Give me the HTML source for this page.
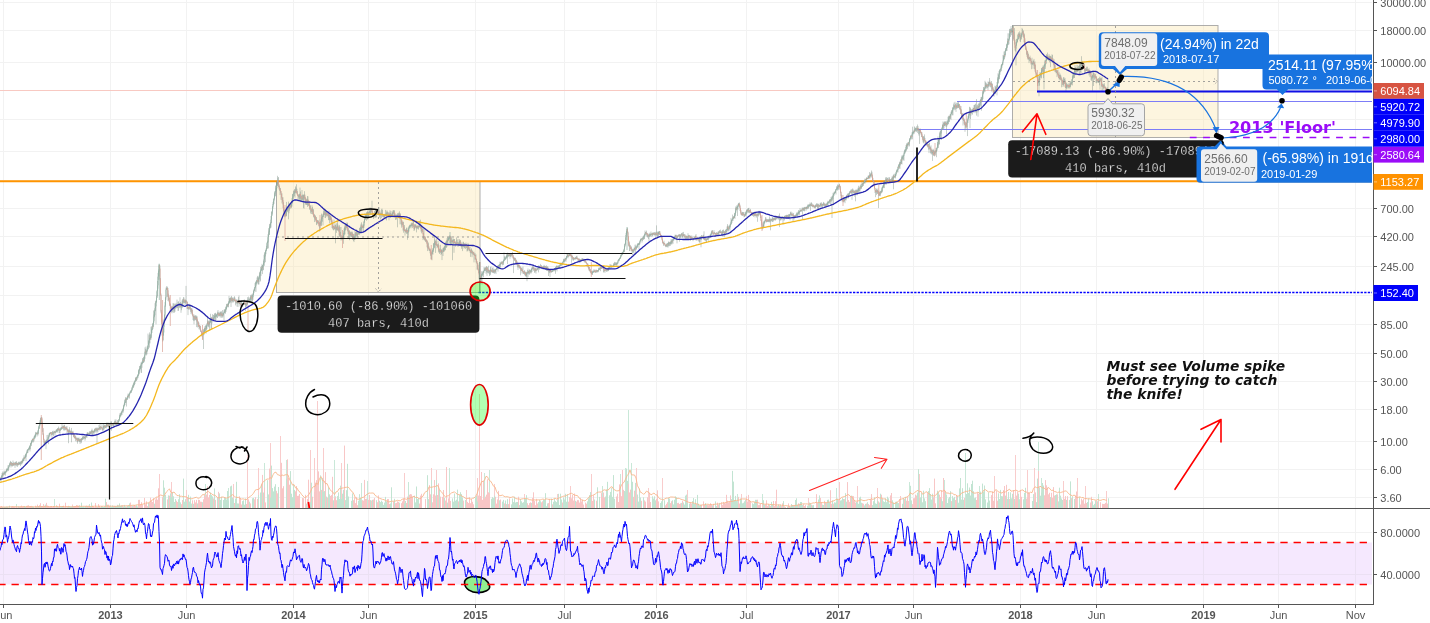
<!DOCTYPE html>
<html lang="en"><head><meta charset="utf-8"><title>BTCUSD chart</title>
<style>
html,body{margin:0;padding:0;background:#fff;}
body{width:1430px;height:623px;overflow:hidden;font-family:"Liberation Sans",Arial,sans-serif;}
svg{will-change:transform;}
svg text{white-space:pre;}
</style></head><body>
<svg width="1430" height="623" viewBox="0 0 1430 623" style="display:block">
<path d="M3.5,0V604.5M110.5,0V604.5M186.5,0V604.5M293.5,0V604.5M368.5,0V604.5M475.5,0V604.5M564.5,0V604.5M656.5,0V604.5M746.5,0V604.5M838.5,0V604.5M913.5,0V604.5M1020.5,0V604.5M1096.5,0V604.5M1203.5,0V604.5M1278.5,0V604.5M1355.5,0V604.5M0,2.5H1373.5M0,30.5H1373.5M0,62.5H1373.5M0,90.5H1373.5M0,119.5H1373.5M0,151.5H1373.5M0,180.5H1373.5M0,208.5H1373.5M0,236.5H1373.5M0,266.5H1373.5M0,295.5H1373.5M0,324.5H1373.5M0,353.5H1373.5M0,381.5H1373.5M0,409.5H1373.5M0,441.5H1373.5M0,469.5H1373.5M0,497.5H1373.5M0,532.5H1373.5M0,574.5H1373.5" stroke="#f2f2f2" stroke-width="1" fill="none"/>
<rect x="0" y="542.5" width="1372.5" height="42" fill="#f5e8fe"/>
<path d="M3.5,543V584M110.5,543V584M186.5,543V584M293.5,543V584M368.5,543V584M475.5,543V584M564.5,543V584M656.5,543V584M746.5,543V584M838.5,543V584M913.5,543V584M1020.5,543V584M1096.5,543V584M1203.5,543V584M1278.5,543V584M1355.5,543V584M0,574.5H1372" stroke="#ebe0f3" stroke-width="1" fill="none"/>
<rect x="276.5" y="181.5" width="203.5" height="111" fill="#fbe7b2" fill-opacity="0.42" stroke="#9a9a9a" stroke-opacity="0.8" stroke-width="1"/>
<rect x="1012.5" y="25.5" width="205.5" height="112" fill="#fbe7b2" fill-opacity="0.42" stroke="#9a9a9a" stroke-opacity="0.8" stroke-width="1"/>
<path d="M0,90.5H1012" stroke="#f8c9c2" stroke-width="1"/>
<path d="M0,181.25H1373.5" stroke="#ff9400" stroke-width="2"/>
<path d="M957,101.5H1373.5 M917.5,129.5H1373.5" stroke="#7d7df7" stroke-width="1" fill="none"/>
<path d="M0,477.6V479.9M0.5,478V480.8M1,476.8V481.4M1.5,475.3V478.6M2,472.9V478.1M2.5,472.5V478.4M3,471.2V476.5M3.5,472.8V475.3M4,472.2V475.4M4.5,470.7V474.5M5,472.1V473.7M5.5,470.9V475.7M6,470.5V473.1M6.5,468.7V471.7M7,468.3V471.9M7.5,469V470.7M8,465.3V470.2M8.5,466.6V471.1M9,465V468.5M9.5,463.4V466.3M10,462.2V464.6M10.5,460.9V465.8M11,461.8V467.5M11.5,462V465.8M12,463V466.3M12.5,463V466.4M13,460.5V465.6M13.5,462.6V465.6M14,462.4V466M14.5,463.2V464.9M15,462V467.9M15.5,462.2V465.4M16,461.4V465.2M16.5,461.3V466.3M17,462.9V464.6M17.5,462.9V466.9M18,462.7V465.7M18.5,461.8V465.1M19,462.2V464.6M19.5,461.7V464.4M20,462.5V465M20.5,461.7V466.1M21,461.3V463.8M21.5,461.1V464.5M22,460.1V464.2M22.5,458.5V462.9M23,459.1V462.4M23.5,457.5V460.9M24,455.3V461M24.5,456.9V459.1M25,455.6V458.6M25.5,454.1V457.5M26,453.4V461.1M26.5,452.3V456.7M27,449.9V453.5M27.5,449.3V453.1M28,449.1V452.8M28.5,448.2V449.7M29,447.1V450.1M29.5,446V449.5M30,445.1V451.5M30.5,442.7V449.3M31,442.9V444.5M31.5,440.7V446.1M32,439.7V442.7M32.5,438.8V442.3M33,438.2V440.2M33.5,438.6V442.4M34,436.4V441.3M34.5,435.3V438.6M35,434.5V438.5M35.5,431.9V437.6M36,432.8V434.9M36.5,432.3V434.2M37,432.6V436.6M37.5,432.2V434.5M38,430V435.5M38.5,427.2V434.1M39,425.5V428.8M39.5,423.1V428.7M40,420.1V425.8M40.5,418.2V423.4M41,417.2V423.2M41.5,416.9V420.3M42,417.4V424M42.5,421.6V431.9M43,427.9V435.1M43.5,433.4V439.9M44,438.8V445.6M44.5,441.4V445.6M45,441.4V443.4M45.5,441.2V442.9M46,440.3V449.2M46.5,439.7V442.8M47,435V442.2M47.5,438.9V441.1M48,434.8V439.4M48.5,436.4V444.2M49,433.5V438.5M49.5,432.8V435.4M50,432.4V436.5M50.5,432.1V433.9M51,432.2V434.5M51.5,432V435.4M52,432.4V438.5M52.5,431.2V434.8M53,430.8V434.8M53.5,432.3V436.3M54,430.7V434.3M54.5,431.1V432.9M55,431.3V435.6M55.5,431.4V433.2M56,429.8V432.7M56.5,429.1V432.2M57,429.6V432.3M57.5,428.1V431.6M58,428V432.8M58.5,426.6V430.5M59,428.3V430.9M59.5,429.1V433M60,427.7V433.6M60.5,427.6V430.9M61,428.2V429.9M61.5,426.9V429.5M62,424.1V429M62.5,426.5V428.6M63,425.7V429.2M63.5,426.2V430.4M64,424.8V428.3M64.5,424.9V430.5M65,426.7V430.1M65.5,426.7V429.5M66,428V430.4M66.5,426.6V429.4M67,426.2V433.4M67.5,429.1V431.3M68,429.1V432.7M68.5,429.8V443.2M69,429.5V432.9M69.5,427.2V432.9M70,429.6V432.5M70.5,431.2V433.5M71,430.8V434.2M71.5,427.9V442.3M72,431.4V434.9M72.5,431.8V433.8M73,430.8V434.7M73.5,433.2V437.1M74,434V437.5M74.5,434.2V438.3M75,436.2V438.7M75.5,435.5V441.3M76,436.7V439.2M76.5,437.9V440.2M77,437.7V442.1M77.5,437.9V443.7M78,437.8V441.8M78.5,438.1V440.7M79,437.5V441.6M79.5,439.5V442M80,438.6V443.9M80.5,438.8V441.8M81,439V443.4M81.5,438V442.5M82,437.9V440.4M82.5,436.7V439.8M83,436.2V440M83.5,436.1V438.9M84,437V439M84.5,436.5V438.5M85,435.4V440.7M85.5,436V439.2M86,435.5V437.5M86.5,435V437.4M87,432.6V437.8M87.5,432.4V435.2M88,432.2V435.2M88.5,432.9V435.9M89,433.2V435.4M89.5,431.3V434.9M90,431.5V433.8M90.5,431.4V434M91,431V434.1M91.5,430.1V434.1M92,428.6V432.3M92.5,430.6V434.8M93,430.4V434.4M93.5,430.8V432.9M94,430.7V434.7M94.5,429.1V432.2M95,428.5V433M95.5,427.8V431.7M96,429V430.9M96.5,428.1V431.7M97,427.2V443.6M97.5,428.4V431.3M98,428.2V431.9M98.5,428.3V430M99,424.9V429.8M99.5,426.9V430.4M100,423.4V429.2M100.5,426.2V430M101,426.7V428.2M101.5,426.7V428.4M102,424.3V430.1M102.5,428.4V430.5M103,426.6V431.6M103.5,424.1V430M104,425.6V427.5M104.5,424.7V429.3M105,425.4V428M105.5,425.6V428M106,424.5V428.3M106.5,423.8V427.5M107,422.1V426.5M107.5,424.3V426.4M108,424V427.2M108.5,422.6V427.1M109,424V426.5M109.5,423.8V425.8M110,422.6V427M110.5,422.7V425.3M111,421V426M111.5,421.7V430.7M112,423.8V426.1M112.5,423.8V425.3M113,423.5V426.6M113.5,422.9V426M114,422.4V426.4M114.5,421.1V424.6M115,419.5V423.7M115.5,421.1V425M116,419.4V425.4M116.5,422.2V426.8M117,422.5V425.2M117.5,420V425.1M118,421V425.1M118.5,419.4V424.5M119,419.1V421.6M119.5,414.7V420.6M120,413V417.7M120.5,413.3V416.3M121,412.2V416.2M121.5,411.7V414.4M122,410.2V415.1M122.5,409.2V411.6M123,408.2V413.1M123.5,405.4V411.5M124,403.7V407.4M124.5,401.6V405.8M125,399.5V405M125.5,397.2V403M126,397.8V402.7M126.5,398.4V406.5M127,397.4V399.9M127.5,395.5V399.7M128,393.6V398.5M128.5,394.4V397.6M129,393.6V396.3M129.5,393.2V398.5M130,391.4V394.2M130.5,390.4V393M131,390.7V392.6M131.5,389.5V392.8M132,387.4V391M132.5,385.8V389.6M133,384.4V387.4M133.5,383.3V388.1M134,381.9V386.4M134.5,381.2V385.1M135,380.3V384M135.5,377.6V381.9M136,377V381M136.5,377.3V381.1M137,376.2V380.1M137.5,374.7V377.5M138,374.4V378.1M138.5,369.3V376.2M139,370V374.7M139.5,366.1V373.7M140,365.9V370.3M140.5,365.4V369.1M141,362.4V372.6M141.5,362.5V373M142,361.3V367.8M142.5,358V364.3M143,359.1V363.1M143.5,357.1V363M144,356.5V362.3M144.5,354.5V361.5M145,347.4V358.8M145.5,349.1V354.6M146,346.5V353.8M146.5,350.5V355.4M147,348.5V354.4M147.5,346.1V351.6M148,333.6V349.1M148.5,341.1V349.3M149,335.2V343.3M149.5,332.4V347.6M150,334.3V343.4M150.5,334.7V339.8M151,326.7V339.7M151.5,328.6V337.9M152,326V333M152.5,323.4V330.2M153,322.8V328.9M153.5,310.5V326.6M154,314.5V322.6M154.5,309.8V317.3M155,303.2V315.2M155.5,300.7V310.9M156,300.9V324.4M156.5,295.6V302.8M157,290.2V298M157.5,281V296.1M158,272.9V288.7M158.5,269.5V279.8M159,263.8V276.4M159.5,265V271.8M160,265.5V280.4M160.5,278V295.7M161,293.5V313.3M161.5,309.9V324M162,319.6V335.6M162.5,331.1V341.7M163,332.5V341.2M163.5,324V336M164,318.7V332.5M164.5,314.4V322.9M165,302.1V317.6M165.5,296.9V306.8M166,287.6V299.8M166.5,286.2V289.9M167,287.6V289.4M167.5,286.6V296.9M168,288V301M168.5,293.7V300.1M169,295.6V302.1M169.5,298V306.1M170,303V305.5M170.5,303.9V307.8M171,305.7V309.4M171.5,306.9V312.3M172,307V313.3M172.5,306.3V311.8M173,303.2V308.8M173.5,303.4V312.8M174,307.9V310.6M174.5,303.6V312.7M175,305.5V311.8M175.5,304V308.8M176,302.9V306M176.5,304.2V308.3M177,299.6V307.6M177.5,304.4V307.9M178,301.8V311M178.5,301.3V310.7M179,303.2V305.8M179.5,303.1V307.6M180,297.3V308.3M180.5,302V307.3M181,304.4V312.8M181.5,303.6V310.2M182,300.4V308.2M182.5,298.9V307.3M183,300.3V306.5M183.5,297.1V302.8M184,297.5V302.3M184.5,300.2V303M185,299.6V305.4M185.5,299.6V303.7M186,285.9V303.4M186.5,300.4V302.5M187,301.2V308.9M187.5,302V309M188,306.7V315.1M188.5,306.8V309.7M189,303.7V308.8M189.5,304.7V309.4M190,304.3V309.4M190.5,305.3V311.8M191,308V314.1M191.5,308.4V312.6M192,308.3V314.6M192.5,309.8V315.8M193,313.9V320M193.5,315.9V320.8M194,314.5V324.3M194.5,316V320.7M195,315.2V319.8M195.5,315.7V319.9M196,315.2V320.5M196.5,316.4V327.1M197,315.9V321.7M197.5,319.3V327.4M198,321.3V324.4M198.5,321.7V327M199,322.7V329.3M199.5,325V328.4M200,325.7V330.1M200.5,325.8V332M201,329.8V331.5M201.5,331V335.8M202,332.8V336.8M202.5,333.1V339.4M203,329.2V335.2M203.5,329.3V349M204,331V335.1M204.5,327.6V332.6M205,326V331M205.5,325.7V331.3M206,325V333.7M206.5,325.3V330.3M207,323V329.1M207.5,317.1V324.4M208,320.1V326.9M208.5,321.2V326.5M209,321.4V327.5M209.5,320.5V330.3M210,318.7V323.4M210.5,313.8V322.7M211,317.9V328.9M211.5,317.1V328.8M212,316.7V323.5M212.5,314.2V319.5M213,318.5V321.7M213.5,315V320.9M214,314.7V320.6M214.5,313.4V320.4M215,313.4V318.3M215.5,312.8V320.3M216,313.7V320.4M216.5,314.5V317.1M217,313.7V317.7M217.5,311.7V318M218,310V314.6M218.5,312.4V316.6M219,312.6V315.9M219.5,312.8V316M220,311.5V317.3M220.5,311.9V315.9M221,311.4V317.7M221.5,311.5V316.3M222,312.8V318M222.5,310.1V316.5M223,313.2V317.4M223.5,312.9V315.6M224,309.7V320.5M224.5,309.5V313M225,309V313.2M225.5,306.7V313.7M226,307.6V312M226.5,304V309.1M227,303.7V307.2M227.5,303.5V306.7M228,304V307.6M228.5,301.2V307M229,295.9V303.8M229.5,298V303.4M230,298.1V302.6M230.5,297.6V302.3M231,296.7V307M231.5,295.9V301.3M232,297.8V303.1M232.5,297.5V301.8M233,297.9V300.6M233.5,298.7V302.4M234,297V301.5M234.5,296.2V301.1M235,297.7V301.4M235.5,299.4V305.4M236,300.2V303.6M236.5,299.5V303.3M237,299.5V306.6M237.5,301.2V303.8M238,299.8V307M238.5,297.1V302.3M239,295.5V304.2M239.5,300.6V304.2M240,302.5V306.4M240.5,301.3V305.7M241,300.5V305.4M241.5,300.5V307.1M242,302.7V307.7M242.5,303.4V306.9M243,302.9V305.8M243.5,301.5V304.1M244,299.8V303.6M244.5,299.6V304.6M245,302.6V304.9M245.5,302.6V310.9M246,300.9V306.8M246.5,301.6V306.5M247,300.7V305M247.5,297.2V304.6M248,299.6V302.2M248.5,296.6V302M249,298.3V301.8M249.5,298.7V301.9M250,297.1V302.2M250.5,294.9V301.8M251,296V299.4M251.5,294.9V300.7M252,293.9V303.6M252.5,294.7V301.3M253,293V299.9M253.5,290.7V295.3M254,288.8V293.1M254.5,287.1V290.9M255,283.1V291.6M255.5,281.9V287.6M256,281.2V291.9M256.5,280.2V284.2M257,277.5V283.4M257.5,275.9V282.5M258,277.1V284.4M258.5,278V284.4M259,275.7V284.5M259.5,272.3V278.7M260,271.6V281.9M260.5,266.9V280.8M261,269.1V276.1M261.5,265.9V270.6M262,263.8V270.6M262.5,265.1V274.1M263,264.8V270.4M263.5,260.8V269.9M264,254.8V263.2M264.5,252.4V265.8M265,252.2V256.8M265.5,250.2V262.2M266,248.5V254.2M266.5,245.9V251.2M267,242.3V248.7M267.5,240.6V248.8M268,234.2V242.6M268.5,228.2V248.4M269,230.6V234.7M269.5,224.1V235.1M270,223.7V228.9M270.5,222.2V228M271,216V227.6M271.5,212.1V223.1M272,210.9V215.9M272.5,206V213.7M273,201.9V208.7M273.5,199.1V205M274,197.8V203.9M274.5,191.3V199.6M275,192.4V196.6M275.5,185.5V196.1M276,186.3V191.4M276.5,182V189.9M277,180.4V188.2M277.5,175.8V186M278,177.7V184.6M278.5,177V187.3M279,184.2V189.4M279.5,185.9V190.8M280,188.3V195.1M280.5,187.9V192.7M281,190.9V199.8M281.5,193.6V197.6M282,193.3V203.4M282.5,197.6V201.6M283,197.2V208.3M283.5,202.2V211.6M284,207.3V214.9M284.5,210.2V216.5M285,211.4V217.3M285.5,211.4V216.5M286,213.1V216M286.5,201.9V216.4M287,206.5V212.3M287.5,207.5V211.8M288,205.5V208.7M288.5,201.6V219.3M289,203.9V213.3M289.5,203.2V210.6M290,204.1V209M290.5,203.4V207.4M291,204.1V208.3M291.5,200.9V207.6M292,198V206.6M292.5,194.4V203.1M293,193.7V197.8M293.5,190.6V199.4M294,190.8V193.7M294.5,189.3V196.3M295,189.1V197.7M295.5,186.4V193.3M296,187.5V192.7M296.5,184.3V193.1M297,188.8V194.6M297.5,191.1V195.9M298,195.1V201.3M298.5,194.1V197.5M299,195.3V199.5M299.5,193.7V200.4M300,187.6V198.7M300.5,191.5V201.7M301,196V199.5M301.5,195.4V201.7M302,190V201.3M302.5,194.6V200.3M303,195.3V199.8M303.5,194.8V207.9M304,194.2V208.8M304.5,191.2V198.7M305,194.7V200.3M305.5,197.4V204.7M306,198.2V204.3M306.5,199.4V205M307,199.2V205M307.5,196V206.9M308,196.4V205.2M308.5,200.2V206.2M309,201.7V205.7M309.5,201.1V209.8M310,205.1V208.8M310.5,205.5V213.5M311,207.9V211.6M311.5,209.1V214M312,205.2V212M312.5,206.9V214.2M313,208.9V214.6M313.5,209.3V216.6M314,215.2V217.8M314.5,213.9V222.1M315,215V219.4M315.5,215.8V220.6M316,217.5V221.9M316.5,217V225.1M317,219.9V224.5M317.5,220.2V223.5M318,220.4V223.1M318.5,220.5V224.4M319,223V226.6M319.5,221.9V231.5M320,219.3V228.3M320.5,222.4V226.1M321,220.6V225.2M321.5,213.6V226.1M322,214.6V219M322.5,216V221.7M323,213.9V225.4M323.5,210.3V217M324,211.3V214.8M324.5,208V214.7M325,210.5V217.8M325.5,209.1V218.1M326,211.2V215.1M326.5,210.8V216.6M327,211V215.6M327.5,212.8V215.9M328,214.3V217.4M328.5,213.5V220M329,210.8V220.4M329.5,214.9V223.4M330,213.8V220M330.5,216.2V220.3M331,215.9V222.6M331.5,217.5V222.6M332,219.4V228M332.5,223.8V229.3M333,226V227.9M333.5,225.7V230.3M334,219.6V230.1M334.5,226.6V229.2M335,224.9V228.9M335.5,224.9V243.3M336,223.4V230.3M336.5,226.6V232.9M337,223.2V230.2M337.5,220.1V230.7M338,224.7V230.2M338.5,227.5V231.5M339,225.8V235.5M339.5,225.2V237.1M340,227.1V235.8M340.5,231.9V237.4M341,227V240.5M341.5,235.3V238.7M342,236.9V240.3M342.5,236.8V239.5M343,235.6V239M343.5,233V243.8M344,228.5V239.1M344.5,227.4V234.4M345,223.8V234.4M345.5,223.6V230.5M346,224.9V230.1M346.5,224.8V227.8M347,222.2V228.7M347.5,223.2V231.2M348,229.3V234.3M348.5,227.6V238.2M349,230.9V233.8M349.5,230.2V240.2M350,232V237.5M350.5,232.5V235.7M351,231.1V237.1M351.5,232V236.9M352,232.9V237.4M352.5,231.7V239.6M353,233.7V239.4M353.5,234.1V240.9M354,235.8V242.1M354.5,235.8V239.9M355,230.9V239.8M355.5,232.2V238.4M356,231.7V235.2M356.5,229.2V236.4M357,231.5V238.8M357.5,233.7V236.8M358,231.5V234.7M358.5,231.1V233.9M359,231.8V235.1M359.5,227.9V234.5M360,227.7V233.7M360.5,226.9V232M361,223.7V229.6M361.5,222.3V232.3M362,225.4V231.8M362.5,225.6V228.2M363,223.9V228.1M363.5,224.6V231M364,220.9V227.9M364.5,218.4V223M365,213V219.9M365.5,214.6V219.4M366,213.8V218M366.5,212.3V220.8M367,211.9V216M367.5,210.5V219.6M368,211.9V219.1M368.5,212.2V217.3M369,208.1V216M369.5,211.2V213.3M370,207.4V214.4M370.5,209.5V214.5M371,207.7V213.1M371.5,208.4V211.9M372,200.7V214.7M372.5,210.8V215.7M373,212.9V216.7M373.5,214.5V219M374,212.7V218.1M374.5,211V215.8M375,211V217.4M375.5,210.1V217.4M376,210V217.8M376.5,211.1V217M377,209.7V213.7M377.5,210.7V213.9M378,208.1V212.3M378.5,208.2V214.2M379,207V215.3M379.5,213.2V217.6M380,210.4V215.3M380.5,212.6V219.6M381,213.2V215.5M381.5,209.4V218.1M382,208.5V215M382.5,209.9V216.8M383,213.9V216.8M383.5,214.5V217.6M384,214.1V217.1M384.5,214.4V218.8M385,213.7V216.6M385.5,209.9V215.5M386,213.5V219.5M386.5,211.6V220.4M387,210.3V215.2M387.5,211.6V215.6M388,212.4V216.1M388.5,213.4V215.7M389,211.9V220.3M389.5,213.3V217.7M390,210.2V215.9M390.5,212.9V218M391,211V217.7M391.5,213.9V216.5M392,213.3V215.9M392.5,211.6V215.1M393,210.3V217.7M393.5,210.2V213.8M394,210.6V217.4M394.5,210.3V217.5M395,212.8V216.8M395.5,214.9V220M396,215.8V218.6M396.5,214.4V219.6M397,215.2V217M397.5,213.1V227.3M398,214.3V216.7M398.5,212.7V216.4M399,213.2V218.4M399.5,211.4V218.3M400,213V224.4M400.5,213.8V218.9M401,217.2V224.3M401.5,219.4V227.7M402,220.1V225.6M402.5,222.2V224.9M403,221.6V230.6M403.5,221.9V232.7M404,226.5V230.3M404.5,225V231.3M405,229.7V235.6M405.5,229.7V232.6M406,229.2V231.8M406.5,227.7V233.6M407,227.7V234M407.5,229.8V239.8M408,230.7V233.1M408.5,227.8V235.8M409,226.2V231.5M409.5,224.8V228.1M410,225V227.9M410.5,224.7V226.4M411,223.5V228.4M411.5,222.6V226.5M412,223.6V226.1M412.5,223.1V228.1M413,221.1V226.5M413.5,220.9V226.9M414,225.3V231M414.5,224.3V230.2M415,224.3V228.4M415.5,224.3V226.9M416,224.7V228M416.5,226.1V232.4M417,225.6V228.7M417.5,225.8V228.4M418,225.2V229.2M418.5,226V229.5M419,222.2V227.7M419.5,220.9V227.4M420,224.9V227.3M420.5,219.7V228.4M421,224.6V231.6M421.5,226V233.3M422,225.6V231.3M422.5,229.1V232.1M423,227.2V240.1M423.5,233V239.2M424,229.1V238.2M424.5,236.3V240.5M425,236.2V240.2M425.5,237.2V242.1M426,239V241.3M426.5,239.5V242.7M427,240.1V247.3M427.5,241.2V251.1M428,243.6V248.4M428.5,242.5V248.7M429,246.4V250.9M429.5,248.8V250.6M430,248.3V253.3M430.5,249.3V255.8M431,251.8V259M431.5,252.7V259M432,250.7V260.3M432.5,248.3V254.3M433,249.8V254.6M433.5,243.1V251.9M434,243.3V247.7M434.5,235.9V248.3M435,239.5V245.1M435.5,240.5V252.9M436,241.2V245.2M436.5,238.6V245.6M437,244.4V248.3M437.5,244.3V247.2M438,240.9V247.7M438.5,243.5V251.8M439,245.2V252.9M439.5,249.1V254M440,248.2V252M440.5,244.8V252.9M441,250V255M441.5,249.5V254M442,248.9V260.1M442.5,250.7V252.6M443,247.9V256M443.5,247.7V251.9M444,246.8V251.2M444.5,246.1V251.5M445,244.1V249.9M445.5,241.6V250.3M446,242.9V247.3M446.5,240.3V247.9M447,238.2V246.8M447.5,237.2V242.2M448,238.5V243.8M448.5,237.6V240.9M449,236.6V239.6M449.5,235.6V239.2M450,235.7V243.3M450.5,236.2V245.3M451,238.3V244.9M451.5,236.4V244.4M452,240.1V242M452.5,239.6V260.2M453,238.1V243M453.5,239.3V244.5M454,239.1V252.8M454.5,239V243.1M455,241.3V243.9M455.5,241.7V246.7M456,242.8V244.9M456.5,237.4V245.1M457,239.9V243.7M457.5,242.2V245.2M458,238.9V247M458.5,242.2V245.4M459,243.1V245.2M459.5,239.2V244.3M460,240.5V245.3M460.5,239.9V245.3M461,241.9V246.9M461.5,243.7V248.8M462,243.4V247M462.5,244.3V251.1M463,241.8V246.9M463.5,241.8V246.9M464,243.1V248.7M464.5,243.7V247.8M465,243.3V247.6M465.5,244V248.9M466,242.5V245.5M466.5,244.1V248M467,245.6V251.5M467.5,245V250.6M468,242.9V251.2M468.5,244.1V249M469,246.5V250.2M469.5,248.7V250.9M470,246.4V252.6M470.5,250.3V256.9M471,249.3V253.1M471.5,248.4V253.5M472,249.9V257.2M472.5,250.9V253.7M473,251.7V255.2M473.5,252.2V254.6M474,251.7V262.4M474.5,253.7V255.8M475,253V259.7M475.5,254.8V259.4M476,254.4V262.4M476.5,258.9V263.3M477,261V269.7M477.5,263V269.3M478,263.4V270.5M478.5,268.6V273.1M479,270.6V279.4M479.5,271V276.7M480,275V281.1M480.5,279.1V283.9M481,275.9V283.2M481.5,271.3V277.7M482,273.5V284.5M482.5,271.7V276M483,270.9V275M483.5,271V277.3M484,267.2V273.1M484.5,268.3V271.1M485,267V270.9M485.5,268.1V270.9M486,266.9V273.8M486.5,266.1V272.3M487,266.6V275.9M487.5,267V272.8M488,269.1V272.4M488.5,265.7V273M489,269.9V274M489.5,270.4V276M490,269.5V275.3M490.5,267.1V274.7M491,266.4V272.6M491.5,269.7V271.8M492,270.1V272.2M492.5,268.1V272.8M493,267.1V272.8M493.5,269.7V273.2M494,268.8V272.8M494.5,269.5V273.7M495,269.8V272.4M495.5,269V272.7M496,268.8V274.1M496.5,266V269.6M497,267V269.9M497.5,266.2V269M498,265V271.6M498.5,264.8V268.4M499,265.1V269M499.5,263.9V267.9M500,261.7V267.5M500.5,262.8V267.6M501,262.3V264.4M501.5,261.3V264.2M502,261.9V263.7M502.5,261V265.4M503,261.9V264.6M503.5,260V264.8M504,252.4V261.4M504.5,256.3V261M505,257.2V259.7M505.5,257.5V260.1M506,256V259.3M506.5,254.1V258.5M507,254.8V257.9M507.5,252.7V264M508,252.9V257.2M508.5,254.7V256.4M509,253.3V256.5M509.5,253.1V256.1M510,254.5V258.8M510.5,253.3V256.9M511,253.5V256.5M511.5,253.2V255.6M512,254V257.4M512.5,252.1V255.4M513,254.8V258.5M513.5,256.5V273.1M514,257.3V259.4M514.5,258.1V260.9M515,257.6V260.9M515.5,258.1V263.1M516,259.7V265M516.5,259.8V264.2M517,261.1V265.3M517.5,263.6V267.4M518,263.1V269.9M518.5,264.5V267.7M519,263.1V266.5M519.5,265.4V268.4M520,265.8V268.8M520.5,266.8V275.3M521,267.4V270.7M521.5,268.1V271.1M522,267.5V273.4M522.5,269.5V271.6M523,266.6V273.6M523.5,271.4V273.9M524,271.1V273.8M524.5,270.2V274.7M525,271.4V275.6M525.5,271.9V276.1M526,272.9V276.9M526.5,271.8V276.6M527,272.1V281.2M527.5,270.1V273.5M528,268.5V277.3M528.5,271V273.7M529,270.1V274.5M529.5,269.3V274.5M530,269.9V273.3M530.5,270.3V272.5M531,269.3V273.7M531.5,267.4V272.6M532,268.5V272M532.5,266.2V269M533,266.6V269.8M533.5,266.5V270.9M534,266.9V269.2M534.5,267.9V272.7M535,268.7V272.6M535.5,267.8V271.3M536,267.7V273.6M536.5,269.2V270.7M537,267.9V270.8M537.5,268V269.8M538,267.3V269.2M538.5,265.4V272.4M539,266.6V268.7M539.5,265.9V269.7M540,265.6V267.4M540.5,263.9V267.5M541,265.4V267.7M541.5,265.2V267.5M542,266.3V268.7M542.5,266.7V268.2M543,266V269.6M543.5,266.1V268.3M544,264.9V268.2M544.5,265.8V268.4M545,265.8V269.2M545.5,266.1V269.2M546,266.6V269.6M546.5,265.4V270.5M547,266.8V271M547.5,266.4V271.1M548,266.6V269.5M548.5,268.3V276M549,269.7V272.2M549.5,269.7V273.1M550,269.6V277.1M550.5,269.6V272M551,270.3V273M551.5,270.7V272.3M552,270.6V272.2M552.5,270.3V272M553,269.7V271.5M553.5,269V271.3M554,268.3V270.4M554.5,268.8V270.8M555,268.1V271.4M555.5,267.3V273.8M556,266.2V269.9M556.5,265.7V269.6M557,265.3V271.4M557.5,266.1V267.4M558,265.8V269M558.5,265.3V267.8M559,265.8V268M559.5,265.1V268.3M560,263.4V266.7M560.5,262.8V266M561,264.2V265.8M561.5,263V265.9M562,262.1V264.8M562.5,262.6V265.4M563,261V264.7M563.5,258.8V262.1M564,259V262.5M564.5,259.5V262.2M565,258V261.3M565.5,257.8V260.6M566,257.9V261.8M566.5,256V259.5M567,253.6V257.3M567.5,253.8V257.5M568,254.6V258.3M568.5,254.1V256.9M569,255.1V256.4M569.5,253.2V255.7M570,253.4V256.1M570.5,253.7V255.9M571,254.7V257.5M571.5,254.4V262.7M572,254.7V257.2M572.5,256V259.5M573,257.4V260.6M573.5,257V260.6M574,257.9V260M574.5,257.9V259.5M575,257.3V259.1M575.5,257.4V259.5M576,256.8V259.5M576.5,256.2V259M577,255.7V259.1M577.5,257.6V259.1M578,258V261.1M578.5,259.1V261.2M579,258.1V261M579.5,258.9V262.7M580,259.2V262.8M580.5,259.5V261.8M581,259.9V261.4M581.5,258.7V261.1M582,258.4V260.7M582.5,258.3V261.1M583,258.4V260.5M583.5,259.6V261M584,258.8V261.6M584.5,259.8V262.5M585,259.1V261.5M585.5,259.6V262.7M586,261.1V263.3M586.5,262.1V263.8M587,263.2V266.8M587.5,263.6V265.1M588,263.7V267.5M588.5,265.1V269.4M589,266.8V270.7M589.5,267V270.8M590,268.8V272.2M590.5,269.1V272.6M591,270.7V273.5M591.5,271.1V274.4M592,271.4V274.4M592.5,270.6V275M593,271.5V272.8M593.5,270.5V272.5M594,269V272.5M594.5,270.3V272.3M595,270.1V272.2M595.5,270.7V272.9M596,269.4V272.7M596.5,269.9V272.2M597,270.3V272.6M597.5,270V271.9M598,270V272.3M598.5,267.7V271.7M599,268.3V270.3M599.5,268.4V269.8M600,266.8V269.2M600.5,266.7V271.2M601,266.2V268.7M601.5,266.5V268.9M602,266.3V268.6M602.5,267V268.2M603,266.8V268.6M603.5,266.1V272.4M604,266.7V272.3M604.5,269.4V271.1M605,269.2V272.7M605.5,268.2V270.6M606,268.6V270.5M606.5,268.7V271.5M607,267.6V272M607.5,268.4V270.7M608,267.9V271.1M608.5,267.2V271.1M609,266.1V269.5M609.5,266.3V267.9M610,264V269.4M610.5,264.7V267.3M611,266.5V267.8M611.5,264.7V267.8M612,265.7V267.2M612.5,265.7V267.2M613,265.3V267.7M613.5,263.5V266.6M614,262.9V267.3M614.5,261.9V265.1M615,262.9V266.5M615.5,262.1V265M616,263.2V265.1M616.5,262.1V265.5M617,263V265.7M617.5,262.2V264.3M618,260.3V263.6M618.5,259.2V261M619,258.8V261.2M619.5,257.7V260.6M620,257.5V259M620.5,255.7V258.5M621,254.5V257.4M621.5,254.4V255.7M622,252.3V255.5M622.5,252.1V254.8M623,251.5V253.5M623.5,250.2V252.2M624,248.8V252.2M624.5,244.4V252M625,243.2V247.2M625.5,237.4V245.1M626,232.9V240.3M626.5,230.9V237.2M627,228.4V234.4M627.5,227.6V232.9M628,231.5V240.9M628.5,236.2V245.8M629,241V246.9M629.5,242.3V251M630,244.8V251.1M630.5,245.5V249M631,247V249.5M631.5,246.4V250.8M632,248.5V252.8M632.5,249.2V255.3M633,249.4V251.4M633.5,249.4V252.7M634,247.7V253.7M634.5,247.7V250.7M635,244.7V249.6M635.5,246.3V255M636,244.6V249.8M636.5,246.5V249.2M637,245.6V247.8M637.5,243.3V247.7M638,243.6V246.7M638.5,242.9V245M639,243V249.4M639.5,241.9V245M640,240.1V244.2M640.5,239.1V241.7M641,237.8V240.1M641.5,238.5V240.5M642,238.4V242.6M642.5,237.4V241.1M643,236.4V239.5M643.5,235.4V239.9M644,236V239.1M644.5,234V239.1M645,230.5V235.4M645.5,232.1V234.6M646,231.8V236.3M646.5,230.6V234.6M647,232.8V236.9M647.5,233.4V237.6M648,233.5V236.8M648.5,234.9V239M649,233.9V241.8M649.5,233.6V236.9M650,232.6V237M650.5,233.9V235.8M651,231.5V236.5M651.5,233.6V235M652,233.1V237.1M652.5,233.2V235.9M653,232V235.4M653.5,232.9V234.8M654,232.5V235.1M654.5,232.1V235.4M655,233.4V235.5M655.5,232.4V235.4M656,231.8V238.3M656.5,225.4V234.8M657,232.3V236M657.5,231.6V237.2M658,232.7V236.7M658.5,231.5V235.8M659,231.2V234.7M659.5,231V235M660,231.2V234.8M660.5,233.8V236.3M661,234.8V237.2M661.5,235.3V237.6M662,236.6V240.4M662.5,238.7V243.1M663,241.8V243.8M663.5,241.9V245.9M664,240.7V244.9M664.5,242.8V244.2M665,243.5V245.8M665.5,244.9V246.7M666,244.7V247.3M666.5,244.3V247M667,243V245.6M667.5,243.7V247.1M668,242.8V247.7M668.5,241.5V246.3M669,241.9V245.8M669.5,242.4V246.2M670,241.7V244.6M670.5,241.3V245.8M671,239.3V243.7M671.5,239.4V244.4M672,240.5V244.4M672.5,238.6V242.7M673,239.1V243.9M673.5,238.1V240.5M674,236.6V240.3M674.5,236.3V239.3M675,234.7V238M675.5,235V238.4M676,234.6V238.3M676.5,235V240.1M677,236.1V243.4M677.5,235.6V237.7M678,235V237.2M678.5,234.4V236.5M679,234.6V236.5M679.5,234.1V241.7M680,234.5V237.6M680.5,234.4V238.3M681,234.3V236.7M681.5,233V235.5M682,232.9V238M682.5,232.4V237.2M683,234.4V238.2M683.5,231.9V236.3M684,234.1V235.9M684.5,234.2V238.3M685,236V237.1M685.5,234.6V240M686,236.5V238.2M686.5,235.5V239.9M687,236.1V237.8M687.5,235.9V239M688,233.2V238.2M688.5,235.4V238.9M689,234.9V237.2M689.5,235.2V237.5M690,236.2V239.8M690.5,235.8V240.9M691,235.4V239.5M691.5,237.1V239M692,235.7V238.5M692.5,237.3V239.4M693,238.2V241.2M693.5,238.2V239.8M694,235.9V239.4M694.5,236.9V239.1M695,236.5V239.9M695.5,235.7V237.8M696,234.1V240.5M696.5,237.8V240.2M697,238V240.8M697.5,236.9V239.8M698,237.4V239.8M698.5,237.9V240.7M699,238.5V242M699.5,236.7V242.8M700,237.9V242.1M700.5,236.3V239.5M701,236.2V247.3M701.5,235V239.9M702,235.3V237.1M702.5,236.2V238.2M703,235.4V237.5M703.5,234.7V239.4M704,231.3V239.7M704.5,237.4V240.2M705,237.7V240.5M705.5,237.9V240.6M706,237.8V241.7M706.5,238.5V242.5M707,238.4V239.9M707.5,238V240.2M708,236.5V239.3M708.5,235.7V240.7M709,236.2V238.3M709.5,235.7V238.4M710,234.6V237.3M710.5,234.2V238M711,232.7V237.3M711.5,231.2V234.4M712,230V235M712.5,230.2V233.6M713,231.5V234.3M713.5,232.9V234.7M714,230.1V234.1M714.5,232V234.2M715,232.7V236.9M715.5,232.9V234.7M716,233.1V236M716.5,232V235.3M717,233V235.4M717.5,232.6V234.6M718,231.6V234.9M718.5,231.4V234.5M719,231.1V235.3M719.5,230.1V232.8M720,230.7V233.1M720.5,229.6V233.2M721,231.8V233.2M721.5,231.3V235.3M722,231.1V234M722.5,230.1V234.7M723,229.8V236.9M723.5,229.6V233M724,231.6V234.8M724.5,231V236.8M725,231.3V233.3M725.5,229.8V235.4M726,229.5V233.5M726.5,228.9V232.1M727,226.5V233.8M727.5,224.1V230.5M728,225.5V230.3M728.5,227.8V231.3M729,225.9V230.2M729.5,225.6V228.8M730,223.9V230.7M730.5,223.5V227.4M731,217.9V224.4M731.5,219.7V224.4M732,219.3V222.9M732.5,214.6V220.6M733,217.1V221M733.5,216.1V219.1M734,215.9V217.9M734.5,213V218.2M735,212.6V218.8M735.5,207.5V215.9M736,206.1V212.6M736.5,207.4V210.1M737,205V209.2M737.5,206.2V216M738,203.9V209.7M738.5,202.9V206.6M739,203.1V204.9M739.5,202.5V207.3M740,204.7V211M740.5,207.8V212.8M741,210.1V214.7M741.5,213V215.6M742,212V215.1M742.5,211.9V216M743,212.2V215.4M743.5,212V215.1M744,213.7V217.3M744.5,214.2V216.9M745,212V215.8M745.5,212.5V215.6M746,211.1V216.6M746.5,209.9V214.6M747,209.3V213.5M747.5,209.1V212.5M748,208V211.2M748.5,208.2V213.1M749,207.8V212M749.5,210.4V213.2M750,209.9V213M750.5,208.9V212.5M751,211.7V213.1M751.5,212V213.9M752,212.1V216M752.5,212.4V215.9M753,212.2V215M753.5,212.9V216.8M754,212V216.1M754.5,211.7V215.8M755,212.5V217.4M755.5,213.2V215.9M756,212.9V215.8M756.5,214.2V217.5M757,213.4V215.9M757.5,213.3V221.8M758,214.1V215.6M758.5,213V216.5M759,210.7V215.5M759.5,212.6V214.6M760,212.5V214.3M760.5,212V218M761,215.6V221.1M761.5,219.5V225.5M762,222.2V228.6M762.5,227.1V229.5M763,225.3V228.1M763.5,221.7V228.4M764,220.9V227.3M764.5,220.7V223.4M765,219.6V222.7M765.5,217.2V221.3M766,217.5V221M766.5,219.2V222.4M767,219.3V222.1M767.5,219.4V221.6M768,219V221.8M768.5,219.5V221.9M769,218.8V222.3M769.5,216.5V222.2M770,219.2V221.5M770.5,218.4V230.3M771,219.4V222.1M771.5,219V220.7M772,217.8V220.7M772.5,217V222M773,217.7V222.1M773.5,218V220.6M774,217.6V220.7M774.5,217.9V220.1M775,217.8V219.8M775.5,218.1V220.6M776,215.6V219.7M776.5,216.3V218.4M777,216.3V219.5M777.5,216.2V218.4M778,216V218.2M778.5,215.6V219.5M779,216.2V219.2M779.5,213.4V227.1M780,216.7V220.9M780.5,217.4V219.9M781,217V220.4M781.5,216.8V218.7M782,216.7V219.7M782.5,216.2V218.2M783,216.9V224.7M783.5,216.9V218.7M784,216.4V220.9M784.5,215.9V219.7M785,215.5V218M785.5,215.5V217.7M786,215V218M786.5,215.1V217.7M787,214.6V216.8M787.5,215V217.9M788,215.4V217.8M788.5,214.4V218.1M789,214V218.4M789.5,214.5V217.9M790,213.8V220.3M790.5,211.9V214.8M791,211.5V216.3M791.5,213.5V215.6M792,212.4V216.6M792.5,214V215.6M793,212.9V220.9M793.5,213.4V216.7M794,215V219.6M794.5,215.9V218M795,215.2V218.2M795.5,214.6V217.1M796,214.6V216.7M796.5,212.5V216.3M797,212.9V216.1M797.5,213.2V216.8M798,211.6V215.9M798.5,210.1V214.2M799,210.7V214.9M799.5,211V214.5M800,208.1V212M800.5,209.9V211.6M801,209.4V211.3M801.5,210V211.8M802,207.7V210.7M802.5,208.2V219.2M803,207.1V210M803.5,208V210.9M804,207.4V211.1M804.5,207.1V211.3M805,206.8V209.3M805.5,207.4V208.9M806,206.9V210.9M806.5,206.5V209.2M807,206.8V209.4M807.5,204.6V208.6M808,205.5V209.1M808.5,204.4V208.4M809,204.4V206.3M809.5,204.5V207.2M810,202.5V206M810.5,204.3V210.8M811,202.9V205.9M811.5,202.3V206.2M812,203.3V206.6M812.5,204.3V207.3M813,205.1V206.8M813.5,204.5V207.5M814,205.3V207.1M814.5,206V208M815,205.1V208.6M815.5,204.8V208.2M816,204.1V206.6M816.5,203.2V206.8M817,204.3V206.8M817.5,203.5V209.5M818,203.7V208.6M818.5,203.9V209.8M819,205.2V206.7M819.5,205.2V207.1M820,203.4V207.6M820.5,202.7V206.7M821,203.3V205.6M821.5,202.3V207.2M822,204.4V206.4M822.5,204.2V207.9M823,203.2V205.2M823.5,201.9V206.3M824,202.6V205.7M824.5,203.7V206M825,203.1V208M825.5,204.1V205.9M826,204.4V206.7M826.5,203.3V206.2M827,202.6V206.8M827.5,201.7V205.3M828,200.7V205.6M828.5,201.4V203.2M829,201.1V204M829.5,199.4V203.1M830,199.5V201.5M830.5,199.1V204.4M831,196.9V202M831.5,197.8V201.1M832,196V218M832.5,196.2V200.5M833,192.8V199.1M833.5,193.6V205.2M834,191.8V195.9M834.5,192.1V194.3M835,191V193.2M835.5,189.5V193.1M836,188.9V194.5M836.5,186.2V189.9M837,187V189.9M837.5,184.5V190.6M838,185.3V188.7M838.5,185.8V189.8M839,183.6V186.9M839.5,183.9V187.3M840,185.5V190M840.5,186.4V193.2M841,191.5V199.1M841.5,194.4V199.1M842,195V201.4M842.5,198.8V201.3M843,199.4V202.3M843.5,198.2V202.2M844,199.1V201.7M844.5,197.8V201.5M845,197.7V203.2M845.5,198.1V199.6M846,196.6V200.6M846.5,195.2V199.4M847,194.6V197.9M847.5,193.5V196.6M848,193.9V198.7M848.5,192.9V198M849,193.3V196M849.5,191.3V194.6M850,191.3V193.9M850.5,190.6V193M851,189.5V193.2M851.5,189.4V193.6M852,190.4V199.8M852.5,188.6V192.5M853,188.8V194.5M853.5,190.2V193.2M854,191.2V193.1M854.5,190.3V196.6M855,191.1V193.2M855.5,189.8V201.3M856,189.9V193.8M856.5,189.9V194.3M857,189.3V195.3M857.5,189.7V194.4M858,187.7V191.6M858.5,185.8V192.9M859,188V191.5M859.5,187.7V191M860,185.8V193.4M860.5,185.3V189.4M861,183.7V188.1M861.5,186.1V189.1M862,180.6V186.8M862.5,182.9V186.7M863,183.4V184.6M863.5,181.5V186M864,181V183.8M864.5,179.7V183M865,178.4V183.7M865.5,179.2V182.2M866,178.9V182.4M866.5,177.4V180.8M867,177.5V179.5M867.5,177.7V179.1M868,175.7V179.2M868.5,175.6V178.5M869,175.3V178.4M869.5,172.1V178.5M870,174.6V178.5M870.5,173.4V176.1M871,172.6V177M871.5,170.5V175.8M872,171.8V178M872.5,175V180.2M873,177.9V181.7M873.5,180.3V182.3M874,181.2V186.5M874.5,183.2V188.5M875,187.9V193M875.5,190V197.2M876,190.2V192.2M876.5,188.6V195.1M877,189.2V193.6M877.5,190.2V193.7M878,188.3V194M878.5,191.1V208.1M879,191.5V195.6M879.5,192.5V195.9M880,190.5V196.3M880.5,191V195.6M881,191.1V193.6M881.5,189.6V193.1M882,187.1V192.6M882.5,185.5V191.8M883,186.3V188.4M883.5,181.1V187.8M884,180.9V185.4M884.5,182.1V188.1M885,180.2V183.8M885.5,177.4V184M886,178.7V185M886.5,177.1V184M887,178.4V180.9M887.5,178V181.6M888,177.4V181.4M888.5,180.6V183.6M889,177.3V181.7M889.5,177.4V181M890,179.1V182.6M890.5,179V181.2M891,179.8V182M891.5,178.3V182.1M892,176.5V182.2M892.5,176.7V181.6M893,175.6V180.3M893.5,174.8V189.3M894,173.9V178.2M894.5,175.9V177.5M895,173.6V177.6M895.5,174V178.4M896,171.8V176M896.5,170.4V174.4M897,169.1V171.5M897.5,169.2V172.4M898,166.6V172.4M898.5,164.2V168.8M899,164.8V167.4M899.5,161.7V168.6M900,162.3V168.8M900.5,161.9V165.4M901,159.1V163.9M901.5,156.6V164M902,155.3V164.5M902.5,156.4V159.4M903,154.8V159M903.5,154.9V160.2M904,151.6V160.8M904.5,150.3V154M905,149V153.6M905.5,149.4V151.9M906,145.1V151.5M906.5,143.3V150.6M907,144.1V149.4M907.5,143.5V148.8M908,142.2V144.7M908.5,142.6V145.5M909,141.6V146.8M909.5,138.2V145.8M910,138.3V141.4M910.5,135.4V139.5M911,135.4V138.2M911.5,135.2V139.4M912,132.3V137.2M912.5,126.7V139.3M913,131.5V134.5M913.5,131.5V133.3M914,129.8V134.1M914.5,126.4V132.4M915,127.3V132.2M915.5,128.1V130.7M916,127.9V131M916.5,126.3V132.1M917,128.2V130.8M917.5,124.5V132.9M918,126V130.6M918.5,128.2V134.2M919,129V135.7M919.5,129.7V143.9M920,128.2V133.5M920.5,129.8V133.1M921,131.4V134.7M921.5,132.3V137.1M922,132.3V137.1M922.5,135.7V139.8M923,137V142.4M923.5,136V143.3M924,136.5V142.2M924.5,134.4V140.9M925,137.9V145.6M925.5,140.3V144.4M926,140.7V144.5M926.5,141.8V145.3M927,141.9V146.1M927.5,143.2V147.4M928,144.2V146.6M928.5,143.9V149.6M929,143.6V153.1M929.5,142.7V148.9M930,146.5V150M930.5,146.8V153M931,145.4V154.1M931.5,149.2V153.5M932,150V154.9M932.5,149.8V160.9M933,148.7V154.1M933.5,149.7V155.7M934,149.9V155.9M934.5,151.2V156.4M935,151V153.7M935.5,150.4V154.9M936,148.1V152.5M936.5,148.1V157.2M937,146.9V151.1M937.5,142.2V148.1M938,136.5V146.4M938.5,138.4V148M939,138.5V144.8M939.5,132.6V144.2M940,131.5V137.8M940.5,130.8V138.3M941,129.8V133.7M941.5,128.3V140M942,127V130.1M942.5,124.3V129.5M943,121.4V127.2M943.5,122.4V129.1M944,123V128.5M944.5,121.6V126M945,121.2V126M945.5,121.8V125.4M946,121.3V127M946.5,123V134.6M947,120.7V126.4M947.5,121.4V124.8M948,116.8V124.5M948.5,116.2V124M949,115.6V122.1M949.5,115.9V121.8M950,114.4V118.2M950.5,113.9V119M951,111.7V120.1M951.5,110.1V114.1M952,110.6V113.1M952.5,107.2V115.3M953,107.7V115.3M953.5,104.4V109.2M954,102.6V110.4M954.5,105.4V109.4M955,101.7V107.7M955.5,103.7V109.6M956,105.3V111.9M956.5,102.8V108.9M957,104.6V107.3M957.5,102.4V108.4M958,102.8V108M958.5,101.3V108.1M959,104V107.4M959.5,104.2V109.3M960,105.7V110.1M960.5,107.9V113.8M961,106V114M961.5,109.4V118.6M962,113.3V117.9M962.5,113.9V119.7M963,112.9V125.5M963.5,118.1V121M964,118.4V123.8M964.5,119.5V125.1M965,121.3V131.8M965.5,122V127.6M966,123.3V129.2M966.5,122.7V126.8M967,118.8V127.1M967.5,119.7V136.1M968,116.3V122.9M968.5,114.4V118.9M969,111.1V117.8M969.5,106.8V115M970,107.1V128.1M970.5,108.1V119M971,109V115.6M971.5,110V113.1M972,109.4V113.6M972.5,109.5V114.7M973,107.5V111.4M973.5,108V112.6M974,105V111.1M974.5,105.1V110.5M975,104.4V113.2M975.5,103.7V111.4M976,108.6V112.1M976.5,99.1V115.6M977,105.5V112.5M977.5,104.7V109.9M978,107.2V116.7M978.5,103.8V111.3M979,103.1V110M979.5,103.8V107.8M980,100.6V107.5M980.5,99.1V104.8M981,97.1V100.9M981.5,97.2V110.7M982,96.6V101.9M982.5,90.8V100.2M983,91.6V99.1M983.5,87.1V93.6M984,87V92.5M984.5,88V90.7M985,80.8V91.9M985.5,82.3V88.1M986,82.6V88.9M986.5,83.5V87.4M987,84.4V88.3M987.5,84.3V87.8M988,81.4V90.2M988.5,81.9V87.2M989,82.3V85.5M989.5,78V86.6M990,80.6V84.4M990.5,82.8V87.4M991,82.6V86.8M991.5,81V91.5M992,83.5V89.5M992.5,83.7V89.7M993,87.1V92.6M993.5,89.1V96M994,90V96.6M994.5,90.3V92.6M995,85.7V93.5M995.5,86.3V94.1M996,87.1V89.7M996.5,85.1V91.3M997,82V95.4M997.5,77.3V87.4M998,73.3V83.3M998.5,74.9V83.4M999,71V79.5M999.5,69.6V79M1000,69.4V74.8M1000.5,68.6V72.2M1001,65.5V69.6M1001.5,64V71.2M1002,63.8V67.8M1002.5,62.1V65.2M1003,54.9V64.7M1003.5,56V60.8M1004,51.5V59.6M1004.5,53.9V59.2M1005,50.8V57.3M1005.5,48.2V55.4M1006,48V51.3M1006.5,43.7V50.8M1007,44.2V51M1007.5,38.5V47.9M1008,33.3V43.3M1008.5,39V45.1M1009,33.4V44.3M1009.5,29.1V39.4M1010,28.7V35.6M1010.5,28.9V37M1011,26.1V33M1011.5,28.1V35.2M1012,29.1V32.4M1012.5,25.5V32M1013,25.6V32.5M1013.5,26.1V39M1014,31.7V40.7M1014.5,28.1V44.6M1015,39.7V50.6M1015.5,45.4V51.6M1016,41.8V65.4M1016.5,38.9V45.9M1017,38.9V43.2M1017.5,38.6V42.2M1018,33.7V40M1018.5,32.4V39M1019,33.7V38.8M1019.5,31.3V37.2M1020,33.3V41.3M1020.5,36.7V42.1M1021,32.5V40M1021.5,33.8V38.9M1022,27.9V37.1M1022.5,29V33.1M1023,31.3V35.6M1023.5,30.4V37.7M1024,33.1V42.2M1024.5,34.2V45M1025,38.4V46.4M1025.5,43.3V49.7M1026,45.7V50.2M1026.5,48.6V54.7M1027,50.8V56.9M1027.5,50.8V58.4M1028,52.5V59.8M1028.5,53.9V59.4M1029,57.4V63.1M1029.5,57.2V61.2M1030,55.6V59.3M1030.5,57.9V61.2M1031,58.7V64.6M1031.5,61.1V69.2M1032,57.7V63.5M1032.5,62.6V65.1M1033,60.8V68.8M1033.5,60.5V64.4M1034,58.9V65.8M1034.5,62.5V69.2M1035,61.4V71.7M1035.5,65.1V72.8M1036,69.9V76M1036.5,72.9V76.9M1037,75V78.2M1037.5,74.3V86.1M1038,79.8V86.1M1038.5,75.5V83M1039,78.8V96.3M1039.5,75.9V85.7M1040,72V80.2M1040.5,72.9V76M1041,72.7V77.7M1041.5,68.1V78.4M1042,67.8V74.5M1042.5,67V71.7M1043,65.5V73.3M1043.5,67.1V78.2M1044,64.8V89.4M1044.5,64V72.8M1045,60V66.5M1045.5,60.3V68.9M1046,57.7V64.1M1046.5,54.1V60.9M1047,55V59.6M1047.5,52.6V59.8M1048,55.7V60.1M1048.5,56.9V60.7M1049,54.1V59.5M1049.5,55.7V62.4M1050,56.5V59.8M1050.5,55.8V67.2M1051,56.2V60.8M1051.5,57.6V60.4M1052,54.3V61.2M1052.5,55V62.5M1053,58.3V62.8M1053.5,60.7V64.6M1054,59.1V71M1054.5,63.5V67.5M1055,64.7V72.1M1055.5,67.9V71.7M1056,69.1V73.3M1056.5,70.3V73.1M1057,69.9V77.1M1057.5,70.6V74.5M1058,69.6V76.1M1058.5,74.1V78M1059,71.8V79.4M1059.5,75V79.3M1060,73.5V80.6M1060.5,74.8V79.7M1061,75.6V80.1M1061.5,78.2V87.3M1062,78.5V81.6M1062.5,79.8V84.9M1063,80.9V87M1063.5,77.2V85.6M1064,77.3V83.8M1064.5,79V83.8M1065,77.9V87.2M1065.5,80.6V88M1066,83.1V92.1M1066.5,82.6V88.8M1067,84.3V88.4M1067.5,84.6V86.7M1068,83.6V88.5M1068.5,85.5V87.5M1069,83.3V88.5M1069.5,84.6V87.4M1070,82.2V88.5M1070.5,81V87.1M1071,82.8V85.4M1071.5,82V84.7M1072,79V83.1M1072.5,76V85.4M1073,72V77.7M1073.5,72.4V78.7M1074,72.9V78M1074.5,68.1V77.9M1075,65.1V75.2M1075.5,67.4V72.9M1076,67.6V72M1076.5,68.6V72.7M1077,64.8V71M1077.5,67.3V71.9M1078,65.4V72.4M1078.5,66V70.8M1079,67.7V70.6M1079.5,64.5V74M1080,62.8V66.5M1080.5,63.9V72.4M1081,62.9V73.5M1081.5,56.2V69M1082,61.9V65M1082.5,60.8V66.8M1083,62.8V65.4M1083.5,63V68.2M1084,62.6V67M1084.5,64.1V71.6M1085,68.4V72.6M1085.5,68.4V71.5M1086,68.1V70.9M1086.5,66.7V71M1087,68.9V70.6M1087.5,66.7V71.7M1088,69.6V71.3M1088.5,69.4V73.3M1089,68.3V75.4M1089.5,70V74.2M1090,70.1V77.2M1090.5,71.7V74M1091,70.7V80.2M1091.5,76.2V80.9M1092,75.9V78.9M1092.5,74.9V90.8M1093,70.4V78M1093.5,72.7V86M1094,72.6V77M1094.5,75.2V79.8M1095,73.6V78.7M1095.5,74.2V78.2M1096,76V83.1M1096.5,76.5V83.3M1097,79.4V81.2M1097.5,79V82.3M1098,78.2V82.9M1098.5,78.1V82.9M1099,80.1V82.5M1099.5,77.4V85.3M1100,76.4V89.6M1100.5,78V80.7M1101,78.8V82M1101.5,77.9V86.7M1102,76.9V90.8M1102.5,84.4V86.6M1103,83.4V90.4M1103.5,84.3V88.8M1104,84.8V87.5M1104.5,83.2V88.3M1105,86.9V89.7M1105.5,86.5V91.8M1106,87.8V92.4M1106.5,87.7V92.7M1107,89.1V91.8M1107.5,87.3V94.5M1108,78.8V93" stroke="#84968d" stroke-opacity="0.75" stroke-width="0.6" fill="none"/>
<path d="M0,478.8V479.5M0.5,478.4V479.1M1,477.5V478.4M1.5,476.3V477.5M2,475.5V476.3M2.5,474.4V475.5M3,474.1V474.8M4,473.6V474.6M4.5,472.6V473.6M5,472.4V473.1M5.5,472V472.7M6,471.4V472.1M6.5,470V471.4M7,469.5V470.2M7.5,469.4V470.1M8,467.7V469.4M8.5,467V467.7M9,465.3V467M9.5,464.4V465.3M10,463.3V464.4M11,463.4V464.1M13,463.2V464.8M15,463.5V464.3M16,463.3V464M16.5,463.1V463.8M17.5,463.8V464.5M18,463.8V464.5M19,463.6V464.3M19.5,463.3V464M20,463.1V463.8M20.5,462.8V463.5M21,461.6V462.8M21.5,461.5V462.2M22.5,460.6V462.2M23,460.4V461.1M23.5,459.4V460.4M24,457.9V459.4M25,457.3V458.2M25.5,454.9V457.3M26,453.7V454.9M26.5,452.8V453.7M27,451.4V452.8M27.5,450.7V451.4M28,449.4V450.7M28.5,448.8V449.5M29,448.5V449.2M29.5,446.6V448.5M30,445.6V446.6M30.5,444.1V445.6M31,443.1V444.1M31.5,441.3V443.1M32,440.1V441.3M32.5,439.2V440.1M34,437.5V439.3M34.5,436.3V437.5M35,436.2V436.9M35.5,434.2V436.2M36,433.5V434.2M36.5,433V433.7M37.5,433V433.7M38,430.8V433M38.5,428.4V430.8M39,425.9V428.4M39.5,424.7V425.9M40,421.9V424.7M40.5,419.6V421.9M41,418.1V419.6M44.5,442.5V443.2M45,441.9V442.6M45.5,441.6V442.3M46,440.6V441.6M46.5,440.6V441.3M47,439.6V440.6M47.5,439.2V439.9M48,437.3V439.2M48.5,436.9V437.6M49,435.1V436.9M49.5,433.3V435.1M50,433.1V433.8M50.5,432.6V433.3M52,433.3V434.4M52.5,432.6V433.3M53,432.5V433.2M54,432.1V432.8M54.5,431.6V432.3M55.5,431.8V432.5M56,430.6V431.8M56.5,430.3V431M57,430.1V430.8M57.5,429.1V430.1M58.5,428.8V429.5M60,429.7V430.4M60.5,429.1V429.8M61,429V429.7M61.5,427.6V429M62,427.1V427.8M63,426.6V427.8M64,426.7V427.7M65,427.4V428.1M66.5,428.2V429M68.5,431.1V431.8M69.5,430.9V431.6M70.5,432.1V432.8M71.5,432.3V433M72.5,432.2V432.9M78,439.6V440.6M78.5,439.2V439.9M79.5,440V440.7M80,439.1V440M81.5,438.9V440.3M82,438.6V439.3M82.5,438V438.7M83,436.7V438M84,437.3V438M84.5,437.3V438M85,436.6V437.3M86,436.1V436.8M86.5,435.7V436.4M87,434.7V435.7M87.5,433.7V434.7M88.5,434V434.7M89,433.9V434.6M89.5,433.6V434.3M90,432.9V433.6M90.5,432.2V432.9M91.5,431.8V432.5M92,431.4V432.1M92.5,431.1V431.8M93.5,431.6V432.3M94,431.2V431.9M94.5,430.2V431.2M95,428.7V430.2M96.5,428.8V429.5M97,428.8V429.5M98,428.8V429.5M99,427.8V428.8M100,426.8V428.4M103,427.7V429.2M103.5,426.1V427.7M104.5,425.9V426.7M106,425.4V426.7M106.5,424.1V425.4M109,425.1V425.8M109.5,424.3V425.1M110.5,424.2V424.9M111,423.3V424.2M113,423.9V424.7M113.5,423.5V424.2M114,422.8V423.5M114.5,422.3V423M115.5,422.2V422.9M117.5,422.3V424M118,422V422.7M118.5,420.7V422M119,419.5V420.7M119.5,417.1V419.5M120,415.6V417.1M120.5,415.1V415.8M121,413.7V415.1M121.5,412.5V413.7M122,411V412.5M122.5,410.6V411.3M123,409.3V410.6M123.5,406.4V409.3M124,405V406.4M124.5,402.7V405M125,399.8V402.7M125.5,399.3V400M126.5,399.4V400.1M127,397.6V399.4M127.5,396.2V397.6M128.5,395.6V396.4M129,394.6V395.6M129.5,393.4V394.6M130,392.3V393.4M130.5,391.8V392.5M131,390.9V391.8M131.5,389.8V390.9M132,387.6V389.8M132.5,386.9V387.6M133,385.2V386.9M133.5,385V385.7M134,382.7V385M134.5,381.6V382.7M135,380.5V381.6M135.5,378.5V380.5M136.5,378.7V379.4M137,376.9V378.7M137.5,376.1V376.9M138,374.7V376.1M138.5,371.2V374.7M139,370.3V371.2M139.5,369V370.3M140,367.9V369M140.5,365.7V367.9M141,364.3V365.7M141.5,363V364.3M142,362.9V363.6M142.5,361.8V362.9M143,360.2V361.8M144,357.8V360.3M144.5,355.5V357.8M145,351.6V355.5M146,351.7V352.4M146.5,350.9V351.7M147,349.6V350.9M147.5,347.3V349.6M148,345.2V347.3M148.5,342.4V345.2M149,339.9V342.4M149.5,337.9V339.9M150.5,336.5V338.3M151,333.6V336.5M151.5,330V333.6M152,326.7V330M153,324.4V327.2M153.5,320.8V324.4M154,316.6V320.8M154.5,311.4V316.6M155,308.2V311.4M155.5,306.4V308.2M156,302.1V306.4M156.5,297.5V302.1M157,291.3V297.5M157.5,285.3V291.3M158,276.6V285.3M158.5,271V276.6M159,265.3V271M163,335V340.1M163.5,326.8V335M164,320V326.8M164.5,314.6V320M165,305.5V314.6M165.5,297.4V305.5M166,289.6V297.4M166.5,288V289.6M171.5,308.8V309.5M172,308.2V308.9M172.5,306.8V308.2M174.5,307.3V309.3M175,305.8V307.3M175.5,305.1V305.8M176.5,305V305.7M178,304.6V305.3M178.5,304.3V305M179.5,304V304.7M181,306.3V307M181.5,305.5V306.3M182,302.8V305.5M183,300.6V303.2M183.5,299.3V300.6M185,302.1V302.8M185.5,300.6V302.1M188.5,307.9V308.6M189,307.2V307.9M190.5,308.7V309.4M191.5,309.9V310.6M193.5,316.4V317.1M196,317.7V318.4M196.5,317.4V318.1M199,325.5V326.3M202.5,334.1V334.9M203,332.3V334.1M204,332.1V332.8M204.5,328.4V332.1M205.5,328.3V329.1M206,328.3V329M206.5,325.9V328.3M207,324.1V325.9M207.5,321.6V324.1M208.5,323.2V324.4M209.5,322.4V324.3M210,321.9V322.6M210.5,319.3V321.9M211,318.7V319.4M212,318V319.9M213.5,317.6V319.3M214,316.9V317.6M214.5,316.4V317.1M215,316.4V317.1M215.5,315.9V316.6M216,315.1V315.9M216.5,315.1V315.8M217,314.3V315.1M217.5,313.3V314.3M219,313.8V315.4M220,313.8V314.5M220.5,313.1V313.8M221.5,314V314.7M222.5,314.6V315.9M223,314.4V315.1M223.5,313.3V314.4M224,311.6V313.3M224.5,311.5V312.2M225,310.4V311.5M225.5,310.1V310.8M226,308.8V310.1M226.5,306.4V308.8M227,305.5V306.4M227.5,304.8V305.5M228.5,302.9V305M229,302.2V302.9M229.5,299.7V302.2M230.5,299.5V300.3M231,298.1V299.5M232.5,299.8V301.1M233,299.3V300M234,299.1V299.8M235,300.4V301.1M236.5,301.6V302.3M237.5,302.1V302.8M238,301.3V302.1M238.5,300V301.3M239.5,303.1V303.8M242.5,305V306.5M243,303.3V305M243.5,302.6V303.3M244,301.8V302.6M245.5,303.7V304.7M246,302.6V303.7M247.5,300.9V304.3M248.5,300.5V301.7M249.5,300V301.6M250,299.5V300.2M250.5,297.6V299.5M251,296.5V297.6M252.5,297.2V298.5M253,294.8V297.2M253.5,291.2V294.8M254,289.8V291.2M254.5,288.6V289.8M255,287.2V288.6M255.5,285.6V287.2M256,282.7V285.6M256.5,281.4V282.7M257,280.1V281.4M258.5,279.5V281.6M259,276.7V279.5M259.5,275.3V276.7M260,273.2V275.3M260.5,271V273.2M261,270.1V271M261.5,267.6V270.1M262.5,266.6V267.8M263,265.1V266.6M263.5,262.7V265.1M264,259.4V262.7M264.5,255.9V259.4M265,253.8V255.9M265.5,251.1V253.8M266,249.8V251.1M266.5,247.7V249.8M267,243.2V247.7M267.5,241.5V243.2M268,237.2V241.5M268.5,234.5V237.2M269,232.3V234.5M269.5,227V232.3M270,225.7V227M270.5,223.2V225.7M271,219.6V223.2M271.5,215.4V219.6M272,211.4V215.4M272.5,206.6V211.4M273,203.9V206.6M273.5,200.7V203.9M274,198.6V200.7M274.5,194.3V198.6M275,192.7V194.3M275.5,190.9V192.7M276,188.3V190.9M276.5,185.4V188.3M277,184.4V185.4M277.5,180.1V184.4M285,214.4V215.4M286,214.5V215.5M286.5,209.9V214.5M287.5,208.2V210.7M288,206.5V208.2M288.5,205.9V206.6M289.5,206.3V208M290,205.5V206.3M291.5,203.6V206.6M292,200.8V203.6M292.5,196.7V200.8M293,194V196.7M293.5,193.4V194.1M294,192.6V193.4M294.5,191.4V192.6M295.5,190.6V191.7M298.5,195.8V196.5M299.5,195.6V196.7M300,194.1V195.6M302,196.8V198.5M303.5,197.5V198.2M304,195.4V197.5M306,200.6V201.3M307.5,199.4V203M312,210.2V210.9M314,215.9V216.6M317,220.9V222.1M319.5,224.1V226M320,223.6V224.3M320.5,223.2V223.9M321,220.8V223.2M321.5,217.2V220.8M322.5,216.4V217.5M323,215.3V216.4M323.5,213V215.3M324.5,213.5V214.2M325.5,213.8V215.2M326,213V213.8M327,213.5V214.2M328.5,215.1V216M330.5,217.8V218.5M333,226.3V227M334.5,228V228.7M335,226.8V228M336.5,228.2V228.9M337,226.9V228.2M337.5,226.5V227.2M341.5,237.6V238.3M342.5,237.8V238.5M343.5,235.1V237.8M344,231.2V235.1M344.5,228.2V231.2M345,226.3V228.2M346,225.9V227.7M346.5,225.4V226.1M348.5,231.2V231.9M350,233.6V234.6M350.5,232.8V233.6M352.5,234V235.1M354,237.2V237.9M354.5,237.1V237.8M355,233.6V237.1M356,234V234.7M357.5,234.4V235.1M358,232.2V234.4M359,232.1V233.1M359.5,231.2V232.1M360,229.9V231.2M360.5,228.9V229.9M361,225.4V228.9M362,226.3V227M363.5,225.7V227.6M364,221.7V225.7M364.5,219.6V221.7M365,217.4V219.6M365.5,216.6V217.4M366,216.5V217.2M366.5,213.7V216.5M367.5,212.2V214.3M368.5,212.5V213.2M369,211.9V212.6M369.5,211.6V212.3M370,210.8V211.6M370.5,210.3V211M371,208.6V210.3M373.5,215V215.7M374,213.3V215M375,213.5V214.4M375.5,213V213.7M376,212.4V213.1M377,211.9V212.6M378,210.8V211.9M379.5,213.9V214.6M380,213.5V214.2M381.5,213.4V214.9M382,213.3V214M383.5,214.8V215.5M384.5,215.2V216.5M385,215.1V215.8M385.5,214.3V215.1M386.5,213.5V216.1M387,213V213.7M387.5,212.9V213.6M389.5,214.5V216.7M390.5,215.2V215.9M391,214.6V215.3M392,214.6V215.6M392.5,212.7V214.6M393.5,212.4V213.2M396,217.4V218.1M396.5,215.8V217.4M397,215.5V216.2M397.5,215.1V215.8M398,214.6V215.3M399,216.1V216.8M399.5,214.7V216.1M405,229.9V230.9M407,230.2V232.1M408,231.3V232M408.5,229.1V231.3M409,226.7V229.1M409.5,226.3V227M410,226.1V226.8M410.5,225V226.1M411,225V225.7M411.5,224.1V225M412.5,223.6V224.6M414.5,227.2V228.8M415,226.7V227.4M415.5,225.9V226.7M416.5,226.3V227.3M418,226.5V227.2M418.5,226.3V227M419.5,225.4V226.8M420,225.3V226M422,230V230.7M426,240V240.7M429.5,249.7V250.4M431.5,253.4V254.7M432,251.8V253.4M432.5,250.5V251.8M433,250V250.7M433.5,247.4V250M434,243.6V247.4M434.5,242.3V243.6M435,241.7V242.4M437.5,244.9V246M441,250.5V251.9M441.5,250.4V251.1M443,250.3V251.9M443.5,249.7V250.4M444,248.4V249.7M444.5,247.5V248.4M445,246.3V247.5M445.5,243.9V246.3M446,243.2V243.9M447,241.1V243.3M447.5,240.1V241.1M448.5,238V240.1M449,237.6V238.3M449.5,235.9V237.6M451.5,240.8V241.8M452.5,241V241.7M453,240.9V241.6M454,240.7V242.6M455,242V242.7M456,243.6V244.3M456.5,242.7V243.6M458,243.9V244.6M459,243.5V244.3M459.5,241.2V243.5M462.5,244.7V245.5M463,243.9V244.7M464.5,244V245.6M465.5,245.2V245.9M466,244.5V245.2M467.5,245.9V246.9M469.5,249.7V250.4M471,251.2V251.9M472.5,252.2V252.9M481,276.6V280.7M481.5,274.2V276.6M482,273.9V274.6M482.5,273.5V274.2M483,272.8V273.5M483.5,271.2V272.8M484,270.4V271.2M484.5,269.9V270.6M485,268.7V269.9M486,267.5V269.8M487,268.4V269.1M488.5,270.2V270.9M489.5,271V271.7M490,270.8V271.5M490.5,269.6V270.8M492.5,271.2V271.9M493.5,271.2V271.9M494,270.6V271.3M495.5,269.9V270.9M496,269.1V269.9M496.5,268.4V269.1M497,268.1V268.8M497.5,266.9V268.1M498.5,266.2V267.3M499,265.9V266.6M499.5,264.5V265.9M500,264.1V264.8M500.5,263.7V264.4M501,262.6V263.7M502,262.6V263.4M503,262.3V263M503.5,260.5V262.3M504,259.3V260.5M504.5,258.9V259.6M505,258.2V258.9M505.5,257.9V258.6M506,257.4V258.1M506.5,255.9V257.4M507,255.9V256.6M507.5,254.4V255.9M508.5,254.9V255.6M509,254.7V255.4M510.5,254.9V255.6M511,254.5V255.2M512,254.4V255.1M514.5,258.9V259.6M518.5,265.1V265.8M521.5,269.4V270.4M524.5,272V272.7M526.5,273.6V274.9M527,272.7V273.6M527.5,272.2V272.9M528.5,271.9V272.7M529,271.2V271.9M530.5,271.2V271.9M531,270.2V271.2M531.5,269.1V270.2M532,268.7V269.4M532.5,267.5V268.7M533.5,268.3V269M535.5,269.3V270.4M537,269.2V270M537.5,268.3V269.2M538,268.2V268.9M538.5,267.2V268.2M539.5,266.6V268.2M540,266.2V266.9M542.5,267V267.7M543.5,266.7V267.9M544.5,266.9V267.6M546,267.5V268.2M546.5,267.5V268.2M548,268.5V269.2M549.5,270V271.2M551.5,271.3V272M552,270.9V271.6M552.5,270.5V271.2M553,270V270.7M553.5,269.4V270.1M554.5,269V269.7M555,268.4V269.1M555.5,267.5V268.4M556,267.3V268M556.5,266.7V267.4M557,266.4V267.1M558,266.6V267.3M558.5,266.5V267.2M559,266.2V266.9M559.5,265.7V266.4M560,265.2V265.9M560.5,264.5V265.2M561,264.4V265.1M561.5,263.2V264.4M562.5,262.8V263.5M563,261.8V262.8M563.5,261V261.8M564,260.1V261M564.5,259.8V260.5M565,259V259.8M566,258.2V259.2M566.5,256.5V258.2M567,256V256.7M567.5,254.8V256M569.5,254.5V255.5M570,254V254.7M573.5,258.2V258.9M575,258.2V258.9M575.5,257.7V258.4M576.5,257.8V258.5M578.5,259.5V260.2M581,260.2V260.9M581.5,259.9V260.6M582,259.2V259.9M582.5,259.1V259.8M584,260V260.7M592,273.1V273.8M592.5,271.9V273.1M593,271.8V272.5M593.5,271.2V271.9M594,270.8V271.5M596,270.4V271.2M597.5,270.5V271.2M598,270.5V271.2M598.5,269.6V270.5M599,268.9V269.6M599.5,268.8V269.5M600,267.6V268.8M601,267.7V268.4M602,267.3V268M605.5,269.4V270.1M606.5,269.3V270M608,269.6V270.3M608.5,268.3V269.6M609,267.7V268.4M609.5,266.8V267.7M610,266.2V266.9M611,266.9V267.6M611.5,265.9V266.9M613,265.9V266.7M613.5,265V265.9M614,264.4V265.1M614.5,264.1V264.8M615,263.9V264.6M616,263.8V264.5M616.5,263.5V264.2M617,263.2V263.9M617.5,262.5V263.2M618,260.6V262.5M618.5,259.8V260.6M619,259.2V259.9M619.5,258.3V259.2M620,258.1V258.8M620.5,256.7V258.1M621,255V256.7M621.5,254.8V255.5M622,253.9V254.8M622.5,252.7V253.9M623,251.9V252.7M623.5,251V251.9M624,249.5V251M624.5,245.9V249.5M625,244V245.9M625.5,240V244M626,235V240M626.5,231.2V235M627,229.2V231.2M629.5,245.6V246.3M632.5,250.3V251M633,250.2V250.9M634,249.1V250.4M634.5,248.7V249.4M635,247.8V248.7M636,247.3V249.3M636.5,247.2V247.9M637,245.9V247.2M637.5,244.7V245.9M638,244.3V245M638.5,243.9V244.6M639,243.6V244.3M639.5,242.6V243.6M640,241V242.6M640.5,239.6V241M641,239.2V239.9M641.5,238.7V239.4M642.5,238V238.7M643,237.7V238.4M643.5,237.6V238.3M644,236.6V237.6M644.5,234.6V236.6M645,233.3V234.6M645.5,232.5V233.3M646.5,233.3V234M649,235.2V235.9M649.5,234.7V235.4M650,234.5V235.2M650.5,234.5V235.2M651,233.9V234.6M651.5,233.9V234.6M652.5,233.5V234.9M653.5,233.2V233.9M655,234V234.7M656,233.2V234.4M657,233.6V234.3M658.5,232.3V234.1M659,232.2V232.9M664,243.3V244M665.5,245.4V246.1M666.5,245.2V245.9M667,244V245.2M668,243.1V244.5M668.5,242.8V243.5M669,242.7V243.4M670,243V243.7M670.5,242.9V243.6M671,242V242.9M671.5,240.9V242M672.5,240.5V241.2M673,239.5V240.5M673.5,238.6V239.5M674,238.4V239.1M674.5,237.2V238.4M675,236.5V237.2M675.5,235.6V236.5M677.5,236V237.5M678,235.4V236.1M679,235.3V236M679.5,234.9V235.6M680.5,235.5V236.2M681,234.8V235.5M681.5,234.2V234.9M683,234.8V235.5M683.5,234.7V235.4M685,236.2V236.9M686.5,236.4V237.4M688,236.9V237.6M688.5,235.7V236.9M690.5,236.5V238M691.5,237.5V238.4M693.5,238.7V239.4M694,237.7V238.7M695,237.5V238.2M695.5,235.9V237.5M697.5,238.3V239.3M699.5,239.6V240.3M700,238.4V239.6M700.5,238.2V238.9M701,236.9V238.2M701.5,236.1V236.9M702.5,236.5V237.2M705,239.3V240M706,239.2V239.9M706.5,238.9V239.6M707.5,238.6V239.5M708,238V238.7M708.5,236.7V238M709,236.4V237.1M710,235.5V236.9M710.5,234.9V235.6M711,233.7V234.9M711.5,232.4V233.7M712,231.4V232.4M714,233.1V233.8M715,233.2V233.9M717.5,233.5V234.2M718,233.2V233.9M718.5,232.3V233.2M719.5,231.8V232.5M720.5,232V232.7M722,232.4V233.1M722.5,232.2V232.9M723,231.6V232.3M724.5,233V233.7M725,232V233M726,230.3V232.3M727,229.4V230.8M727.5,226.6V229.4M729,226.8V228.7M729.5,226.2V226.9M730,225.2V226.2M730.5,224.1V225.2M731,221.7V224.1M731.5,220.1V221.7M732,219.6V220.3M732.5,218.6V219.6M733,218.4V219.1M733.5,217V218.4M734.5,215.1V217.6M735,213.7V215.1M735.5,210.6V213.7M736,208.5V210.6M737,206.9V208.9M737.5,206.5V207.2M738,205.5V206.5M738.5,203.9V205.5M742,213.8V214.7M743,213.7V214.4M744.5,215.6V216.3M745,214.6V215.6M745.5,213.6V214.6M746,212.3V213.6M746.5,211.3V212.3M747,210.4V211.3M747.5,210.2V210.9M749,210.9V211.6M750,210.3V211M753,213.7V214.4M754.5,213.9V215.4M756,214.8V215.5M757.5,214.4V215.3M758.5,213.7V214.4M759,213.3V214M759.5,213.1V213.8M762.5,227.3V228M763,226.2V227.3M763.5,224.3V226.2M764,222.7V224.3M764.5,221.7V222.7M765,220.8V221.7M765.5,219.5V220.8M767,220V221.7M768,220.4V221.1M768.5,220.1V220.8M769.5,219.6V220.7M770,219.6V220.3M771,220V220.7M771.5,219.5V220.2M772,219.4V220.1M772.5,219V219.7M773.5,219.1V220M774.5,218.6V219.6M775.5,218.8V219.5M776,217V218.8M777,216.8V217.5M777.5,216.8V217.5M778.5,217.2V218M779,216.6V217.3M780,217.6V218.3M781,218.3V219M781.5,217.4V218.3M782,217.1V217.8M783.5,217.6V218.3M784,217.3V218M784.5,216.9V217.6M785,216.3V217M786,217V217.7M786.5,216V217M787,215.6V216.3M788.5,216V216.7M789,215.4V216.1M789.5,215.3V216M790,214.2V215.3M790.5,213.5V214.2M791.5,214.2V214.9M793.5,215.3V216M794.5,216.3V217M795,215.5V216.3M796,215.4V216.1M796.5,214.4V215.4M797,214.3V215M797.5,213.9V214.6M798,212.3V213.9M798.5,212.2V212.9M799,212V212.7M799.5,211.6V212.3M800,210.4V211.6M800.5,210.2V210.9M801.5,210.2V210.9M802,209.3V210.2M803,208.7V209.7M803.5,208.5V209.2M804.5,208.4V209.3M805,207.8V208.5M806,207.7V208.4M806.5,207.3V208M807,207.2V207.9M808,205.9V207.7M808.5,205.6V206.3M809,205.1V205.8M809.5,204.8V205.5M810,204.6V205.3M810.5,204.5V205.2M811.5,204.9V205.6M813,205.4V206.1M815,206.2V206.9M815.5,206.1V206.8M816,205.4V206.1M817.5,205.6V206.3M818,205.4V206.1M819,205.7V206.4M820,204.9V205.7M820.5,204.3V205M821,204.1V204.8M822,205V205.7M822.5,204.4V205.1M823,203.9V204.6M823.5,203.8V204.5M824.5,204V204.7M825.5,204.7V205.4M826.5,204.6V205.3M827,204.4V205.1M827.5,202.8V204.4M828,202.4V203.1M828.5,202.1V202.8M829,201.7V202.4M829.5,200V201.7M830.5,199.9V200.7M831,199V199.9M831.5,198.2V199M832,197.4V198.2M832.5,196.9V197.6M833,195.2V196.9M833.5,193.9V195.2M834,193.5V194.2M834.5,192.9V193.6M835,191.8V192.9M835.5,190.6V191.8M836,189.3V190.6M836.5,188.6V189.3M837,188.6V189.3M837.5,186.7V188.6M838.5,186.3V187M839,184.9V186.3M843.5,199.9V200.8M844.5,199.7V200.9M845,199.1V199.8M845.5,198.7V199.4M846,197.5V198.7M846.5,196.3V197.5M847,195.5V196.3M847.5,195.3V196M848.5,195.4V196.1M849,194.1V195.4M849.5,193V194.1M850,192V193M851,190.8V192.5M852,191.5V192.2M852.5,190.8V191.5M854,191.7V192.4M855,191.6V192.3M856.5,191.4V192.3M857.5,191V191.8M858,190.3V191M858.5,188.9V190.3M859,188.2V188.9M860,187V188.5M861,186.8V187.5M861.5,186.4V187.1M862,183.9V186.4M862.5,183.6V184.3M863.5,182.7V183.8M864,182.4V183.1M864.5,180V182.4M865.5,179.7V180.5M866.5,178.1V180.2M867.5,178V178.7M868.5,176.9V178.3M869,175.9V176.9M870,175.8V177.4M870.5,174.7V175.8M871,174.1V174.8M871.5,173.7V174.4M876,191.2V191.9M877,191V191.7M877.5,190.6V191.3M879.5,193.8V194.8M880,192.1V193.8M880.5,191.8V192.5M881.5,190.8V192.1M882,188V190.8M882.5,187.1V188M883,187V187.7M883.5,185V187M884,183V185M884.5,183V183.7M885,182.1V183M885.5,180.7V182.1M886,180.2V180.9M886.5,179.4V180.2M889,179.2V181.2M891.5,179.7V180.9M892,178.5V179.7M893,177.9V179.2M893.5,175.8V177.9M894.5,176.4V177.1M895,176.2V176.9M895.5,174.2V176.2M896,172.5V174.2M896.5,170.9V172.5M897,170.2V170.9M897.5,169.9V170.6M898,166.8V169.9M899,165V167.1M899.5,163.3V165M900.5,162.3V163.4M901,159.6V162.3M902,158.1V160.5M902.5,157.1V158.1M903,155.8V157.1M903.5,155.7V156.4M904,153.4V155.7M904.5,152.7V153.4M905,150.1V152.7M905.5,149.6V150.3M906,147V149.6M906.5,145.2V147M907.5,144.2V145.7M908,142.8V144.2M909,142.1V143.6M909.5,139.5V142.1M910,138.8V139.5M910.5,136.2V138.8M912,134.3V136.3M912.5,132.6V134.3M913,132.5V133.2M913.5,132.1V132.8M914,130.8V132.1M915,128.9V131.3M915.5,128.7V129.4M916,128.6V129.3M916.5,128.6V129.3M917.5,127.9V129.2M919.5,130.2V130.9M923.5,140V140.7M924,139V140M926,142.6V143.3M930.5,148.3V149M931.5,150.6V151.3M932.5,152V152.7M933,151.9V152.6M934,154V154.7M934.5,152.6V154M935,152.2V152.9M935.5,150.7V152.2M936.5,149.4V151.6M937,147.9V149.4M937.5,143.9V147.9M938,141.8V143.9M938.5,140.1V141.8M939,139.5V140.2M939.5,135.9V139.5M940,134.3V135.9M940.5,133.3V134.3M941,130.7V133.3M941.5,129.8V130.7M942,128.6V129.8M942.5,125.1V128.6M944,124.8V125.9M944.5,122.6V124.8M945.5,123.6V124.3M947,122.3V124.5M947.5,122.1V122.8M948,120.3V122.1M948.5,118.9V120.3M949,117.6V118.9M949.5,116.4V117.6M950.5,115.3V116.6M951,113.8V115.3M951.5,112.2V113.8M952,111.6V112.3M952.5,109.4V111.6M953,108.2V109.4M953.5,107.7V108.4M954,106.5V107.7M954.5,106V106.7M955,104.8V106M956.5,106.9V107.6M957,105.6V106.9M958,106.1V107.3M958.5,104.7V106.1M959,104.7V105.4M961.5,113.6V114.3M962.5,115.7V116.4M965.5,124.4V125.4M966.5,123V124.8M967,122.1V123M967.5,120.5V122.1M968,118.4V120.5M968.5,115.8V118.4M969,113.8V115.8M969.5,111.6V113.8M970,111.5V112.2M971,110.3V113.4M971.5,110.3V111M972,109.8V110.5M973,109.3V110.6M974,108.1V109.3M975.5,109.3V110M976.5,109.1V109.8M977,106.8V109.1M978,107.4V108.1M978.5,106V107.4M979.5,106.1V106.8M980,102.5V106.1M980.5,99.9V102.5M982,97.6V100.7M982.5,94.4V97.6M983,92.7V94.4M983.5,91.4V92.7M984,88.8V91.4M984.5,88.7V89.4M985,86.6V88.7M985.5,85V86.6M986.5,85.1V86.4M987,84.7V85.4M988.5,84.4V85.7M989,83.7V84.4M989.5,82V83.7M991,83.8V85.1M994,91.5V92.6M994.5,91.4V92.1M995,89.7V91.4M995.5,88.9V89.7M996,87.7V88.9M997,87.2V89.8M997.5,81.5V87.2M998,78.8V81.5M998.5,77.3V78.8M999,73.8V77.3M999.5,71.2V73.8M1000,69.7V71.2M1000.5,69.1V69.8M1001,67.6V69.1M1001.5,64.9V67.6M1002,64.9V65.6M1002.5,62.6V64.9M1003,60.5V62.6M1003.5,57.2V60.5M1004,55.1V57.2M1005,51.4V55.1M1005.5,50V51.4M1006,49.4V50.1M1006.5,46.7V49.4M1007,45V46.7M1007.5,41.2V45M1008.5,40.6V41.3M1009,38.5V40.6M1009.5,33.8V38.5M1010,30.9V33.8M1011.5,30.4V32.1M1012,30.4V31.1M1012.5,27.6V30.4M1016,45.3V48.7M1016.5,42V45.3M1017,41.5V42.2M1017.5,39.3V41.5M1018,34.8V39.3M1019,35.7V36.4M1019.5,34.8V35.7M1020.5,37V37.8M1021,35V37M1021.5,34.7V35.4M1022,32.7V34.7M1022.5,31.6V32.7M1028.5,57.7V58.6M1029.5,57.6V58.4M1031.5,62.5V63.4M1032.5,63V63.7M1033,62.6V63.3M1033.5,61.8V62.6M1038,80.2V83.3M1039,80.4V81.5M1039.5,77.5V80.4M1040,73.6V77.5M1040.5,73.4V74.1M1041.5,70.3V74M1042,68.4V70.3M1043,67.6V68.7M1044,65.9V68.9M1044.5,65V65.9M1045,61.4V65M1046,60.6V63.4M1046.5,56.4V60.6M1047,56.3V57M1047.5,56.1V56.8M1048.5,57.5V58.9M1049,57V57.7M1050.5,57.7V58.9M1054.5,65V65.7M1056.5,70.7V71.4M1059.5,77.6V78.3M1060.5,77V78.6M1063.5,80.8V84.4M1064.5,81.3V82.2M1066,86.1V87.5M1066.5,85.8V86.5M1067,85.1V85.8M1069,84.9V87M1070,84.6V86.6M1070.5,83.7V84.6M1071.5,82.8V83.8M1072,79.5V82.8M1072.5,76.8V79.5M1073,74.8V76.8M1073.5,73.4V74.8M1074.5,70.3V73.6M1075,69.9V70.6M1076,69.8V70.5M1076.5,69.3V70M1077.5,69.3V70.2M1078,69.1V69.8M1078.5,68.3V69.1M1079.5,65.3V69.2M1080.5,65.7V66.4M1081,65.5V66.2M1081.5,64.7V65.5M1082,63.2V64.7M1084,65.9V66.6M1086,70V70.7M1086.5,69.8V70.5M1087,69.4V70.1M1089,71.1V71.9M1092,77.1V77.8M1092.5,75.5V77.1M1093,74.6V75.5M1093.5,73.7V74.6M1097,79.9V80.6M1098,79.6V80.3M1099,80.5V81.3M1099.5,80V80.7M1100,79.4V80.1M1100.5,79.2V79.9M1102,84.6V85.3M1103.5,86.4V87.1M1106,88.6V90.4M1107.5,90.6V91.3" stroke="#94b3a5" stroke-opacity="0.9" stroke-width="1" fill="none"/>
<path d="M3.5,474.1V474.8M10.5,463.3V464M11.5,463.4V464.2M12,464.2V464.9M12.5,464.6V465.3M13.5,463.2V463.9M14,463.4V464.1M14.5,463.9V464.6M15.5,463.5V464.2M17,463.1V464.3M18.5,463.8V464.5M22,461.5V462.2M24.5,457.9V458.6M33,439.2V439.9M33.5,439.3V440M37,433V433.7M41.5,418.1V418.8M42,418.5V423.2M42.5,423.2V428.3M43,428.3V434.5M43.5,434.5V439.5M44,439.5V442.6M51,432.6V433.3M51.5,432.8V434.4M53.5,432.5V433.2M55,431.6V432.3M58,429.1V429.8M59,428.8V429.7M59.5,429.7V430.4M62.5,427.1V427.8M63.5,426.6V427.7M64.5,426.7V427.8M65.5,427.4V428.5M66,428.5V429.2M67,428.2V429.7M67.5,429.7V431.1M68,431.1V431.8M69,431.1V431.8M70,430.9V432.2M71,432.1V432.8M72,432.3V433M73,432.2V434.2M73.5,434.2V434.9M74,434.9V436.5M74.5,436.5V437.3M75,437.3V438M75.5,437.5V438.2M76,438.2V438.9M76.5,438.7V439.6M77,439.6V440.3M77.5,440.1V440.8M79,439.2V440.6M80.5,439.1V439.8M81,439.4V440.3M83.5,436.7V437.4M85.5,436.6V437.3M88,433.7V434.7M91,432.2V432.9M93,431.1V431.8M95.5,428.7V429.4M96,429.2V429.9M97.5,428.8V429.5M98.5,428.8V429.5M99.5,427.8V428.5M100.5,426.8V427.5M101,427.3V428M101.5,427.4V428.1M102,427.8V428.8M102.5,428.8V429.5M104,426.1V426.8M105,425.9V426.6M105.5,426V426.7M107,424.1V424.8M107.5,424.8V425.5M108,425.2V425.9M108.5,425.3V426M110,424.3V425M111.5,423.3V424.2M112,424.2V424.9M112.5,424.3V425M115,422.3V423M116,422.2V422.9M116.5,422.5V423.2M117,422.7V424M126,399.3V400.1M128,396.2V396.9M136,378.5V379.2M143.5,360.2V360.9M145.5,351.6V352.3M150,337.9V338.6M152.5,326.7V327.4M159.5,265.3V268.6M160,268.6V279.4M160.5,279.4V294.9M161,294.9V311.6M161.5,311.6V322.5M162,322.5V331.8M162.5,331.8V340.1M167,288V288.7M167.5,288.6V290.3M168,290.3V295.6M168.5,295.6V297.2M169,297.2V300.8M169.5,300.8V303.9M170,303.9V304.8M170.5,304.8V306.1M171,306.1V309.1M173,306.8V307.5M173.5,306.9V308.7M174,308.7V309.4M176,305.1V305.8M177,305V305.7M177.5,305.2V305.9M179,304.3V305M180,304V304.7M180.5,304.4V306.4M182.5,302.8V303.5M184,299.3V301.1M184.5,301.1V302.3M186,300.6V301.4M186.5,301.4V302.1M187,301.8V303.9M187.5,303.9V307.8M188,307.8V308.5M189.5,307.2V308.3M190,308.3V309.1M191,308.7V310.1M192,309.9V312.6M192.5,312.6V314.8M193,314.8V316.6M194,316.4V317.5M194.5,317.5V318.2M195,317.8V318.5M195.5,318V318.7M197,317.4V320.3M197.5,320.3V321.7M198,321.7V323.6M198.5,323.6V326.3M199.5,325.5V326.3M200,326.3V328.3M200.5,328.3V330.4M201,330.4V331.3M201.5,331.3V333.8M202,333.8V334.9M203.5,332.3V333M205,328.4V329.1M208,321.6V324.4M209,323.2V324.3M211.5,318.7V319.9M212.5,318V319.3M213,319.3V320M218,313.3V314M218.5,313.9V315.4M219.5,313.8V314.5M221,313.1V314.5M222,314V315.9M228,304.8V305.5M230,299.7V300.4M231.5,298.1V299.1M232,299.1V301.1M233.5,299.3V300M234.5,299.1V300.6M235.5,300.4V301.1M236,300.5V302M237,301.6V302.7M239,300V303.1M240,303.1V303.8M240.5,303.7V304.4M241,303.9V304.6M241.5,304.2V304.9M242,304.4V306.5M244.5,301.8V303.4M245,303.4V304.7M246.5,302.6V303.3M247,302.7V304.3M248,300.9V301.7M249,300.5V301.6M251.5,296.5V298M252,298V298.7M257.5,280.1V280.8M258,280.5V281.6M262,267.6V268.3M278,180.1V182.6M278.5,182.6V184.7M279,184.7V186.8M279.5,186.8V189.1M280,189.1V189.8M280.5,189.7V191.3M281,191.3V194.3M281.5,194.3V196.9M282,196.9V199.8M282.5,199.8V200.5M283,200.2V204.5M283.5,204.5V209.4M284,209.4V213.3M284.5,213.3V215.4M285.5,214.4V215.5M287,209.9V210.7M289,205.9V208M290.5,205.5V206.6M291,206.6V207.3M295,191.4V192.1M296,190.6V191.3M296.5,191V192.6M297,192.6V193.8M297.5,193.8V195.6M298,195.6V196.3M299,195.8V196.7M300.5,194.1V196.3M301,196.3V197.2M301.5,197.2V198.5M302.5,196.8V197.6M303,197.6V198.3M304.5,195.4V196.7M305,196.7V199.5M305.5,199.5V200.9M306.5,200.6V201.3M307,201.3V203M308,199.4V200.5M308.5,200.5V202.4M309,202.4V204.1M309.5,204.1V206.9M310,206.9V208.3M310.5,208.3V209M311,208.7V209.4M311.5,209.3V210.7M312.5,210.2V210.9M313,210.8V212.9M313.5,212.9V216.1M314.5,215.9V216.6M315,216.1V216.9M315.5,216.9V219.3M316,219.3V220M316.5,219.5V222.1M317.5,220.9V221.6M318,221.4V222.1M318.5,222V224M319,224V226M322,217.2V217.9M324,213V213.9M325,213.5V215.2M326.5,213V213.9M327.5,213.5V215.1M328,215.1V216M329,215.1V215.9M329.5,215.9V216.6M330,216.1V218M331,217.8V218.5M331.5,218V220.7M332,220.7V224.2M332.5,224.2V226.8M333.5,226.3V227M334,226.4V228.5M335.5,226.8V227.5M336,227.5V228.7M338,226.5V229.2M338.5,229.2V229.9M339,229.8V231.3M339.5,231.3V233.2M340,233.2V235.4M340.5,235.4V236.1M341,236.1V237.9M342,237.6V238.3M343,237.8V238.5M345.5,226.3V227.7M347,225.4V226.1M347.5,226V230.2M348,230.2V231.5M349,231.2V232.1M349.5,232.1V234.6M351,232.8V234.3M351.5,234.3V235M352,234.6V235.3M353,234V236.2M353.5,236.2V237.6M355.5,233.6V234.4M356.5,234V234.7M357,234.5V235.2M358.5,232.2V233.1M361.5,225.4V226.8M362.5,226.3V227M363,226.6V227.6M367,213.7V214.4M368,212.2V212.9M371.5,208.6V209.3M372,209.3V212.1M372.5,212.1V214.3M373,214.3V215.2M374.5,213.3V214.4M376.5,212.4V213.1M377.5,211.9V212.6M378.5,210.8V211.5M379,210.9V214.2M380.5,213.5V214.2M381,214.2V214.9M382.5,213.3V214.6M383,214.6V215.3M384,214.8V216.5M386,214.3V216.1M388,212.9V214.1M388.5,214.1V215.1M389,215.1V216.7M390,214.5V215.5M391.5,214.6V215.6M393,212.7V213.4M394,212.4V213.1M394.5,212.7V214.2M395,214.2V215.3M395.5,215.3V217.7M398.5,214.6V216.1M400,214.7V216.7M400.5,216.7V218M401,218V219.8M401.5,219.8V221.2M402,221.2V223.3M402.5,223.3V224.5M403,224.5V227.1M403.5,227.1V228.4M404,228.4V229.7M404.5,229.7V230.9M405.5,229.9V230.8M406,230.8V231.5M406.5,231.5V232.2M407.5,230.2V231.9M412,224.1V224.8M413,223.6V224.3M413.5,224.1V225.7M414,225.7V228.8M416,225.9V227.3M417,226.3V227M417.5,226.4V227.1M419,226.3V227M420.5,225.3V226.8M421,226.8V228.9M421.5,228.9V230.4M422.5,230V231.4M423,231.4V234.2M423.5,234.2V236.3M424,236.3V237.4M424.5,237.4V238.1M425,237.6V239.7M425.5,239.7V240.4M426.5,240V240.7M427,240.7V244M427.5,244V245.4M428,245.4V247.7M428.5,247.7V248.4M429,247.8V249.8M430,249.7V250.4M430.5,250.3V253.8M431,253.8V254.7M435.5,241.7V242.4M436,242.3V244.4M436.5,244.4V245.1M437,244.9V246M438,244.9V246.4M438.5,246.4V249.1M439,249.1V249.8M439.5,249.8V250.5M440,249.9V250.6M440.5,249.9V251.9M442,250.4V251.1M442.5,251V251.9M446.5,243.2V243.9M448,240.1V240.8M450,235.9V237M450.5,237V239.9M451,239.9V241.8M452,240.8V241.5M453.5,240.9V242.6M454.5,240.7V242.1M455.5,242V243.6M457,242.7V243.4M457.5,243.1V244M458.5,243.9V244.6M460,241.2V242.8M460.5,242.8V243.9M461,243.9V244.6M461.5,244.1V244.8M462,244.2V245.5M463.5,243.9V244.6M464,244V245.6M465,244V245.7M466.5,244.5V246.7M467,246.7V247.4M468,245.9V246.6M468.5,246.3V248.2M469,248.2V250M470,249.7V250.6M470.5,250.6V251.7M471.5,251.2V252M472,252V252.7M473,252.2V252.9M473.5,252.6V253.8M474,253.8V254.8M474.5,254.8V255.5M475,255.2V255.9M475.5,255.9V258.4M476,258.4V259.6M476.5,259.6V261.6M477,261.6V263.7M477.5,263.7V265M478,265V269.6M478.5,269.6V270.8M479,270.8V274.5M479.5,274.5V276.4M480,276.4V280.3M480.5,280.3V281M485.5,268.7V269.8M486.5,267.5V268.8M487.5,268.4V270.2M488,270.2V270.9M489,270.2V271.4M491,269.6V270.3M491.5,270V270.7M492,270.7V271.6M493,271.2V271.9M494.5,270.6V271.3M495,270.6V271.3M498,266.9V267.6M501.5,262.6V263.4M502.5,262.6V263.3M508,254.4V255.2M509.5,254.7V255.4M510,254.9V255.6M511.5,254.5V255.2M512.5,254.4V255.1M513,255.1V257.5M513.5,257.5V258.2M514,257.6V259.1M515,258.9V260M515.5,260V260.7M516,260.6V261.4M516.5,261.4V262.5M517,262.5V264.3M517.5,264.3V265M518,264.7V265.4M519,265.1V266.2M519.5,266.2V266.9M520,266.7V268M520.5,268V268.7M521,268.5V270.4M522,269.4V270.1M522.5,270V271.3M523,271.3V272M523.5,271.7V272.4M524,271.8V272.5M525,272V272.9M525.5,272.9V274.5M526,274.5V275.2M528,272.2V272.9M529.5,271.2V271.9M530,271.7V272.4M533,267.5V268.4M534,268.3V269M534.5,268.8V270M535,270V270.7M536,269.3V270M536.5,269.6V270.3M539,267.2V268.2M540.5,266.2V266.9M541,266.4V267.1M541.5,266.5V267.2M542,266.8V267.5M543,267V267.9M544,266.7V267.4M545,266.9V267.6M545.5,267.4V268.1M547,267.5V268.3M547.5,268.3V269M548.5,268.5V269.9M549,269.9V271.2M550,270V270.7M550.5,270.1V271.5M551,271.5V272.2M554,269.4V270.1M557.5,266.4V267.1M562,263.2V263.9M565.5,259V259.7M568,254.8V255.5M568.5,254.9V255.6M569,255.4V256.1M570.5,254V255.3M571,255.3V256M571.5,255.7V256.4M572,255.8V256.5M572.5,256.5V257.9M573,257.9V258.6M574,258.2V258.9M574.5,258.3V259M576,257.7V258.4M577,257.8V258.5M577.5,258.2V258.9M578,258.5V260M579,259.5V260.2M579.5,259.5V260.2M580,259.5V260.2M580.5,259.9V260.6M583,259.1V259.9M583.5,259.9V260.6M584.5,260V260.7M585,260.2V260.9M585.5,260.7V261.9M586,261.9V262.6M586.5,262.6V263.6M587,263.6V264.3M587.5,263.8V264.7M588,264.7V267.1M588.5,267.1V267.8M589,267.2V268.6M589.5,268.6V270.1M590,270.1V271.1M590.5,271.1V271.8M591,271.8V272.8M591.5,272.8V273.5M594.5,270.8V271.5M595,270.9V271.6M595.5,271V271.7M596.5,270.4V271.1M597,270.5V271.2M600.5,267.6V268.3M601.5,267.7V268.4M602.5,267.3V268M603,267.4V268.1M603.5,268V269M604,269V269.9M604.5,269.9V270.6M605,270V270.7M606,269.4V270.1M607,269.3V270M607.5,269.4V270.1M610.5,266.2V267M612,265.9V266.6M612.5,266.2V266.9M615.5,263.9V264.6M627.5,229.2V232.5M628,232.5V236.5M628.5,236.5V243.6M629,243.6V245.7M630,245.6V247M630.5,247V248.5M631,248.5V249.2M631.5,248.7V250.3M632,250.3V251M633.5,250.2V250.9M635.5,247.8V249.3M642,238.7V239.4M646,232.5V233.9M647,233.3V234.2M647.5,234.2V234.9M648,234.5V235.5M648.5,235.5V236.2M652,233.9V234.9M653,233.5V234.2M654,233.2V233.9M654.5,233.5V234.2M655.5,234V234.7M656.5,233.2V234.1M657.5,233.6V234.3M658,234.1V234.8M659.5,232.2V232.9M660,232.8V234M660.5,234V235.1M661,235.1V236.5M661.5,236.5V237.2M662,237V239.6M662.5,239.6V242.2M663,242.2V243.3M663.5,243.3V244M664.5,243.3V244M665,243.9V245.5M666,245.4V246.1M667.5,244V244.7M669.5,242.7V243.4M672,240.9V241.6M676,235.6V236.3M676.5,236V236.7M677,236.4V237.5M678.5,235.4V236.1M680,234.9V235.8M682,234.2V234.9M682.5,234.9V235.6M684,234.7V235.6M684.5,235.6V236.4M685.5,236.2V236.9M686,236.9V237.6M687,236.4V237.1M687.5,236.5V237.2M689,235.7V236.4M689.5,236V236.8M690,236.8V238M691,236.5V238.4M692,237.5V238.2M692.5,238.1V238.8M693,238.7V239.4M694.5,237.7V238.4M696,235.9V238.1M696.5,238.1V238.8M697,238.4V239.3M698,238.3V239M698.5,239V239.7M699,239.7V240.4M702,236.1V236.8M703,236.5V237.2M703.5,236.9V237.6M704,237.3V238.8M704.5,238.8V239.6M705.5,239.3V240M707,238.9V239.6M709.5,236.4V237.1M712.5,231.4V232.2M713,232.2V233.8M713.5,233.8V234.5M714.5,233.1V233.8M715.5,233.2V233.9M716,233.6V234.3M716.5,233.7V234.4M717,233.7V234.4M719,232.3V233M720,231.8V232.5M721,232V232.7M721.5,232.5V233.2M723.5,231.6V232.3M724,232.1V233M725.5,232V232.7M726.5,230.3V231M728,226.6V228.4M728.5,228.4V229.1M734,217V217.7M736.5,208.5V209.2M739,203.9V204.6M739.5,204V205.8M740,205.8V208.2M740.5,208.2V211.6M741,211.6V214.3M741.5,214.3V215M742.5,213.8V214.5M743.5,213.7V214.4M744,214.3V215.9M748,210.2V210.9M748.5,210.2V211.1M749.5,210.9V211.6M750.5,210.3V211.9M751,211.9V212.6M751.5,212.3V213.5M752,213.5V214.2M752.5,213.7V214.4M753.5,213.7V214.4M754,213.9V215.4M755,213.9V214.6M755.5,214.4V215.1M756.5,214.8V215.5M757,214.9V215.6M758,214.4V215.1M760,213.1V213.8M760.5,213.3V216.4M761,216.4V220.5M761.5,220.5V223.4M762,223.4V227.6M766,219.5V220.2M766.5,220V221.7M767.5,220V220.7M769,220.1V220.8M770.5,219.6V220.4M773,219V220M774,219.1V219.8M775,218.6V219.3M776.5,217V217.7M778,216.8V218M779.5,216.6V217.7M780.5,217.6V218.5M782.5,217.1V217.8M783,217.8V218.5M785.5,216.3V217.4M787.5,215.6V216.3M788,216V216.7M791,213.5V214.4M792,214.2V214.9M792.5,214.5V215.3M793,215.3V216M794,215.3V216.4M795.5,215.5V216.2M801,210.2V210.9M802.5,209.3V210M804,208.5V209.3M805.5,207.8V208.5M807.5,207.2V207.9M811,204.5V205.2M812,204.9V205.6M812.5,205.3V206M813.5,205.4V206.1M814,205.7V206.9M814.5,206.9V207.6M816.5,205.4V206.1M817,205.7V206.4M818.5,205.4V206.2M819.5,205.7V206.4M821.5,204.1V205.6M824,203.8V204.5M825,204V205.2M826,204.7V205.4M830,200V200.7M838,186.7V187.4M839.5,184.9V186M840,186V188.7M840.5,188.7V192.2M841,192.2V195.9M841.5,195.9V198.4M842,198.4V199.2M842.5,199.2V199.9M843,199.8V200.8M844,199.9V200.9M848,195.3V196M850.5,192V192.7M851.5,190.8V192M853,190.8V191.5M853.5,191.1V191.8M854.5,191.7V192.4M855.5,191.6V192.3M856,192V192.7M857,191.4V192.1M859.5,188.2V188.9M860.5,187V187.7M863,183.6V184.3M865,180V180.7M866,179.7V180.4M867,178.1V178.8M868,178V178.7M869.5,175.9V177.4M872,173.7V176.6M872.5,176.6V180M873,180V181.1M873.5,181.1V181.8M874,181.7V185.2M874.5,185.2V188.2M875,188.2V190.3M875.5,190.3V191.7M876.5,191.2V191.9M878,190.6V192.5M878.5,192.5V193.2M879,192.5V194.8M881,191.8V192.5M887,179.4V180.1M887.5,179.8V180.5M888,179.9V180.9M888.5,180.9V181.6M889.5,179.2V179.9M890,179.6V180.3M890.5,180.3V181M891,180.3V181M892.5,178.5V179.2M894,175.8V177.1M898.5,166.8V167.5M900,163.3V164M901.5,159.6V160.5M907,145.2V145.9M908.5,142.8V143.6M911,136.2V136.9M911.5,136.3V137M914.5,130.8V131.5M917,128.6V129.3M918,127.9V129.6M918.5,129.6V130.3M919,130.3V131M920,130.2V130.9M920.5,130.3V132.3M921,132.3V133M921.5,132.6V134.2M922,134.2V136.6M922.5,136.6V138.4M923,138.4V140.4M924.5,139V140.6M925,140.6V141.3M925.5,141.1V142.6M926.5,142.6V144M927,144V144.8M927.5,144.8V145.5M928,145.4V146.1M928.5,145.9V146.6M929,146.4V147.1M929.5,146.8V147.5M930,147.3V148.7M931,148.3V150.7M932,150.6V152M933.5,151.9V154.6M936,150.7V151.6M943,125.1V125.8M943.5,125.7V126.4M945,122.6V124.1M946,123.6V124.3M946.5,124V124.7M950,116.4V117.1M955.5,104.8V107M956,107V107.7M957.5,105.6V107.3M959.5,104.7V105.9M960,105.9V108.8M960.5,108.8V109.8M961,109.8V113.8M962,113.6V115.8M963,115.7V119.2M963.5,119.2V119.9M964,119.6V120.6M964.5,120.6V122.9M965,122.9V125.4M966,124.4V125.1M970.5,111.5V113.4M972.5,109.8V110.6M973.5,109.3V110M974.5,108.1V109.4M975,109.4V110.1M976,109.3V110M977.5,106.8V107.9M979,106V106.7M981,99.9V100.7M981.5,100.7V101.4M986,85V86.4M987.5,84.7V85.4M988,85.2V85.9M990,82V84.1M990.5,84.1V85.1M991.5,83.8V84.5M992,84.5V86.4M992.5,86.4V87.7M993,87.7V90.8M993.5,90.8V92.6M996.5,87.7V89.8M1004.5,55.1V55.8M1008,41.2V41.9M1010.5,30.9V31.6M1011,31.1V32.1M1013,27.6V30.4M1013.5,30.4V34.9M1014,34.9V40.5M1014.5,40.5V42.7M1015,42.7V47.8M1015.5,47.8V48.7M1018.5,34.8V35.8M1020,34.8V37.8M1023,31.6V34M1023.5,34V35M1024,35V36.6M1024.5,36.6V41.4M1025,41.4V44.5M1025.5,44.5V47.2M1026,47.2V49.2M1026.5,49.2V51M1027,51V54.2M1027.5,54.2V54.9M1028,54.9V58.6M1029,57.7V58.4M1030,57.6V58.8M1030.5,58.8V60.6M1031,60.6V63.4M1032,62.5V63.2M1034,61.8V63.9M1034.5,63.9V64.6M1035,64.2V68.2M1035.5,68.2V71.9M1036,71.9V74.4M1036.5,74.4V76.3M1037,76.3V77.5M1037.5,77.5V83.3M1038.5,80.2V81.5M1041,73.4V74.1M1042.5,68.4V69.1M1043.5,67.6V68.9M1045.5,61.4V63.4M1048,56.1V58.9M1049.5,57V57.7M1050,57.3V58.9M1051,57.7V58.4M1051.5,58.3V59M1052,58.6V59.3M1052.5,58.7V60M1053,60V61.4M1053.5,61.4V62.1M1054,61.7V65.4M1055,65V68.5M1055.5,68.5V70.7M1056,70.7V71.4M1057,70.7V71.4M1057.5,71.4V73.1M1058,73.1V75M1058.5,75V76M1059,76V78M1060,77.6V78.6M1061,77V79.2M1061.5,79.2V80.2M1062,80.2V80.9M1062.5,80.5V83M1063,83V84.4M1064,80.8V82.2M1065,81.3V84M1065.5,84V87.5M1067.5,85.1V85.8M1068,85.3V86M1068.5,85.8V87M1069.5,84.9V86.6M1071,83.7V84.4M1074,73.4V74.1M1075.5,69.9V70.6M1077,69.3V70.2M1079,68.3V69.2M1080,65.3V66.2M1082.5,63.2V64.1M1083,64.1V64.8M1083.5,64.6V66.6M1084.5,65.9V69M1085,69V70M1085.5,70V70.7M1087.5,69.4V70.1M1088,69.9V71.1M1088.5,71.1V71.9M1089.5,71.1V72M1090,72V72.7M1090.5,72.1V73.4M1091,73.4V76.5M1091.5,76.5V77.4M1094,73.7V75.9M1094.5,75.9V76.6M1095,76V77M1095.5,77V77.7M1096,77.1V78.1M1096.5,78.1V80.4M1097.5,79.9V80.6M1098.5,79.6V81.3M1101,79.2V81.3M1101.5,81.3V85.3M1102.5,84.6V86.4M1103,86.4V87.1M1104,86.4V87.1M1104.5,86.9V87.6M1105,87.4V88.1M1105.5,87.5V90.4M1106.5,88.6V89.8M1107,89.8V90.8M1108,90.6V91.4" stroke="#dba397" stroke-opacity="0.9" stroke-width="1" fill="none"/>
<path d="M170.3,295V326" stroke="#dba397" stroke-width="0.9" stroke-opacity="0.8"/>
<path d="M41.3,415V460" stroke="#dba397" stroke-width="0.9" stroke-opacity="0.8"/>
<path d="M162.5,300V352" stroke="#dba397" stroke-width="0.9" stroke-opacity="0.8"/>
<path d="M159.3,263.8V300" stroke="#94b3a5" stroke-width="0.9" stroke-opacity="0.8"/>
<path d="M202.5,325V340" stroke="#dba397" stroke-width="0.9" stroke-opacity="0.8"/>
<path d="M285,205V241" stroke="#dba397" stroke-width="0.9" stroke-opacity="0.8"/>
<path d="M320,215V231" stroke="#dba397" stroke-width="0.9" stroke-opacity="0.8"/>
<path d="M342.5,230V248" stroke="#dba397" stroke-width="0.9" stroke-opacity="0.8"/>
<path d="M431.3,245V260" stroke="#dba397" stroke-width="0.9" stroke-opacity="0.8"/>
<path d="M450,232V245" stroke="#94b3a5" stroke-width="0.9" stroke-opacity="0.8"/>
<path d="M480,262V279" stroke="#dba397" stroke-width="0.9" stroke-opacity="0.8"/>
<path d="M591.3,262V277" stroke="#dba397" stroke-width="0.9" stroke-opacity="0.8"/>
<path d="M627,227V250" stroke="#94b3a5" stroke-width="0.9" stroke-opacity="0.8"/>
<path d="M762,215V231" stroke="#dba397" stroke-width="0.9" stroke-opacity="0.8"/>
<path d="M843,195V206" stroke="#dba397" stroke-width="0.9" stroke-opacity="0.8"/>
<path d="M878.8,185V196" stroke="#dba397" stroke-width="0.9" stroke-opacity="0.8"/>
<path d="M935,143V156" stroke="#dba397" stroke-width="0.9" stroke-opacity="0.8"/>
<path d="M966.3,113V128" stroke="#dba397" stroke-width="0.9" stroke-opacity="0.8"/>
<path d="M1037.5,70V91.5" stroke="#dba397" stroke-width="0.9" stroke-opacity="0.8"/>
<path d="M248,305V330" stroke="#dba397" stroke-width="0.9" stroke-opacity="0.8"/>
<path d="M43.5,508V504M72.5,508V504.5M317.5,508V401M479.5,508V394M247.5,508V455M258.5,508V468M270.5,508V443M280.5,508V436M310.5,508V450M323.5,508V448M314.5,508V458M341.5,508V463M159.5,508V474M171.5,508V482M186.5,508V490M233.5,508V484M404.5,508V473M431.5,508V468M436.5,508V470M466.5,508V490M477.5,508V478M494.5,508V484M524.5,508V494M557.5,508V494M570.5,508V486M591.5,508V474M636.5,508V468M648.5,508V488M662.5,508V478M687.5,508V490M741.5,508V494M808.5,508V498M839.5,508V482M857.5,508V486M877.5,508V488M919.5,508V474M941.5,508V490M994.5,508V476M1003.5,508V490M1015.5,508V455M1027.5,508V470M1034.5,508V468M1063.5,508V481M1077.5,508V478M1085.5,508V486M1106.5,508V491" stroke="#f9cccc" stroke-width="1" fill="none"/>
<path d="M16.5,508V504M54.5,508V499M89.5,508V504M130.5,508V503M628.5,508V410M286.5,508V460M264.5,508V463M334.5,508V460M163.5,508V486M205.5,508V484M228.5,508V488M361.5,508V483M367.5,508V481M408.5,508V482M449.5,508V468M484.5,508V473M489.5,508V470M602.5,508V486M611.5,508V488M620.5,508V474M625.5,508V468M631.5,508V463M737.5,508V494M762.5,508V494M836.5,508V488M845.5,508V494M909.5,508V482M944.5,508V480M965.5,508V453M979.5,508V486M1038.5,508V442M1041.5,508V478M1053.5,508V490M1098.5,508V494" stroke="#c9e8d8" stroke-width="1" fill="none"/>
<path d="M0.5,508V506.7M1.5,508V506M3.5,508V506.8M8.5,508V507.3M11.5,508V506.6M12.5,508V506.1M13.5,508V506.3M14.5,508V507M15.5,508V507.3M16.5,508V506.8M17.5,508V507.3M19.5,508V506.5M20.5,508V506.7M21.5,508V505.6M22.5,508V506.4M23.5,508V506.3M26.5,508V505.9M27.5,508V505.6M28.5,508V505.3M29.5,508V506.5M30.5,508V506.1M31.5,508V505.9M34.5,508V507.5M35.5,508V505.7M37.5,508V504.6M39.5,508V505.2M40.5,508V503.2M42.5,508V506.1M43.5,508V505.3M44.5,508V505.7M46.5,508V502.8M47.5,508V505.5M48.5,508V505.9M49.5,508V506.7M50.5,508V506.8M51.5,508V506M52.5,508V507.1M53.5,508V506.1M54.5,508V506.6M56.5,508V505.3M58.5,508V506.9M59.5,508V503.7M63.5,508V505.7M64.5,508V507.2M65.5,508V502.7M67.5,508V506.3M73.5,508V506.2M74.5,508V506.2M75.5,508V506.4M76.5,508V505.1M77.5,508V505.4M78.5,508V505.8M86.5,508V505.7M88.5,508V505.7M89.5,508V506.4M92.5,508V505.6M93.5,508V506.5M94.5,508V507.2M95.5,508V503.1M96.5,508V506.8M98.5,508V504.1M99.5,508V505.8M100.5,508V507.2M106.5,508V502.1M108.5,508V504.7M109.5,508V505.7M114.5,508V506.1M122.5,508V505.5M126.5,508V506.5M130.5,508V502.5M131.5,508V506.2M133.5,508V505.4M134.5,508V505.1M135.5,508V506M138.5,508V499.9M139.5,508V499.8M140.5,508V504.4M141.5,508V502.2M142.5,508V504.5M144.5,508V497.9M145.5,508V504.2M146.5,508V501.3M147.5,508V506M149.5,508V502.5M150.5,508V497.7M151.5,508V500.6M152.5,508V502M153.5,508V498M155.5,508V499.5M156.5,508V498.1M157.5,508V499.7M158.5,508V488.3M159.5,508V495.6M162.5,508V497.1M167.5,508V499.4M169.5,508V495.7M176.5,508V500.7M177.5,508V502M181.5,508V504.2M182.5,508V500M187.5,508V497.3M192.5,508V500.3M194.5,508V500.2M195.5,508V502.4M196.5,508V499.9M198.5,508V499.7M199.5,508V500M200.5,508V501.7M201.5,508V501.8M203.5,508V499.3M204.5,508V494.9M205.5,508V496.8M206.5,508V494.6M207.5,508V486.4M208.5,508V497.4M209.5,508V494.9M213.5,508V498.4M215.5,508V499.9M218.5,508V491.8M234.5,508V503M239.5,508V496.3M240.5,508V497.8M241.5,508V504.5M246.5,508V504M247.5,508V496M248.5,508V499.3M250.5,508V503.4M254.5,508V499.3M255.5,508V497.2M257.5,508V498.9M262.5,508V474.9M264.5,508V487.5M265.5,508V502.4M269.5,508V468.6M276.5,508V490.8M277.5,508V493.3M281.5,508V462.8M282.5,508V488.3M283.5,508V486.2M287.5,508V459.3M288.5,508V477.8M289.5,508V484.7M295.5,508V491.3M296.5,508V486M297.5,508V495.9M298.5,508V495.7M299.5,508V494M302.5,508V498M303.5,508V498.2M305.5,508V494.8M307.5,508V499M308.5,508V479.7M312.5,508V496.7M314.5,508V492M315.5,508V482.7M316.5,508V480.2M318.5,508V471.4M319.5,508V491.4M321.5,508V489.9M325.5,508V472.1M327.5,508V497.5M330.5,508V495.9M331.5,508V495.1M332.5,508V476.8M334.5,508V498.1M335.5,508V496.3M336.5,508V500.2M344.5,508V445.6M353.5,508V500.2M354.5,508V497.4M355.5,508V503.1M356.5,508V497M357.5,508V505.2M362.5,508V500.2M363.5,508V500.6M364.5,508V479.9M365.5,508V499M366.5,508V498.7M368.5,508V499.9M369.5,508V495M371.5,508V500.5M373.5,508V499.5M374.5,508V497.9M377.5,508V502.2M378.5,508V495.4M387.5,508V499.1M388.5,508V499.1M389.5,508V503.9M393.5,508V501.7M395.5,508V503.2M396.5,508V502.9M397.5,508V501.3M398.5,508V502M401.5,508V503.2M402.5,508V501.3M403.5,508V498.6M406.5,508V503M407.5,508V496.6M409.5,508V494.7M410.5,508V494.1M411.5,508V494.4M412.5,508V496.3M419.5,508V503.5M420.5,508V495.6M421.5,508V493.8M425.5,508V499.1M429.5,508V485.1M430.5,508V494.3M432.5,508V502.3M433.5,508V494.3M434.5,508V480M435.5,508V495.5M437.5,508V495M438.5,508V483.4M440.5,508V496.6M442.5,508V496.9M443.5,508V490M445.5,508V500.5M446.5,508V467M448.5,508V498.4M449.5,508V494.4M450.5,508V500.9M458.5,508V501.4M463.5,508V500.6M466.5,508V498.9M467.5,508V501.9M468.5,508V503M469.5,508V497.1M470.5,508V503.2M471.5,508V498.9M472.5,508V501.8M473.5,508V504.3M478.5,508V495.5M479.5,508V491.4M480.5,508V496M481.5,508V472M482.5,508V499.8M483.5,508V480.9M484.5,508V498.5M485.5,508V496.7M486.5,508V494.7M487.5,508V479.3M488.5,508V492.3M489.5,508V493.1M495.5,508V496.8M496.5,508V503.6M497.5,508V499.4M498.5,508V490.9M500.5,508V499.5M504.5,508V503.4M506.5,508V504.1M508.5,508V504.1M509.5,508V498.3M518.5,508V496.7M527.5,508V503.2M528.5,508V505.2M529.5,508V503.1M530.5,508V502.3M532.5,508V497.9M533.5,508V492.3M534.5,508V501M535.5,508V505.2M536.5,508V498.8M537.5,508V503.5M541.5,508V502.3M542.5,508V501.3M548.5,508V503M549.5,508V498.9M552.5,508V504.3M562.5,508V502.5M568.5,508V501.7M569.5,508V497.1M570.5,508V494.9M571.5,508V498.3M572.5,508V495M573.5,508V500.5M574.5,508V493.5M576.5,508V501.6M577.5,508V500.1M578.5,508V500.2M579.5,508V502.6M580.5,508V497.8M581.5,508V501.4M582.5,508V499.5M583.5,508V504.6M585.5,508V502.6M586.5,508V503.7M591.5,508V495.4M592.5,508V500.9M593.5,508V495.3M596.5,508V500.7M601.5,508V493.1M602.5,508V497.1M603.5,508V492.5M604.5,508V497.4M616.5,508V496.5M617.5,508V493.7M618.5,508V502M619.5,508V484.4M620.5,508V492.4M621.5,508V496.2M622.5,508V470M623.5,508V489.8M628.5,508V483.9M629.5,508V492.4M630.5,508V489.6M633.5,508V496.8M634.5,508V490.7M641.5,508V500.8M644.5,508V500.4M645.5,508V501.6M647.5,508V497.3M648.5,508V503.2M649.5,508V492.7M650.5,508V502M656.5,508V498.9M657.5,508V490.3M658.5,508V501.4M665.5,508V505.3M666.5,508V503.8M667.5,508V502.2M670.5,508V503.1M671.5,508V501.2M677.5,508V503.1M678.5,508V502.8M679.5,508V504M680.5,508V503.3M682.5,508V500.7M690.5,508V502.7M691.5,508V503.4M696.5,508V504.1M701.5,508V505M703.5,508V501.4M704.5,508V505M707.5,508V504.9M708.5,508V505.2M709.5,508V504.7M710.5,508V503.2M711.5,508V505M713.5,508V503.8M717.5,508V502.6M718.5,508V504.6M721.5,508V502.3M722.5,508V504.8M723.5,508V501.9M724.5,508V503M725.5,508V503.3M726.5,508V494.8M727.5,508V500.6M728.5,508V502.3M729.5,508V501.8M730.5,508V495.4M738.5,508V496.9M739.5,508V503.5M746.5,508V496.3M747.5,508V501.5M748.5,508V494.9M749.5,508V500.1M750.5,508V501.4M757.5,508V499.7M758.5,508V505.1M759.5,508V504.7M760.5,508V503.6M762.5,508V504.2M765.5,508V504.5M766.5,508V500.3M767.5,508V505.8M768.5,508V504M770.5,508V505.9M773.5,508V501M774.5,508V505.9M775.5,508V501.2M776.5,508V489.7M779.5,508V505.7M781.5,508V506.1M782.5,508V503.3M784.5,508V506.3M785.5,508V507M788.5,508V503.4M789.5,508V506.2M794.5,508V505.8M798.5,508V503.3M803.5,508V504.1M804.5,508V506M805.5,508V504.9M811.5,508V504.6M816.5,508V494.2M817.5,508V502.8M820.5,508V497.9M821.5,508V502.2M824.5,508V500.8M826.5,508V502.5M830.5,508V490.2M831.5,508V503.8M833.5,508V503.6M838.5,508V500.2M844.5,508V499.1M847.5,508V482.1M848.5,508V500M849.5,508V501.9M850.5,508V496M852.5,508V495.9M853.5,508V496.2M854.5,508V501.1M855.5,508V502.6M862.5,508V503.2M863.5,508V503.7M866.5,508V503.5M868.5,508V504M869.5,508V505.2M870.5,508V499.4M871.5,508V494.1M878.5,508V501.4M881.5,508V494.7M890.5,508V495.4M891.5,508V493M899.5,508V499.1M900.5,508V496M904.5,508V499M906.5,508V500.7M907.5,508V496.7M908.5,508V501M912.5,508V504.1M913.5,508V498.3M914.5,508V498.2M915.5,508V494.6M916.5,508V495.5M919.5,508V498.2M927.5,508V493.1M933.5,508V497.2M934.5,508V478.6M935.5,508V503.3M939.5,508V494.7M940.5,508V497M943.5,508V478M944.5,508V489.7M951.5,508V501.1M955.5,508V500M956.5,508V494.9M964.5,508V497.9M976.5,508V500M977.5,508V492.9M978.5,508V493.7M991.5,508V495.1M992.5,508V491.2M993.5,508V500.8M994.5,508V498.4M996.5,508V490.9M997.5,508V500.7M1003.5,508V491.9M1004.5,508V486M1006.5,508V484.8M1009.5,508V499M1013.5,508V490M1015.5,508V501.5M1016.5,508V495.6M1017.5,508V491.6M1020.5,508V489.9M1021.5,508V496.8M1026.5,508V498.7M1027.5,508V497.2M1028.5,508V492.3M1029.5,508V493M1034.5,508V499.6M1035.5,508V492.4M1038.5,508V471M1044.5,508V495.3M1045.5,508V480.1M1046.5,508V485.3M1047.5,508V487.5M1048.5,508V494.3M1049.5,508V492.8M1051.5,508V492.8M1052.5,508V497.8M1053.5,508V487.1M1054.5,508V495.6M1057.5,508V494.4M1064.5,508V498.8M1065.5,508V496.1M1067.5,508V496.2M1071.5,508V498.1M1075.5,508V495.5M1076.5,508V491.5M1080.5,508V504.5M1081.5,508V499M1082.5,508V500.3M1083.5,508V498.7M1084.5,508V503.7M1085.5,508V501.5M1086.5,508V503M1090.5,508V502.5M1091.5,508V496.8M1096.5,508V500.6M1098.5,508V501.2M1100.5,508V502.2M1102.5,508V503.8M1103.5,508V504M1104.5,508V503.9M1105.5,508V502.9M1106.5,508V502.5M1107.5,508V503.6" stroke="#f8c6c6" stroke-width="1" fill="none"/>
<path d="M2.5,508V507M4.5,508V506.9M5.5,508V507M6.5,508V506.6M7.5,508V506.6M9.5,508V505.7M10.5,508V507.5M18.5,508V506.5M24.5,508V506.1M25.5,508V506.9M32.5,508V506.5M33.5,508V507M36.5,508V506.9M38.5,508V506M41.5,508V506.1M45.5,508V504.6M55.5,508V507.3M57.5,508V506.8M60.5,508V507.2M61.5,508V506.3M62.5,508V506.2M66.5,508V507.3M68.5,508V505.8M69.5,508V506.6M70.5,508V506.6M71.5,508V506.9M72.5,508V506.1M79.5,508V505.3M80.5,508V507.1M81.5,508V502.7M82.5,508V506.5M83.5,508V506.6M84.5,508V507.2M85.5,508V506M87.5,508V506.1M90.5,508V506.9M91.5,508V502.5M97.5,508V506.9M101.5,508V506.1M102.5,508V506.5M103.5,508V507M104.5,508V506.5M105.5,508V498.7M107.5,508V504.7M110.5,508V505.4M111.5,508V507M112.5,508V505.4M113.5,508V506.4M115.5,508V506M116.5,508V506.5M117.5,508V504.8M118.5,508V505.4M119.5,508V503.4M120.5,508V506M121.5,508V505.2M123.5,508V506.4M124.5,508V504.9M125.5,508V506.5M127.5,508V505.6M128.5,508V505.4M129.5,508V503.4M132.5,508V506.1M136.5,508V505.2M137.5,508V506.4M148.5,508V502.7M154.5,508V503.7M163.5,508V480.3M164.5,508V487.7M165.5,508V494.9M168.5,508V495.4M170.5,508V493.3M171.5,508V497.1M172.5,508V492M173.5,508V496.3M174.5,508V502M175.5,508V499M178.5,508V499.2M179.5,508V494.2M180.5,508V502.4M183.5,508V478.6M184.5,508V501.7M185.5,508V499.2M186.5,508V501.6M188.5,508V494.8M189.5,508V501.5M190.5,508V496.6M191.5,508V503.6M193.5,508V503.8M197.5,508V503.4M202.5,508V502.2M210.5,508V492.4M211.5,508V495.1M212.5,508V496.4M214.5,508V488.4M217.5,508V497.5M219.5,508V493.4M220.5,508V499.9M221.5,508V496.8M223.5,508V500M224.5,508V497.9M225.5,508V497.9M226.5,508V499.5M227.5,508V491M228.5,508V500.8M230.5,508V486.4M231.5,508V485.7M232.5,508V497.5M233.5,508V499.1M235.5,508V498.5M236.5,508V481.8M237.5,508V503.4M238.5,508V503.5M242.5,508V501.1M243.5,508V500.3M244.5,508V504.7M245.5,508V498.4M249.5,508V501.7M252.5,508V498.3M253.5,508V497.9M258.5,508V495.1M260.5,508V492.5M261.5,508V484.4M263.5,508V492.5M267.5,508V480.2M268.5,508V494.4M270.5,508V497.5M271.5,508V465.6M272.5,508V488.1M273.5,508V491.4M274.5,508V486.6M275.5,508V484.2M278.5,508V487M286.5,508V478.9M290.5,508V471.1M291.5,508V493.7M292.5,508V497.2M293.5,508V484.4M294.5,508V489.9M306.5,508V503.6M310.5,508V502.2M311.5,508V482.7M320.5,508V475.4M322.5,508V477.9M323.5,508V491.9M324.5,508V491.1M326.5,508V496.6M328.5,508V487.3M329.5,508V494.3M333.5,508V500.3M337.5,508V496.1M338.5,508V492.4M339.5,508V498.9M340.5,508V485.7M341.5,508V499M342.5,508V493.7M343.5,508V489.8M345.5,508V500.1M346.5,508V490.2M347.5,508V463.8M348.5,508V496.5M351.5,508V500.8M352.5,508V493.4M358.5,508V500.7M359.5,508V494.2M360.5,508V497.8M361.5,508V500.7M370.5,508V500.1M372.5,508V499.8M376.5,508V500.2M379.5,508V500.7M380.5,508V502.1M381.5,508V500.7M382.5,508V501.9M383.5,508V504.9M384.5,508V502.6M385.5,508V496.9M386.5,508V501.4M390.5,508V503.4M391.5,508V487.3M394.5,508V498.8M399.5,508V502.7M404.5,508V503.3M405.5,508V501M408.5,508V496.8M414.5,508V495.6M415.5,508V502.4M416.5,508V486.5M417.5,508V499M418.5,508V498M427.5,508V475.2M428.5,508V499.1M431.5,508V480.1M436.5,508V480M439.5,508V489.6M444.5,508V497.8M447.5,508V502.6M452.5,508V498.4M453.5,508V501.7M454.5,508V493.5M455.5,508V500.7M456.5,508V499.7M457.5,508V489.6M459.5,508V495.1M460.5,508V492.2M461.5,508V494.1M462.5,508V497.4M465.5,508V500M475.5,508V497.2M476.5,508V495.5M477.5,508V501.6M491.5,508V498.8M492.5,508V497.1M493.5,508V498.1M494.5,508V495.7M499.5,508V500.3M502.5,508V501.6M503.5,508V499.9M505.5,508V500.5M507.5,508V499.1M511.5,508V504.4M512.5,508V498.5M513.5,508V502.1M514.5,508V496.6M515.5,508V502.5M516.5,508V502M517.5,508V502M519.5,508V505.1M520.5,508V499M521.5,508V501.3M522.5,508V502.8M523.5,508V502.2M524.5,508V498.6M525.5,508V499M526.5,508V495.2M531.5,508V502.9M538.5,508V502.1M539.5,508V499.7M540.5,508V501.2M543.5,508V499.7M544.5,508V500M545.5,508V493.2M546.5,508V506.2M547.5,508V503.4M551.5,508V498.5M553.5,508V501.8M554.5,508V499M555.5,508V501.2M556.5,508V502.1M557.5,508V500.1M558.5,508V493.8M559.5,508V505M560.5,508V493.7M561.5,508V499.5M563.5,508V497.4M564.5,508V499.6M565.5,508V493.8M566.5,508V501.7M567.5,508V494.4M575.5,508V500.8M587.5,508V501.3M588.5,508V498.4M589.5,508V495.1M590.5,508V492.1M594.5,508V499.5M597.5,508V487.3M599.5,508V496.9M605.5,508V496.5M606.5,508V489.5M607.5,508V481.8M609.5,508V495.3M610.5,508V491.9M611.5,508V495.3M612.5,508V496.9M613.5,508V475.1M614.5,508V498.8M624.5,508V491M625.5,508V491.5M626.5,508V468.6M627.5,508V480.9M631.5,508V477.2M632.5,508V481.8M635.5,508V482.9M637.5,508V494.5M638.5,508V501.6M639.5,508V488.5M640.5,508V497.5M643.5,508V497.3M652.5,508V496.3M653.5,508V498.6M654.5,508V496.3M655.5,508V500.3M660.5,508V503M661.5,508V501.3M662.5,508V498.2M664.5,508V500.3M668.5,508V497.9M669.5,508V498.5M672.5,508V500.3M673.5,508V504.4M674.5,508V499.8M675.5,508V496.3M676.5,508V497.1M681.5,508V502.9M683.5,508V502.5M684.5,508V504.5M685.5,508V495.6M686.5,508V494.6M687.5,508V502.9M689.5,508V503.6M692.5,508V501.1M693.5,508V498M694.5,508V503.8M695.5,508V499.2M697.5,508V494.9M698.5,508V503.7M699.5,508V505.7M700.5,508V504.7M705.5,508V503.1M706.5,508V505M712.5,508V505.4M715.5,508V501.4M716.5,508V505.9M719.5,508V502.9M731.5,508V499.1M732.5,508V470.9M733.5,508V481.6M734.5,508V500M735.5,508V495.9M736.5,508V500.8M737.5,508V503.7M740.5,508V498.5M741.5,508V499.4M742.5,508V503.3M743.5,508V502.8M744.5,508V501.3M745.5,508V499.6M752.5,508V503.3M753.5,508V504.1M754.5,508V501.8M755.5,508V499.8M756.5,508V499.8M763.5,508V500.2M764.5,508V504.7M769.5,508V504.7M771.5,508V501.9M772.5,508V504.1M777.5,508V506.2M778.5,508V504.3M780.5,508V504.6M783.5,508V501.1M787.5,508V506.5M790.5,508V506.9M791.5,508V504M792.5,508V505.2M793.5,508V505.4M795.5,508V500M796.5,508V498.3M797.5,508V504.8M799.5,508V503.8M800.5,508V502M801.5,508V502M802.5,508V505.1M807.5,508V505.7M808.5,508V505.7M809.5,508V502.5M810.5,508V503.3M812.5,508V505.3M813.5,508V505.1M818.5,508V499.5M819.5,508V495.4M822.5,508V504.6M823.5,508V505M825.5,508V502.5M827.5,508V499.9M828.5,508V499.6M829.5,508V502.2M832.5,508V500.5M834.5,508V502.3M835.5,508V502.6M836.5,508V501.8M837.5,508V498.7M839.5,508V504M840.5,508V500.5M841.5,508V500.2M842.5,508V498.1M843.5,508V499M845.5,508V493.2M846.5,508V501.7M851.5,508V495.6M856.5,508V501.8M857.5,508V502.7M858.5,508V503.8M859.5,508V497.6M860.5,508V496.7M861.5,508V502.7M864.5,508V505.4M865.5,508V503.9M867.5,508V502.2M872.5,508V505.1M873.5,508V501.2M874.5,508V497.3M875.5,508V503.4M876.5,508V503.9M877.5,508V500.5M879.5,508V502.5M880.5,508V493.7M882.5,508V498.8M883.5,508V501.3M884.5,508V502M885.5,508V498.3M886.5,508V502.2M887.5,508V496.7M888.5,508V498.3M889.5,508V503.8M892.5,508V500.3M893.5,508V502.6M895.5,508V501.8M896.5,508V501.6M897.5,508V502.4M898.5,508V503.1M902.5,508V503.8M903.5,508V498.2M905.5,508V496.8M910.5,508V485.8M911.5,508V500.4M917.5,508V492.7M918.5,508V469.2M920.5,508V497.4M921.5,508V493.1M922.5,508V502.3M923.5,508V490.7M924.5,508V498.4M925.5,508V501.2M928.5,508V491M929.5,508V488.1M930.5,508V494M931.5,508V499.5M932.5,508V493.7M937.5,508V490.7M938.5,508V492.4M941.5,508V499M942.5,508V501.2M945.5,508V492.1M946.5,508V494.5M947.5,508V503M948.5,508V498.4M949.5,508V497M950.5,508V491.2M952.5,508V496.1M953.5,508V498.2M954.5,508V496.9M957.5,508V496.2M958.5,508V502.7M959.5,508V488.4M960.5,508V478M961.5,508V499.6M962.5,508V488.2M963.5,508V499.8M966.5,508V494M967.5,508V483.3M968.5,508V493M969.5,508V487.5M970.5,508V495.5M971.5,508V484M972.5,508V480.7M973.5,508V491.2M974.5,508V498.2M975.5,508V497.6M980.5,508V491.6M982.5,508V483.6M983.5,508V491.8M984.5,508V485.5M985.5,508V499.4M987.5,508V502.5M988.5,508V492.4M989.5,508V500.6M998.5,508V493.3M999.5,508V499M1000.5,508V489.9M1001.5,508V496.1M1002.5,508V496.3M1005.5,508V495.6M1007.5,508V498.8M1008.5,508V492M1010.5,508V492.3M1011.5,508V498.3M1012.5,508V493.8M1014.5,508V498.9M1018.5,508V493.6M1019.5,508V499.2M1023.5,508V499.3M1024.5,508V493M1025.5,508V487.8M1032.5,508V501M1033.5,508V494.1M1036.5,508V502.1M1037.5,508V478.6M1039.5,508V487.2M1040.5,508V495.7M1041.5,508V492.7M1042.5,508V483M1043.5,508V485.5M1050.5,508V497.1M1055.5,508V495M1056.5,508V494.3M1058.5,508V501.4M1059.5,508V487.7M1060.5,508V495.6M1061.5,508V498.5M1062.5,508V500M1066.5,508V499.9M1069.5,508V499.9M1070.5,508V481.4M1072.5,508V496.4M1074.5,508V499M1079.5,508V497M1087.5,508V502M1088.5,508V498.6M1092.5,508V501.3M1093.5,508V505.2M1094.5,508V503.9M1095.5,508V500.6M1097.5,508V501.3M1108.5,508V498.3" stroke="#c2e4d2" stroke-width="1" fill="none"/>
<path d="M0,507 L1.5,506.9 L3,507 L4.5,507 L6,507 L7.5,507 L9,506.8 L10.5,506.7 L12,506.8 L13.5,506.8 L15,506.7 L16.5,506.7 L18,506.8 L19.5,506.8 L21,506.7 L22.5,506.7 L24,506.7 L25.5,506.7 L27,506.7 L28.5,506.6 L30,506.7 L31.5,506.7 L33,506.8 L34.5,506.8 L36,506.7 L37.5,506.7 L39,506.7 L40.5,506.7 L42,506.6 L43.5,506.8 L45,506.6 L46.5,506.6 L48,506.7 L49.5,506.6 L51,506.5 L52.5,506.5 L54,506.5 L55.5,506.5 L57,506.4 L58.5,506.6 L60,506.6 L61.5,506.5 L63,506.5 L64.5,506.6 L66,506.6 L67.5,506.6 L69,506.6 L70.5,506.7 L72,506.8 L73.5,506.8 L75,506.7 L76.5,506.4 L78,506.4 L79.5,506.3 L81,506.4 L82.5,506.3 L84,506.3 L85.5,506.3 L87,506.3 L88.5,506.4 L90,506.6 L91.5,506.6 L93,506.4 L94.5,506.2 L96,506.2 L97.5,506.3 L99,506.3 L100.5,506.2 L102,506.3 L103.5,506.2 L105,506.3 L106.5,506.1 L108,506.1 L109.5,506.2 L111,506.2 L112.5,506.3 L114,506.2 L115.5,506.3 L117,506.3 L118.5,506.1 L120,506 L121.5,506 L123,505.7 L124.5,505.9 L126,505.8 L127.5,505.8 L129,505.6 L130.5,505.6 L132,505.3 L133.5,505.2 L135,505.4 L136.5,504.8 L138,504.9 L139.5,504.9 L141,504.5 L142.5,504.2 L144,503.8 L145.5,503.2 L147,503.1 L148.5,502.8 L150,501.9 L151.5,500.3 L153,499.7 L154.5,499 L156,497.2 L157.5,497 L159,495.9 L160.5,495 L162,495.4 L163.5,496.3 L165,494.2 L166.5,491.8 L168,490.4 L169.5,488.8 L171,492.7 L172.5,492.8 L174,492 L175.5,493.8 L177,495.6 L178.5,495.6 L180,496.3 L181.5,496.2 L183,496.8 L184.5,496.5 L186,496.9 L187.5,497.6 L189,498.6 L190.5,498.5 L192,498.9 L193.5,498.2 L195,497.6 L196.5,497.3 L198,498.3 L199.5,497.9 L201,496.7 L202.5,494.6 L204,494.7 L205.5,493.5 L207,491.8 L208.5,491.3 L210,493.3 L211.5,493.7 L213,495 L214.5,495.1 L216,496 L217.5,497.6 L219,497.8 L220.5,497.7 L222,497 L223.5,497.1 L225,497.7 L226.5,498.2 L228,497.5 L229.5,497 L231,495.5 L232.5,494.7 L234,495.7 L235.5,497.2 L237,497.4 L238.5,497.4 L240,498.5 L241.5,499.1 L243,498.8 L244.5,499.3 L246,499.9 L247.5,498.5 L249,497.3 L250.5,496.3 L252,494.8 L253.5,493.4 L255,490.4 L256.5,489.6 L258,489.5 L259.5,488.8 L261,486.3 L262.5,482.5 L264,481.3 L265.5,480 L267,479 L268.5,479 L270,477.6 L271.5,478.5 L273,474.8 L274.5,472.5 L276,472.2 L277.5,474.7 L279,475 L280.5,476 L282,474.9 L283.5,475.6 L285,474.9 L286.5,474.7 L288,474.8 L289.5,479.4 L291,481.8 L292.5,485.1 L294,484.6 L295.5,487.9 L297,488 L298.5,491 L300,492.1 L301.5,494.4 L303,496.1 L304.5,497.5 L306,497.1 L307.5,496.1 L309,494.3 L310.5,491.7 L312,488.3 L313.5,486.6 L315,486.6 L316.5,482.9 L318,484.5 L319.5,478.4 L321,476.7 L322.5,480.7 L324,480.8 L325.5,483.8 L327,483.5 L328.5,486.9 L330,489.5 L331.5,491.3 L333,492.2 L334.5,494.6 L336,491.9 L337.5,491.5 L339,488.7 L340.5,488.6 L342,488.1 L343.5,487.9 L345,487.4 L346.5,487.3 L348,486.9 L349.5,488.4 L351,490.8 L352.5,491.8 L354,494.5 L355.5,498.2 L357,499 L358.5,499.3 L360,498.7 L361.5,497.8 L363,497.3 L364.5,496.8 L366,495 L367.5,494.1 L369,493 L370.5,493.1 L372,493 L373.5,493 L375,495.3 L376.5,496.3 L378,497.4 L379.5,498.3 L381,498.8 L382.5,499.4 L384,499.6 L385.5,500.7 L387,500.9 L388.5,501.8 L390,501.8 L391.5,501.2 L393,501.2 L394.5,501.2 L396,500.9 L397.5,500.3 L399,500.8 L400.5,500.6 L402,499.3 L403.5,498.8 L405,498.9 L406.5,499.3 L408,498.3 L409.5,498.4 L411,497.4 L412.5,497.3 L414,496.1 L415.5,497.5 L417,497.2 L418.5,498.3 L420,499 L421.5,497.3 L423,496.2 L424.5,492.8 L426,491.6 L427.5,491 L429,486.8 L430.5,487.3 L432,487.2 L433.5,486.7 L435,486.8 L436.5,485.6 L438,485.8 L439.5,489.6 L441,491.5 L442.5,493.1 L444,495.5 L445.5,496.8 L447,496 L448.5,495.7 L450,494.3 L451.5,492.9 L453,492.4 L454.5,491.8 L456,493.3 L457.5,494.4 L459,494.7 L460.5,495.1 L462,496.2 L463.5,496.8 L465,498 L466.5,498.7 L468,498.3 L469.5,498.4 L471,499.3 L472.5,498.3 L474,498 L475.5,496.5 L477,493.8 L478.5,489.1 L480,485.8 L481.5,481.8 L483,481.4 L484.5,480.3 L486,476.3 L487.5,476.9 L489,480.1 L490.5,481 L492,483.3 L493.5,486.2 L495,486.9 L496.5,491.5 L498,493.6 L499.5,495.8 L501,495.5 L502.5,495.1 L504,496.3 L505.5,496.8 L507,496.7 L508.5,497 L510,497.5 L511.5,497.3 L513,496.7 L514.5,497.5 L516,498.6 L517.5,498.9 L519,499 L520.5,499.3 L522,498.9 L523.5,498.7 L525,498.5 L526.5,498.7 L528,498.9 L529.5,499.7 L531,499.9 L532.5,500.2 L534,499.9 L535.5,500 L537,500 L538.5,499.8 L540,500.1 L541.5,499.4 L543,499 L544.5,499.6 L546,498.8 L547.5,499.1 L549,499.4 L550.5,499.3 L552,499.7 L553.5,499 L555,498.1 L556.5,499 L558,498.4 L559.5,497.8 L561,497.2 L562.5,496.5 L564,496 L565.5,496.1 L567,495 L568.5,494.5 L570,493.7 L571.5,493.3 L573,494.2 L574.5,495.1 L576,495.4 L577.5,495.6 L579,497.9 L580.5,499.1 L582,500.2 L583.5,500.4 L585,501 L586.5,499.5 L588,498.5 L589.5,496.4 L591,496 L592.5,495.4 L594,494.8 L595.5,493.8 L597,492.5 L598.5,492.1 L600,492 L601.5,492.2 L603,490.3 L604.5,489.8 L606,490.3 L607.5,490.1 L609,489.4 L610.5,487.3 L612,486.7 L613.5,489.1 L615,490.1 L616.5,490.8 L618,490.9 L619.5,490.4 L621,486 L622.5,483.5 L624,482.3 L625.5,479.2 L627,475.8 L628.5,474 L630,469.9 L631.5,474.9 L633,474.9 L634.5,475 L636,478 L637.5,485.8 L639,488.5 L640.5,492.3 L642,492.8 L643.5,494.3 L645,493.3 L646.5,491.1 L648,492 L649.5,493.1 L651,494.9 L652.5,493.9 L654,493 L655.5,494.7 L657,495 L658.5,497.5 L660,498.9 L661.5,499.3 L663,500 L664.5,499.1 L666,498.1 L667.5,498.1 L669,497.8 L670.5,497 L672,497 L673.5,497.1 L675,497.2 L676.5,498.7 L678,498.2 L679.5,498.5 L681,499.3 L682.5,499.6 L684,500.2 L685.5,500.7 L687,501.7 L688.5,502.2 L690,502.6 L691.5,502.5 L693,502.9 L694.5,503.3 L696,503.8 L697.5,504 L699,505 L700.5,505.3 L702,504.9 L703.5,504.9 L705,504.7 L706.5,504.3 L708,504.2 L709.5,504.6 L711,504.5 L712.5,504.7 L714,504.4 L715.5,504.1 L717,504.1 L718.5,503.9 L720,504 L721.5,503.2 L723,503 L724.5,502.8 L726,502.5 L727.5,501.9 L729,501.6 L730.5,501.5 L732,501.4 L733.5,501 L735,500.6 L736.5,500.4 L738,500.3 L739.5,499.9 L741,499.1 L742.5,498.9 L744,499 L745.5,498.9 L747,499.7 L748.5,500 L750,501.1 L751.5,502 L753,501.7 L754.5,502 L756,502.7 L757.5,502.5 L759,503 L760.5,503.5 L762,503.5 L763.5,504.1 L765,504.2 L766.5,504.1 L768,504.1 L769.5,504.4 L771,504.6 L772.5,504.7 L774,504.5 L775.5,505.1 L777,504.9 L778.5,505 L780,504.9 L781.5,505.3 L783,505.3 L784.5,505.6 L786,505.7 L787.5,505.8 L789,506.2 L790.5,506.1 L792,505.8 L793.5,505.5 L795,505.4 L796.5,505.4 L798,505 L799.5,504.8 L801,504.4 L802.5,503.9 L804,503.9 L805.5,503.9 L807,503.9 L808.5,504.2 L810,503.9 L811.5,503.4 L813,502.9 L814.5,502.9 L816,502.3 L817.5,502.6 L819,502.6 L820.5,502.7 L822,502.7 L823.5,502.6 L825,502.7 L826.5,502.6 L828,502.2 L829.5,502.1 L831,502 L832.5,501.1 L834,500.8 L835.5,499.8 L837,499.2 L838.5,499.6 L840,499.2 L841.5,497.4 L843,497 L844.5,496.5 L846,495.8 L847.5,494.7 L849,494.8 L850.5,496.6 L852,497.1 L853.5,499.3 L855,501.1 L856.5,501.1 L858,501 L859.5,500.4 L861,499.7 L862.5,500.3 L864,500.7 L865.5,500.4 L867,500.1 L868.5,499.4 L870,499.6 L871.5,498.7 L873,499.5 L874.5,498.4 L876,497.9 L877.5,496.7 L879,498 L880.5,497.9 L882,498 L883.5,498.9 L885,498.9 L886.5,499.9 L888,500.9 L889.5,501.8 L891,502 L892.5,502.7 L894,503.6 L895.5,503.2 L897,502.6 L898.5,500.9 L900,499.6 L901.5,499 L903,498.7 L904.5,497.8 L906,497.5 L907.5,496.5 L909,495.6 L910.5,492.5 L912,494.2 L913.5,493.7 L915,492.2 L916.5,491.2 L918,490.3 L919.5,491.9 L921,491.2 L922.5,494.2 L924,493.5 L925.5,492.2 L927,491.8 L928.5,493.6 L930,494.3 L931.5,495.9 L933,495.7 L934.5,496.3 L936,494.5 L937.5,493.5 L939,491.2 L940.5,490.6 L942,491.5 L943.5,490.4 L945,490.7 L946.5,493.3 L948,492.9 L949.5,493.6 L951,493.1 L952.5,493.1 L954,494.8 L955.5,494.6 L957,496.1 L958.5,496 L960,495.3 L961.5,493 L963,492.5 L964.5,492 L966,491 L967.5,491.9 L969,490.4 L970.5,490.4 L972,492.1 L973.5,492.9 L975,493.2 L976.5,492.8 L978,492.1 L979.5,493.4 L981,493.8 L982.5,492.2 L984,490 L985.5,489.7 L987,490.9 L988.5,492 L990,491.7 L991.5,491.8 L993,492.8 L994.5,491.4 L996,489.4 L997.5,491.2 L999,492.2 L1000.5,492.4 L1002,493.2 L1003.5,491.5 L1005,492.5 L1006.5,491 L1008,490.2 L1009.5,489.2 L1011,491.2 L1012.5,490.9 L1014,490.8 L1015.5,490.2 L1017,490.5 L1018.5,491.7 L1020,491 L1021.5,490.2 L1023,489.9 L1024.5,491.7 L1026,491.7 L1027.5,493 L1029,493.2 L1030.5,492.2 L1032,492.7 L1033.5,488.4 L1035,486.8 L1036.5,487.6 L1038,487.6 L1039.5,486.6 L1041,486.5 L1042.5,488.1 L1044,487.8 L1045.5,489.4 L1047,489.4 L1048.5,487.4 L1050,488.9 L1051.5,490.6 L1053,490.1 L1054.5,491.6 L1056,491.8 L1057.5,492.8 L1059,491.9 L1060.5,492.6 L1062,492 L1063.5,491.8 L1065,490.8 L1066.5,491.3 L1068,492.7 L1069.5,494.5 L1071,495.1 L1072.5,496 L1074,495 L1075.5,496 L1077,497.9 L1078.5,497.3 L1080,496.8 L1081.5,497.8 L1083,497.4 L1084.5,498.6 L1086,498.5 L1087.5,498.8 L1089,498.8 L1090.5,498.9 L1092,499.6 L1093.5,499.4 L1095,500.1 L1096.5,500.1 L1098,499.5 L1099.5,500.3 L1101,500.3 L1102.5,499.6 L1104,499.5 L1105.5,500.1 L1107,500.3" stroke="#f8b88c" stroke-width="0.9" fill="none"/>
<path d="M308.4,502L309.4,508.3" stroke="#f00" stroke-width="1.8"/>
<path d="M0,482.5 L1,482.2 L2,481.9 L3,481.7 L4,481.4 L5,481.1 L6,480.8 L7,480.5 L8,480.2 L9,479.9 L10,479.6 L11,479.3 L12,479 L13,478.6 L14,478.3 L15,478 L16,477.6 L17,477.3 L18,476.9 L19,476.6 L20,476.2 L21,475.9 L22,475.5 L23,475.2 L24,474.8 L25,474.5 L26,474.2 L27,473.9 L28,473.6 L29,473.3 L30,473 L31,472.7 L32,472.4 L33,472.1 L34,471.8 L35,471.4 L36,471.1 L37,470.7 L38,470.3 L39,469.9 L40,469.4 L41,468.9 L42,468.3 L43,467.8 L44,467.2 L45,466.6 L46,466 L47,465.5 L48,464.9 L49,464.3 L50,463.8 L51,463.3 L52,462.8 L53,462.2 L54,461.7 L55,461.2 L56,460.7 L57,460.2 L58,459.6 L59,459.1 L60,458.7 L61,458.2 L62,457.7 L63,457.3 L64,456.8 L65,456.4 L66,456 L67,455.6 L68,455.2 L69,454.8 L70,454.4 L71,454.1 L72,453.7 L73,453.3 L74,452.9 L75,452.5 L76,452.1 L77,451.7 L78,451.3 L79,450.9 L80,450.5 L81,450.1 L82,449.7 L83,449.3 L84,448.9 L85,448.5 L86,448.1 L87,447.7 L88,447.3 L89,446.9 L90,446.5 L91,446.1 L92,445.7 L93,445.3 L94,444.9 L95,444.5 L96,444.1 L97,443.7 L98,443.3 L99,442.9 L100,442.5 L101,442.1 L102,441.7 L103,441.3 L104,440.9 L105,440.5 L106,440.1 L107,439.7 L108,439.3 L109,438.9 L110,438.5 L111,438.1 L112,437.7 L113,437.3 L114,436.9 L115,436.5 L116,436.2 L117,435.8 L118,435.4 L119,435 L120,434.6 L121,434.2 L122,433.8 L123,433.4 L124,433 L125,432.5 L126,432 L127,431.5 L128,431 L129,430.5 L130,429.9 L131,429.3 L132,428.7 L133,428.1 L134,427.5 L135,426.8 L136,426.1 L137,425.4 L138,424.6 L139,423.8 L140,422.9 L141,422 L142,421 L143,420 L144,418.8 L145,417.5 L146,416 L147,414.3 L148,412.4 L149,410.4 L150,408.2 L151,405.9 L152,403.6 L153,401.3 L154,398.7 L155,396 L156,393.1 L157,390.2 L158,387.4 L159,384.8 L160,382.5 L161,380.4 L162,378.3 L163,376.4 L164,374.5 L165,372.6 L166,370.9 L167,369.3 L168,367.7 L169,366.3 L170,365 L171,363.9 L172,362.9 L173,361.9 L174,361 L175,360 L176,358.9 L177,357.8 L178,356.7 L179,355.5 L180,354.3 L181,353.2 L182,352 L183,350.9 L184,349.8 L185,348.8 L186,347.8 L187,346.9 L188,346 L189,345.1 L190,344.2 L191,343.3 L192,342.5 L193,341.6 L194,340.8 L195,340 L196,339.2 L197,338.4 L198,337.6 L199,336.8 L200,336 L201,335.2 L202,334.5 L203,333.8 L204,333.1 L205,332.5 L206,331.9 L207,331.4 L208,330.8 L209,330.3 L210,329.8 L211,329.4 L212,328.9 L213,328.4 L214,328 L215,327.5 L216,327 L217,326.5 L218,326 L219,325.5 L220,325 L221,324.5 L222,324 L223,323.5 L224,323 L225,322.5 L226,322 L227,321.5 L228,321 L229,320.5 L230,320 L231,319.5 L232,319 L233,318.5 L234,317.9 L235,317.4 L236,316.9 L237,316.4 L238,315.9 L239,315.4 L240,314.9 L241,314.5 L242,314 L243,313.6 L244,313.2 L245,312.7 L246,312.3 L247,311.9 L248,311.5 L249,311.2 L250,310.8 L251,310.5 L252,310.2 L253,309.9 L254,309.6 L255,309.4 L256,309.2 L257,309 L258,308.8 L259,308.6 L260,308.3 L261,308.1 L262,307.7 L263,307.3 L264,306.6 L265,305.7 L266,304.7 L267,303.4 L268,302.1 L269,300.6 L270,299 L271,297 L272,294.5 L273,291.6 L274,288.7 L275,286 L276,283.5 L277,281 L278,278.6 L279,276.2 L280,274 L281,271.9 L282,269.8 L283,267.9 L284,265.9 L285,264.1 L286,262.4 L287,260.8 L288,259.3 L289,257.8 L290,256.5 L291,255.1 L292,253.8 L293,252.6 L294,251.4 L295,250.3 L296,249.2 L297,248.1 L298,247 L299,246 L300,245 L301,244 L302,243.1 L303,242.1 L304,241.2 L305,240.4 L306,239.5 L307,238.7 L308,237.9 L309,237.1 L310,236.3 L311,235.6 L312,234.9 L313,234.2 L314,233.5 L315,232.8 L316,232.2 L317,231.5 L318,230.9 L319,230.3 L320,229.8 L321,229.2 L322,228.6 L323,228.1 L324,227.5 L325,227 L326,226.5 L327,225.9 L328,225.4 L329,224.9 L330,224.4 L331,223.9 L332,223.4 L333,222.9 L334,222.5 L335,222 L336,221.6 L337,221.2 L338,220.8 L339,220.4 L340,220.1 L341,219.7 L342,219.4 L343,219 L344,218.7 L345,218.4 L346,218.1 L347,217.8 L348,217.5 L349,217.3 L350,217 L351,216.8 L352,216.5 L353,216.2 L354,216 L355,215.8 L356,215.5 L357,215.3 L358,215.1 L359,214.9 L360,214.8 L361,214.6 L362,214.5 L363,214.5 L364,214.4 L365,214.3 L366,214.3 L367,214.2 L368,214.2 L369,214.1 L370,214.1 L371,214.1 L372,214 L373,214 L374,214 L375,214 L376,214 L377,214.1 L378,214.1 L379,214.2 L380,214.3 L381,214.4 L382,214.5 L383,214.7 L384,214.8 L385,215 L386,215.1 L387,215.2 L388,215.4 L389,215.5 L390,215.7 L391,215.8 L392,216 L393,216.2 L394,216.3 L395,216.5 L396,216.7 L397,216.9 L398,217.1 L399,217.3 L400,217.5 L401,217.7 L402,217.9 L403,218.2 L404,218.4 L405,218.6 L406,218.9 L407,219.1 L408,219.4 L409,219.6 L410,219.9 L411,220.1 L412,220.4 L413,220.6 L414,220.8 L415,221.1 L416,221.3 L417,221.6 L418,221.8 L419,222 L420,222.2 L421,222.5 L422,222.7 L423,222.9 L424,223.1 L425,223.3 L426,223.5 L427,223.7 L428,223.9 L429,224.1 L430,224.3 L431,224.4 L432,224.6 L433,224.8 L434,225 L435,225.1 L436,225.3 L437,225.4 L438,225.6 L439,225.7 L440,225.8 L441,226 L442,226.1 L443,226.2 L444,226.3 L445,226.4 L446,226.6 L447,226.7 L448,226.8 L449,226.9 L450,227 L451,227.1 L452,227.2 L453,227.3 L454,227.4 L455,227.5 L456,227.5 L457,227.6 L458,227.7 L459,227.9 L460,228 L461,228.2 L462,228.3 L463,228.6 L464,228.8 L465,229 L466,229.3 L467,229.6 L468,229.9 L469,230.2 L470,230.5 L471,230.8 L472,231.1 L473,231.5 L474,231.8 L475,232.1 L476,232.5 L477,232.8 L478,233.2 L479,233.6 L480,234 L481,234.4 L482,234.8 L483,235.2 L484,235.7 L485,236.1 L486,236.6 L487,237.1 L488,237.6 L489,238.2 L490,238.7 L491,239.2 L492,239.8 L493,240.3 L494,240.8 L495,241.3 L496,241.8 L497,242.3 L498,242.8 L499,243.3 L500,243.9 L501,244.4 L502,244.9 L503,245.4 L504,245.9 L505,246.3 L506,246.8 L507,247.3 L508,247.7 L509,248.2 L510,248.6 L511,249 L512,249.4 L513,249.8 L514,250.3 L515,250.6 L516,251 L517,251.4 L518,251.8 L519,252.1 L520,252.5 L521,252.8 L522,253.2 L523,253.5 L524,253.8 L525,254.1 L526,254.4 L527,254.7 L528,255 L529,255.3 L530,255.6 L531,255.9 L532,256.2 L533,256.5 L534,256.8 L535,257.1 L536,257.4 L537,257.7 L538,258 L539,258.3 L540,258.6 L541,258.9 L542,259.2 L543,259.5 L544,259.7 L545,260 L546,260.3 L547,260.5 L548,260.8 L549,261 L550,261.3 L551,261.6 L552,261.8 L553,262 L554,262.3 L555,262.5 L556,262.7 L557,262.9 L558,263.1 L559,263.3 L560,263.5 L561,263.7 L562,263.9 L563,264 L564,264.2 L565,264.4 L566,264.5 L567,264.7 L568,264.8 L569,264.9 L570,265 L571,265.1 L572,265.2 L573,265.3 L574,265.4 L575,265.4 L576,265.5 L577,265.6 L578,265.7 L579,265.7 L580,265.8 L581,265.8 L582,265.8 L583,265.8 L584,265.8 L585,265.8 L586,265.7 L587,265.7 L588,265.7 L589,265.6 L590,265.6 L591,265.6 L592,265.5 L593,265.5 L594,265.5 L595,265.5 L596,265.5 L597,265.5 L598,265.6 L599,265.6 L600,265.7 L601,265.8 L602,265.9 L603,265.9 L604,266 L605,266.1 L606,266.2 L607,266.2 L608,266.3 L609,266.3 L610,266.3 L611,266.3 L612,266.3 L613,266.3 L614,266.3 L615,266.3 L616,266.3 L617,266.3 L618,266.3 L619,266.3 L620,266.3 L621,266.3 L622,266.3 L623,266.3 L624,266.2 L625,265.9 L626,265.6 L627,265.3 L628,264.9 L629,264.4 L630,264 L631,263.6 L632,263.2 L633,262.8 L634,262.5 L635,262.2 L636,261.8 L637,261.5 L638,261.2 L639,260.8 L640,260.5 L641,260.2 L642,259.8 L643,259.5 L644,259.1 L645,258.8 L646,258.5 L647,258.1 L648,257.7 L649,257.4 L650,257 L651,256.6 L652,256.2 L653,255.9 L654,255.5 L655,255.2 L656,254.9 L657,254.6 L658,254.4 L659,254.1 L660,253.9 L661,253.7 L662,253.5 L663,253.3 L664,253.2 L665,253 L666,252.8 L667,252.6 L668,252.4 L669,252.2 L670,252 L671,251.8 L672,251.5 L673,251.3 L674,251 L675,250.8 L676,250.5 L677,250.3 L678,250 L679,249.7 L680,249.5 L681,249.2 L682,248.9 L683,248.7 L684,248.4 L685,248.1 L686,247.9 L687,247.6 L688,247.4 L689,247.1 L690,246.8 L691,246.6 L692,246.3 L693,246 L694,245.8 L695,245.5 L696,245.2 L697,244.9 L698,244.7 L699,244.4 L700,244.1 L701,243.8 L702,243.5 L703,243.2 L704,242.9 L705,242.6 L706,242.4 L707,242.1 L708,241.9 L709,241.6 L710,241.4 L711,241.2 L712,241 L713,240.7 L714,240.5 L715,240.3 L716,240.1 L717,239.9 L718,239.7 L719,239.5 L720,239.3 L721,239.1 L722,238.9 L723,238.8 L724,238.6 L725,238.4 L726,238.3 L727,238.1 L728,237.9 L729,237.7 L730,237.5 L731,237.3 L732,237.1 L733,236.9 L734,236.6 L735,236.3 L736,235.9 L737,235.6 L738,235.2 L739,234.8 L740,234.4 L741,234 L742,233.6 L743,233.2 L744,232.8 L745,232.5 L746,232.2 L747,231.9 L748,231.5 L749,231.2 L750,230.9 L751,230.6 L752,230.3 L753,230 L754,229.7 L755,229.4 L756,229.2 L757,228.9 L758,228.7 L759,228.5 L760,228.2 L761,228 L762,227.8 L763,227.6 L764,227.4 L765,227.3 L766,227.1 L767,226.9 L768,226.7 L769,226.5 L770,226.3 L771,226.1 L772,225.9 L773,225.7 L774,225.5 L775,225.3 L776,225.1 L777,224.9 L778,224.7 L779,224.5 L780,224.3 L781,224.1 L782,223.9 L783,223.7 L784,223.5 L785,223.3 L786,223.1 L787,222.9 L788,222.7 L789,222.5 L790,222.3 L791,222.1 L792,221.9 L793,221.7 L794,221.5 L795,221.3 L796,221.1 L797,220.9 L798,220.7 L799,220.5 L800,220.3 L801,220.1 L802,219.9 L803,219.7 L804,219.5 L805,219.3 L806,219.1 L807,218.9 L808,218.7 L809,218.5 L810,218.2 L811,218 L812,217.8 L813,217.5 L814,217.3 L815,217 L816,216.8 L817,216.5 L818,216.3 L819,216 L820,215.8 L821,215.6 L822,215.3 L823,215.1 L824,214.9 L825,214.7 L826,214.4 L827,214.2 L828,214 L829,213.8 L830,213.5 L831,213.3 L832,213.1 L833,212.9 L834,212.7 L835,212.5 L836,212.3 L837,212.1 L838,211.9 L839,211.7 L840,211.5 L841,211.3 L842,211.1 L843,210.9 L844,210.7 L845,210.5 L846,210.3 L847,210.1 L848,209.9 L849,209.6 L850,209.4 L851,209.2 L852,209 L853,208.7 L854,208.5 L855,208.2 L856,207.9 L857,207.6 L858,207.3 L859,207 L860,206.7 L861,206.3 L862,205.9 L863,205.4 L864,205 L865,204.6 L866,204.1 L867,203.7 L868,203.3 L869,202.9 L870,202.5 L871,202.1 L872,201.7 L873,201.4 L874,201 L875,200.7 L876,200.3 L877,199.9 L878,199.6 L879,199.2 L880,198.9 L881,198.5 L882,198.2 L883,197.8 L884,197.5 L885,197.2 L886,196.9 L887,196.5 L888,196.2 L889,195.9 L890,195.6 L891,195.3 L892,194.9 L893,194.6 L894,194.2 L895,193.8 L896,193.4 L897,193 L898,192.5 L899,192 L900,191.5 L901,191 L902,190.5 L903,190 L904,189.4 L905,188.8 L906,188.2 L907,187.5 L908,186.8 L909,186.1 L910,185.3 L911,184.5 L912,183.7 L913,182.9 L914,182.1 L915,181.3 L916,180.5 L917,179.6 L918,178.7 L919,177.7 L920,176.8 L921,175.9 L922,175 L923,174.1 L924,173.3 L925,172.5 L926,171.8 L927,171.1 L928,170.4 L929,169.8 L930,169.2 L931,168.6 L932,168 L933,167.4 L934,166.9 L935,166.3 L936,165.8 L937,165.3 L938,164.7 L939,164 L940,163.3 L941,162.6 L942,161.8 L943,161.1 L944,160.3 L945,159.4 L946,158.7 L947,157.9 L948,157.1 L949,156.4 L950,155.6 L951,154.9 L952,154.1 L953,153.4 L954,152.6 L955,151.9 L956,151.1 L957,150.4 L958,149.6 L959,148.9 L960,148.1 L961,147.4 L962,146.6 L963,145.9 L964,145.1 L965,144.4 L966,143.6 L967,142.9 L968,142.1 L969,141.4 L970,140.7 L971,140 L972,139.3 L973,138.5 L974,137.8 L975,137 L976,136.2 L977,135.4 L978,134.6 L979,133.6 L980,132.7 L981,131.6 L982,130.6 L983,129.6 L984,128.5 L985,127.5 L986,126.5 L987,125.5 L988,124.4 L989,123.4 L990,122.4 L991,121.4 L992,120.5 L993,119.6 L994,118.7 L995,117.9 L996,117.2 L997,116.4 L998,115.6 L999,114.7 L1000,113.8 L1001,112.8 L1002,111.7 L1003,110.6 L1004,109.4 L1005,108.1 L1006,106.9 L1007,105.6 L1008,104.4 L1009,103.1 L1010,101.7 L1011,100.3 L1012,99 L1013,97.6 L1014,96.3 L1015,95 L1016,93.8 L1017,92.5 L1018,91.3 L1019,90.1 L1020,88.9 L1021,87.8 L1022,86.8 L1023,85.8 L1024,84.9 L1025,84 L1026,83.1 L1027,82.2 L1028,81.4 L1029,80.7 L1030,80 L1031,79.3 L1032,78.7 L1033,78.1 L1034,77.5 L1035,77 L1036,76.4 L1037,75.9 L1038,75.4 L1039,75 L1040,74.5 L1041,74.1 L1042,73.7 L1043,73.3 L1044,72.9 L1045,72.5 L1046,72.2 L1047,71.8 L1048,71.5 L1049,71.1 L1050,70.8 L1051,70.5 L1052,70.1 L1053,69.8 L1054,69.4 L1055,69.1 L1056,68.8 L1057,68.5 L1058,68.1 L1059,67.8 L1060,67.5 L1061,67.2 L1062,66.9 L1063,66.5 L1064,66.2 L1065,65.9 L1066,65.6 L1067,65.3 L1068,65 L1069,64.8 L1070,64.5 L1071,64.3 L1072,64 L1073,63.8 L1074,63.6 L1075,63.4 L1076,63.2 L1077,63 L1078,62.8 L1079,62.6 L1080,62.5 L1081,62.4 L1082,62.2 L1083,62.1 L1084,62 L1085,61.9 L1086,61.8 L1087,61.7 L1088,61.6 L1089,61.5 L1090,61.5 L1091,61.5 L1092,61.4 L1093,61.4 L1094,61.4 L1095,61.4 L1096,61.3 L1097,61.3 L1098,61.3 L1099,61.3 L1100,61.3 L1101,61.3 L1102,61.3 L1103,61.3 L1104,61.3 L1105,61.4 L1106,61.4 L1107,61.4 L1108,61.5" stroke="#f4b71c" stroke-width="1.3" fill="none" stroke-linejoin="round"/>
<path d="M0,479.3 L1,479.1 L2,478.9 L3,478.7 L4,478.4 L5,478.1 L6,477.8 L7,477.5 L8,477.1 L9,476.7 L10,476.3 L11,475.9 L12,475.4 L13,474.8 L14,474.2 L15,473.6 L16,472.9 L17,472.2 L18,471.5 L19,470.8 L20,470 L21,469.2 L22,468.3 L23,467.4 L24,466.4 L25,465.4 L26,464.3 L27,463.2 L28,462.1 L29,461.1 L30,460 L31,458.9 L32,457.8 L33,456.6 L34,455.5 L35,454.3 L36,453.1 L37,452 L38,450.9 L39,449.8 L40,448.8 L41,447.8 L42,446.8 L43,445.9 L44,444.9 L45,444 L46,443.1 L47,442.2 L48,441.4 L49,440.7 L50,440 L51,439.4 L52,438.7 L53,438.1 L54,437.5 L55,436.9 L56,436.4 L57,435.9 L58,435.5 L59,435.2 L60,435 L61,434.8 L62,434.7 L63,434.5 L64,434.4 L65,434.3 L66,434.2 L67,434.1 L68,434 L69,433.9 L70,433.9 L71,433.8 L72,433.8 L73,433.8 L74,433.8 L75,433.9 L76,433.9 L77,434 L78,434.1 L79,434.2 L80,434.3 L81,434.4 L82,434.5 L83,434.5 L84,434.6 L85,434.8 L86,434.9 L87,435 L88,435.2 L89,435.3 L90,435.4 L91,435.5 L92,435.5 L93,435.5 L94,435.4 L95,435.2 L96,435 L97,434.6 L98,434.3 L99,433.9 L100,433.5 L101,433.1 L102,432.7 L103,432.3 L104,431.9 L105,431.4 L106,430.9 L107,430.4 L108,429.9 L109,429.3 L110,428.8 L111,428.2 L112,427.7 L113,427.3 L114,426.8 L115,426.4 L116,426 L117,425.7 L118,425.3 L119,424.8 L120,424.4 L121,423.9 L122,423.3 L123,422.7 L124,421.9 L125,420.9 L126,419.9 L127,418.8 L128,417.5 L129,416.3 L130,415 L131,413.6 L132,412.2 L133,410.6 L134,408.9 L135,407.2 L136,405.4 L137,403.5 L138,401.5 L139,399.4 L140,397.2 L141,395 L142,392.6 L143,390.1 L144,387.6 L145,385 L146,382.3 L147,379.4 L148,376.4 L149,373.3 L150,370.4 L151,367.5 L152,364.9 L153,362.3 L154,359.3 L155,355.6 L156,351.4 L157,347.1 L158,343 L159,338.7 L160,334.6 L161,331 L162,327.9 L163,325.1 L164,322.5 L165,320.1 L166,318.1 L167,316.2 L168,314.5 L169,313 L170,311.5 L171,310.3 L172,309.2 L173,308.4 L174,307.6 L175,306.8 L176,306 L177,305.4 L178,304.9 L179,304.6 L180,304.5 L181,304.7 L182,305.1 L183,305.7 L184,306.1 L185,306.3 L186,305.8 L187,305.1 L188,305 L189,305.2 L190,305.4 L191,305.7 L192,306.1 L193,306.6 L194,307 L195,307.5 L196,308 L197,308.6 L198,309.2 L199,309.9 L200,310.6 L201,311.4 L202,312.1 L203,312.9 L204,313.8 L205,314.7 L206,315.7 L207,316.6 L208,317.5 L209,318.2 L210,318.8 L211,319.3 L212,319.8 L213,320.2 L214,320.6 L215,320.9 L216,321.2 L217,321.3 L218,321.3 L219,321.3 L220,321.3 L221,321.3 L222,321.3 L223,321.3 L224,321.3 L225,321.3 L226,321.2 L227,320.8 L228,320.3 L229,319.7 L230,318.9 L231,318.1 L232,317.3 L233,316.5 L234,315.7 L235,315 L236,314.4 L237,313.8 L238,313.1 L239,312.5 L240,311.9 L241,311.3 L242,310.7 L243,310 L244,309.4 L245,308.8 L246,308.2 L247,307.6 L248,307 L249,306.4 L250,305.8 L251,305.2 L252,304.6 L253,304 L254,303.3 L255,302.5 L256,301.7 L257,300.9 L258,300 L259,299 L260,298 L261,296.9 L262,295.7 L263,294.3 L264,292.9 L265,291.4 L266,289.6 L267,287.5 L268,284.9 L269,281.7 L270,275.9 L271,268.9 L272,261 L273,254.4 L274,248.7 L275,243.5 L276,238.8 L277,234.6 L278,230.7 L279,227 L280,223.7 L281,220.8 L282,218.2 L283,215.8 L284,213.6 L285,211.6 L286,209.8 L287,208.2 L288,206.8 L289,205.4 L290,204.1 L291,202.8 L292,201.7 L293,200.8 L294,200.2 L295,200 L296,200 L297,200.2 L298,200.4 L299,200.6 L300,200.9 L301,201.2 L302,201.5 L303,201.7 L304,201.9 L305,202 L306,202.1 L307,202.1 L308,202.2 L309,202.2 L310,202.2 L311,202.3 L312,202.3 L313,202.4 L314,202.4 L315,202.5 L316,202.7 L317,203.2 L318,203.8 L319,204.6 L320,205.4 L321,206.4 L322,207.3 L323,208.3 L324,209.2 L325,210 L326,210.8 L327,211.5 L328,212.3 L329,213.1 L330,213.8 L331,214.6 L332,215.3 L333,216.1 L334,216.8 L335,217.5 L336,218.2 L337,218.8 L338,219.5 L339,220.1 L340,220.7 L341,221.3 L342,222 L343,222.6 L344,223.2 L345,223.8 L346,224.4 L347,225.1 L348,225.8 L349,226.4 L350,227.1 L351,227.7 L352,228.4 L353,228.9 L354,229.5 L355,230 L356,230.5 L357,231 L358,231.6 L359,232 L360,232.3 L361,232.5 L362,232.4 L363,232.2 L364,231.7 L365,231.1 L366,230.4 L367,229.6 L368,228.9 L369,228.1 L370,227.5 L371,226.9 L372,226.3 L373,225.6 L374,225 L375,224.3 L376,223.7 L377,223.1 L378,222.5 L379,221.9 L380,221.3 L381,220.7 L382,220.1 L383,219.4 L384,218.7 L385,218.1 L386,217.5 L387,217 L388,216.6 L389,216.4 L390,216.3 L391,216.3 L392,216.3 L393,216.3 L394,216.3 L395,216.4 L396,216.4 L397,216.4 L398,216.4 L399,216.5 L400,216.5 L401,216.6 L402,216.6 L403,216.7 L404,216.7 L405,216.8 L406,216.9 L407,217.2 L408,217.5 L409,217.9 L410,218.4 L411,219 L412,219.5 L413,220.1 L414,220.7 L415,221.3 L416,221.9 L417,222.6 L418,223.3 L419,224 L420,224.8 L421,225.6 L422,226.4 L423,227.2 L424,228 L425,228.8 L426,229.6 L427,230.3 L428,231.1 L429,231.8 L430,232.6 L431,233.4 L432,234.1 L433,234.9 L434,235.6 L435,236.3 L436,237 L437,237.8 L438,238.7 L439,239.5 L440,240.4 L441,241.2 L442,242 L443,242.7 L444,243.3 L445,243.8 L446,244.2 L447,244.4 L448,244.5 L449,244.6 L450,244.7 L451,244.7 L452,244.7 L453,244.8 L454,244.8 L455,244.8 L456,244.9 L457,244.9 L458,244.9 L459,245 L460,245 L461,245 L462,245.1 L463,245.1 L464,245.1 L465,245.2 L466,245.2 L467,245.2 L468,245.3 L469,245.3 L470,245.3 L471,245.4 L472,245.5 L473,245.5 L474,245.7 L475,246 L476,246.3 L477,246.7 L478,247.1 L479,247.6 L480,248.5 L481,249.9 L482,251.6 L483,253.3 L484,254.9 L485,256.3 L486,257.5 L487,258.6 L488,259.7 L489,260.8 L490,261.8 L491,262.7 L492,263.4 L493,264.1 L494,264.8 L495,265.5 L496,266.2 L497,266.8 L498,267.4 L499,267.9 L500,268.3 L501,268.6 L502,268.8 L503,268.8 L504,268.5 L505,268 L506,267.3 L507,266.6 L508,265.9 L509,265.4 L510,265 L511,264.7 L512,264.5 L513,264.2 L514,264 L515,263.8 L516,263.6 L517,263.5 L518,263.4 L519,263.3 L520,263.3 L521,263.3 L522,263.4 L523,263.5 L524,263.6 L525,263.7 L526,263.8 L527,264 L528,264.2 L529,264.3 L530,264.5 L531,264.7 L532,265 L533,265.2 L534,265.6 L535,265.9 L536,266.3 L537,266.6 L538,266.9 L539,267.2 L540,267.5 L541,267.8 L542,268 L543,268.3 L544,268.5 L545,268.8 L546,269 L547,269.2 L548,269.4 L549,269.5 L550,269.5 L551,269.5 L552,269.4 L553,269.3 L554,269.2 L555,269 L556,268.8 L557,268.6 L558,268.4 L559,268.2 L560,268 L561,267.8 L562,267.5 L563,267.3 L564,267 L565,266.7 L566,266.4 L567,266 L568,265.7 L569,265.3 L570,265 L571,264.6 L572,264.2 L573,263.8 L574,263.4 L575,262.9 L576,262.5 L577,262.2 L578,261.8 L579,261.5 L580,261.2 L581,260.8 L582,260.5 L583,260.2 L584,260 L585,259.7 L586,259.6 L587,259.5 L588,259.5 L589,259.7 L590,259.9 L591,260.2 L592,260.6 L593,261.1 L594,261.6 L595,262 L596,262.5 L597,263.1 L598,263.8 L599,264.4 L600,265 L601,265.6 L602,266.3 L603,266.9 L604,267.6 L605,268.1 L606,268.5 L607,268.8 L608,268.8 L609,268.8 L610,268.8 L611,268.8 L612,268.8 L613,268.8 L614,268.8 L615,268.8 L616,268.7 L617,268.4 L618,267.9 L619,267.3 L620,266.7 L621,266 L622,265.3 L623,264.7 L624,264 L625,263.2 L626,262.3 L627,261.4 L628,260.5 L629,259.5 L630,258.6 L631,257.7 L632,256.7 L633,255.9 L634,255 L635,254.1 L636,253.2 L637,252.3 L638,251.4 L639,250.5 L640,249.6 L641,248.7 L642,247.9 L643,247.1 L644,246.3 L645,245.4 L646,244.6 L647,243.8 L648,243 L649,242.2 L650,241.5 L651,240.8 L652,240.3 L653,239.7 L654,239.2 L655,238.7 L656,238.2 L657,237.8 L658,237.3 L659,236.9 L660,236.6 L661,236.4 L662,236.3 L663,236.3 L664,236.3 L665,236.3 L666,236.3 L667,236.3 L668,236.3 L669,236.3 L670,236.3 L671,236.4 L672,236.8 L673,237.3 L674,237.9 L675,238.5 L676,238.9 L677,239.2 L678,239.3 L679,239.4 L680,239.4 L681,239.4 L682,239.4 L683,239.5 L684,239.5 L685,239.5 L686,239.5 L687,239.5 L688,239.5 L689,239.5 L690,239.4 L691,239.3 L692,239.2 L693,239.1 L694,238.9 L695,238.8 L696,238.6 L697,238.4 L698,238.3 L699,238.1 L700,238 L701,237.9 L702,237.7 L703,237.6 L704,237.5 L705,237.4 L706,237.2 L707,237.1 L708,236.9 L709,236.8 L710,236.7 L711,236.5 L712,236.4 L713,236.2 L714,236.1 L715,236 L716,235.8 L717,235.7 L718,235.6 L719,235.4 L720,235.3 L721,235.2 L722,235 L723,234.8 L724,234.6 L725,234.4 L726,234.2 L727,233.9 L728,233.6 L729,233.2 L730,232.6 L731,231.9 L732,231.1 L733,230.3 L734,229.4 L735,228.5 L736,227.6 L737,226.7 L738,225.9 L739,225 L740,224.1 L741,223.2 L742,222.3 L743,221.4 L744,220.4 L745,219.6 L746,218.7 L747,217.9 L748,217.1 L749,216.3 L750,215.5 L751,214.6 L752,213.9 L753,213.3 L754,212.8 L755,212.5 L756,212.3 L757,212.2 L758,212.1 L759,212 L760,212 L761,212.1 L762,212.3 L763,212.6 L764,213 L765,213.4 L766,213.8 L767,214.1 L768,214.4 L769,214.7 L770,215.1 L771,215.4 L772,215.7 L773,216 L774,216.3 L775,216.5 L776,216.7 L777,216.9 L778,217.1 L779,217.2 L780,217.4 L781,217.5 L782,217.6 L783,217.7 L784,217.8 L785,217.9 L786,218 L787,218 L788,218 L789,218 L790,217.9 L791,217.8 L792,217.7 L793,217.6 L794,217.5 L795,217.4 L796,217.2 L797,217.1 L798,216.9 L799,216.7 L800,216.5 L801,216.2 L802,215.8 L803,215.5 L804,215.1 L805,214.7 L806,214.3 L807,214 L808,213.6 L809,213.2 L810,212.9 L811,212.5 L812,212.1 L813,211.6 L814,211.2 L815,210.8 L816,210.4 L817,210 L818,209.6 L819,209.2 L820,208.8 L821,208.4 L822,208.1 L823,207.8 L824,207.5 L825,207.1 L826,206.8 L827,206.5 L828,206.2 L829,205.8 L830,205.5 L831,205.1 L832,204.7 L833,204.3 L834,203.8 L835,203.2 L836,202.6 L837,202 L838,201.4 L839,200.7 L840,200.1 L841,199.6 L842,199 L843,198.6 L844,198.1 L845,197.7 L846,197.3 L847,196.9 L848,196.6 L849,196.2 L850,195.9 L851,195.5 L852,195.2 L853,194.8 L854,194.5 L855,194.2 L856,194 L857,193.7 L858,193.5 L859,193.2 L860,193 L861,192.7 L862,192.4 L863,192.1 L864,191.7 L865,191.3 L866,190.8 L867,190.1 L868,189.4 L869,188.5 L870,187.7 L871,186.8 L872,186.1 L873,185.4 L874,184.9 L875,184.5 L876,184.3 L877,184.1 L878,183.9 L879,183.8 L880,183.6 L881,183.5 L882,183.4 L883,183.3 L884,183.1 L885,183 L886,182.9 L887,182.8 L888,182.6 L889,182.6 L890,182.5 L891,182.4 L892,182.3 L893,182.1 L894,182 L895,181.8 L896,181.6 L897,181.4 L898,181.1 L899,180.4 L900,179.5 L901,178.2 L902,176.8 L903,175.4 L904,173.9 L905,172.5 L906,171.1 L907,169.7 L908,168.1 L909,166.5 L910,165 L911,163.5 L912,162 L913,160.6 L914,159.3 L915,158.1 L916,156.9 L917,155.6 L918,154.3 L919,152.9 L920,151.5 L921,150 L922,148.6 L923,147.3 L924,146 L925,145 L926,144.1 L927,143.1 L928,142.2 L929,141.4 L930,140.7 L931,140.1 L932,139.7 L933,139.4 L934,139.2 L935,139 L936,138.9 L937,138.8 L938,138.7 L939,138.6 L940,138.5 L941,138.3 L942,138.1 L943,137.8 L944,137.4 L945,136.8 L946,136.1 L947,135.3 L948,134.4 L949,133.4 L950,132.5 L951,131.4 L952,130.2 L953,128.9 L954,127.4 L955,125.9 L956,124.5 L957,123.1 L958,121.9 L959,120.5 L960,119.2 L961,117.8 L962,116.5 L963,115.4 L964,114.5 L965,113.8 L966,113.3 L967,112.9 L968,112.6 L969,112.3 L970,112 L971,111.8 L972,111.5 L973,111.1 L974,110.8 L975,110.6 L976,110.3 L977,110 L978,109.6 L979,109.3 L980,108.8 L981,108.2 L982,107.4 L983,106.4 L984,105.3 L985,104.2 L986,103 L987,101.9 L988,100.8 L989,99.6 L990,98.5 L991,97.4 L992,96.2 L993,95 L994,93.7 L995,92.5 L996,91.3 L997,90 L998,88.8 L999,87.5 L1000,86.2 L1001,84.8 L1002,83.3 L1003,81.7 L1004,79.9 L1005,77.9 L1006,75.9 L1007,73.8 L1008,71.6 L1009,69.5 L1010,67.5 L1011,65.5 L1012,63.4 L1013,61.3 L1014,59.2 L1015,57.3 L1016,55.5 L1017,53.9 L1018,52.2 L1019,50.7 L1020,49.2 L1021,47.9 L1022,46.8 L1023,45.8 L1024,44.9 L1025,44 L1026,43.2 L1027,42.5 L1028,42.1 L1029,42 L1030,42.1 L1031,42.2 L1032,42.4 L1033,42.7 L1034,43.4 L1035,44.5 L1036,45.7 L1037,46.9 L1038,48.1 L1039,49.2 L1040,50.5 L1041,51.8 L1042,53.1 L1043,54.3 L1044,55.4 L1045,56.3 L1046,57.1 L1047,57.8 L1048,58.5 L1049,59.1 L1050,59.7 L1051,60.3 L1052,61 L1053,61.6 L1054,62.3 L1055,63 L1056,63.7 L1057,64.4 L1058,65.1 L1059,65.7 L1060,66.3 L1061,66.8 L1062,67.4 L1063,67.9 L1064,68.3 L1065,68.8 L1066,69.3 L1067,69.8 L1068,70.3 L1069,70.8 L1070,71.4 L1071,72 L1072,72.6 L1073,73.1 L1074,73.5 L1075,73.8 L1076,74 L1077,74.2 L1078,74.4 L1079,74.5 L1080,74.5 L1081,74.4 L1082,74.2 L1083,73.9 L1084,73.6 L1085,73.2 L1086,72.9 L1087,72.6 L1088,72.4 L1089,72.2 L1090,72 L1091,71.8 L1092,71.6 L1093,71.4 L1094,71.3 L1095,71.3 L1096,71.5 L1097,71.9 L1098,72.5 L1099,73.2 L1100,73.8 L1101,74.4 L1102,75 L1103,75.7 L1104,76.3 L1105,77 L1106,77.7 L1107,78.3 L1108,79" stroke="#2424ae" stroke-width="1.3" fill="none" stroke-linejoin="round"/>
<path d="M1037,91.5H1373.5" stroke="#1010e6" stroke-width="2.2"/>
<path d="M1189.8,137.5H1373.5" stroke="#9b0cf8" stroke-width="1.7" stroke-dasharray="6.8 6.5"/>
<path d="M478.6,292.5H1373.5" stroke="#0000ff" stroke-width="1.35" stroke-dasharray="2.3 1.3"/>
<path d="M479.7,262V292.5" stroke="#7f9a8d" stroke-width="1"/>
<path d="M277,237H480 M378.5,182V292 M1013,81.5H1218 M1115.5,26V137" stroke="#8c8c8c" stroke-width="1" stroke-dasharray="2 3" fill="none" stroke-opacity="0.8"/>
<path d="M375.5,288.5L378.5,292L381.5,288.5 M1214,78.5L1217.5,81.5L1214,84.5" stroke="#8c8c8c" stroke-width="0.8" fill="none" stroke-dasharray="1.5 1.5"/>
<path d="M35.8,423.5H133.3 M109.5,426V499.5 M285,238.5H382.5 M485.5,253.5H632 M479.5,278.5H625.5" stroke="#111" stroke-width="1.2" fill="none"/>
<path d="M917,147.5V181.5" stroke="#111" stroke-width="1.8" fill="none"/>
<ellipse cx="479.4" cy="404.8" rx="8.8" ry="20.3" fill="#00ff00" fill-opacity="0.3" stroke="#e00000" stroke-width="1.6"/>
<path d="M464.6,583.5C463.8,578.5 470,576.3 476,576.6C483,577 488,580.5 489.6,586C490.4,590 484.5,592.6 478,592.6C471,592.6 465.3,589.2 464.6,583.5Z" fill="#90ee90" stroke="#000" stroke-width="1.6"/>
<path d="M-1.7,542.5H1368 M-1.7,584.5H1368" stroke="#ff0000" stroke-width="1.6" stroke-dasharray="7.3 5.917" fill="none"/>
<path d="M0,550.5 L0.5,547.8 L1,547.2 L1.5,543.3 L2,544.7 L2.5,540 L3,539.7 L3.5,539 L4,534.6 L4.5,529.7 L5,526.9 L5.5,528.1 L6,537.2 L6.5,534.9 L7,537 L7.5,542.4 L8,539.4 L8.5,537.9 L9,535.6 L9.5,530.9 L10,526 L10.5,527.6 L11,530.8 L11.5,536 L12,539.2 L12.5,542.3 L13,539.9 L13.5,542.1 L14,544.4 L14.5,546.7 L15,547.9 L15.5,549.9 L16,550.6 L16.5,551.7 L17,547 L17.5,545.5 L18,547.2 L18.5,548.5 L19,548.4 L19.5,552.4 L20,549.5 L20.5,547.8 L21,542.6 L21.5,543.7 L22,538.2 L22.5,534.8 L23,534.7 L23.5,531.3 L24,531.1 L24.5,528.5 L25,530.6 L25.5,523.9 L26,520.9 L26.5,524 L27,527.7 L27.5,532.1 L28,534.7 L28.5,540.3 L29,542.3 L29.5,544.9 L30,541.4 L30.5,543.9 L31,544.5 L31.5,545.3 L32,541.4 L32.5,542.3 L33,537.5 L33.5,538.9 L34,537.7 L34.5,531.7 L35,532.7 L35.5,528.1 L36,530.5 L36.5,526.5 L37,527.3 L37.5,526.4 L38,522.8 L38.5,520.4 L39,523.3 L39.5,521.7 L40,523.4 L40.5,526.7 L41,536.2 L41.5,551.1 L42,584.6 L42.5,578.3 L43,572.8 L43.5,569 L44,564.4 L44.5,563.4 L45,567.3 L45.5,564.9 L46,562 L46.5,564 L47,561.9 L47.5,562.7 L48,566.1 L48.5,568.2 L49,570.6 L49.5,570.9 L50,570.6 L50.5,568.3 L51,566 L51.5,563.4 L52,565.9 L52.5,561.2 L53,561.8 L53.5,557.5 L54,557.5 L54.5,548.9 L55,550.6 L55.5,548.7 L56,551.3 L56.5,551.1 L57,546 L57.5,544.3 L58,547.3 L58.5,547.9 L59,548.5 L59.5,551.1 L60,548.5 L60.5,553.9 L61,554.3 L61.5,547.6 L62,547.7 L62.5,548.5 L63,552.4 L63.5,548.5 L64,543.5 L64.5,546.3 L65,544.6 L65.5,546.7 L66,551.4 L66.5,552.3 L67,555.1 L67.5,560.1 L68,561.8 L68.5,564.7 L69,564.4 L69.5,569.6 L70,566.7 L70.5,564.6 L71,567.2 L71.5,566.2 L72,566.5 L72.5,566 L73,568.1 L73.5,568.7 L74,573.2 L74.5,578.3 L75,577.6 L75.5,586.2 L76,591.5 L76.5,587.6 L77,585.5 L77.5,578.7 L78,575.7 L78.5,570.4 L79,569.2 L79.5,567.2 L80,569.9 L80.5,569.4 L81,569.8 L81.5,568 L82,571.5 L82.5,576.4 L83,572.4 L83.5,570.5 L84,567.1 L84.5,566.4 L85,564.5 L85.5,561.6 L86,561 L86.5,559.6 L87,558 L87.5,553.9 L88,551.4 L88.5,550.2 L89,547.5 L89.5,543 L90,537.5 L90.5,537.3 L91,536.5 L91.5,538.3 L92,539 L92.5,545.2 L93,542.4 L93.5,544.3 L94,541 L94.5,537.5 L95,536.2 L95.5,535.1 L96,534.2 L96.5,525.1 L97,528.5 L97.5,532 L98,533.5 L98.5,533.7 L99,532.4 L99.5,533.8 L100,536.2 L100.5,534.9 L101,539.3 L101.5,542.1 L102,543.5 L102.5,549.2 L103,547 L103.5,546.5 L104,549 L104.5,549.6 L105,554.5 L105.5,551.3 L106,551.7 L106.5,555.5 L107,558.1 L107.5,555.8 L108,560.2 L108.5,556.1 L109,560.8 L109.5,559.2 L110,560 L110.5,565 L111,563.7 L111.5,560.1 L112,556.6 L112.5,555.6 L113,548.9 L113.5,542 L114,539.7 L114.5,535.4 L115,533.6 L115.5,531.9 L116,532.3 L116.5,530.5 L117,532.8 L117.5,535.6 L118,538 L118.5,533.3 L119,533.8 L119.5,529.8 L120,530.4 L120.5,528.4 L121,525.7 L121.5,523.1 L122,521.2 L122.5,518.8 L123,522.5 L123.5,521.2 L124,520.7 L124.5,520.7 L125,521.1 L125.5,525.3 L126,524 L126.5,526.3 L127,523.9 L127.5,526.5 L128,524.2 L128.5,522.3 L129,523.7 L129.5,520.9 L130,518.5 L130.5,519.8 L131,520.5 L131.5,521.6 L132,522.1 L132.5,523.3 L133,524.8 L133.5,526.7 L134,524.8 L134.5,528.4 L135,530.2 L135.5,532.3 L136,530.8 L136.5,530.1 L137,531.8 L137.5,528.7 L138,529 L138.5,526 L139,523.2 L139.5,520.8 L140,520.7 L140.5,520.6 L141,518.7 L141.5,522.5 L142,520.8 L142.5,517.9 L143,523.2 L143.5,524.8 L144,523.3 L144.5,523.2 L145,525.8 L145.5,532.9 L146,534.6 L146.5,538.9 L147,533.5 L147.5,531.5 L148,526.5 L148.5,523.5 L149,524 L149.5,528.9 L150,529.1 L150.5,536.4 L151,535.2 L151.5,537 L152,535.5 L152.5,532 L153,530.7 L153.5,523.8 L154,522.6 L154.5,522.4 L155,518.7 L155.5,515.9 L156,517 L156.5,517.2 L157,514.9 L157.5,518.1 L158,515.5 L158.5,519.1 L159,531.7 L159.5,541.8 L160,567.3 L160.5,569.1 L161,569 L161.5,571.3 L162,572 L162.5,574.5 L163,568.6 L163.5,567.1 L164,565.3 L164.5,563.3 L165,556.6 L165.5,554.6 L166,555.1 L166.5,556 L167,556.7 L167.5,558 L168,561.3 L168.5,560.3 L169,560.1 L169.5,565.3 L170,566.4 L170.5,566.3 L171,566.2 L171.5,570.5 L172,567.8 L172.5,565.6 L173,568.3 L173.5,563.9 L174,564.4 L174.5,565.8 L175,564.2 L175.5,563.1 L176,564.2 L176.5,561.3 L177,562 L177.5,563.7 L178,560.7 L178.5,564.1 L179,561.9 L179.5,560.8 L180,559.2 L180.5,560.1 L181,558 L181.5,558 L182,559.5 L182.5,559.5 L183,553.9 L183.5,556.7 L184,554.8 L184.5,556.8 L185,557.9 L185.5,559.5 L186,559.2 L186.5,563 L187,567.4 L187.5,567.9 L188,571.1 L188.5,575.7 L189,579.7 L189.5,581.7 L190,584.2 L190.5,582.5 L191,579 L191.5,577.8 L192,574.9 L192.5,572.4 L193,568 L193.5,567.2 L194,570.6 L194.5,572.2 L195,571.9 L195.5,572.8 L196,573.3 L196.5,576.1 L197,576.3 L197.5,578 L198,582.9 L198.5,580.5 L199,582.5 L199.5,585.1 L200,584.2 L200.5,586.1 L201,591.9 L201.5,593.9 L202,594.3 L202.5,598.2 L203,589.2 L203.5,587.9 L204,580.2 L204.5,572.9 L205,569.9 L205.5,567.7 L206,565.1 L206.5,562.3 L207,556.8 L207.5,553.1 L208,557.7 L208.5,562 L209,561.1 L209.5,563.3 L210,561.8 L210.5,562.3 L211,566 L211.5,567.9 L212,566.8 L212.5,566 L213,560.6 L213.5,558.6 L214,558.4 L214.5,553.7 L215,552 L215.5,553.4 L216,554.3 L216.5,556.7 L217,557.1 L217.5,556.1 L218,552.6 L218.5,557.7 L219,560.7 L219.5,561.9 L220,563.1 L220.5,564.6 L221,567.6 L221.5,563.6 L222,559.5 L222.5,553.7 L223,550.5 L223.5,545.7 L224,542.4 L224.5,538.1 L225,538.8 L225.5,539.9 L226,531.4 L226.5,536.6 L227,537.2 L227.5,536.8 L228,539.2 L228.5,539.6 L229,539.2 L229.5,540 L230,536.7 L230.5,534.5 L231,531.3 L231.5,529 L232,525.5 L232.5,532.3 L233,537.4 L233.5,546.6 L234,548.9 L234.5,551.7 L235,554.7 L235.5,556.2 L236,554.5 L236.5,557.8 L237,550.8 L237.5,553.6 L238,546.2 L238.5,545.7 L239,547.8 L239.5,549.3 L240,548.5 L240.5,550.6 L241,556 L241.5,554.7 L242,558.7 L242.5,561.4 L243,563 L243.5,561.9 L244,560 L244.5,556.9 L245,560.5 L245.5,557.5 L246,554.1 L246.5,564.5 L247,590.6 L247.5,578.2 L248,574.4 L248.5,565.7 L249,557.4 L249.5,560.5 L250,556.7 L250.5,556.4 L251,552.8 L251.5,550.8 L252,552.6 L252.5,549.5 L253,546.3 L253.5,539.5 L254,539.8 L254.5,535.1 L255,533.6 L255.5,529.1 L256,528.6 L256.5,527.3 L257,521.6 L257.5,521.5 L258,524.5 L258.5,532.5 L259,536.6 L259.5,540.3 L260,550.2 L260.5,545.7 L261,540.5 L261.5,539.6 L262,536.8 L262.5,536.4 L263,530.4 L263.5,532.5 L264,527.6 L264.5,525.5 L265,523.3 L265.5,522.5 L266,525.6 L266.5,523.9 L267,522.2 L267.5,524.1 L268,526.3 L268.5,529.3 L269,526.5 L269.5,523.6 L270,525.6 L270.5,518.5 L271,535.1 L271.5,539.8 L272,540.4 L272.5,536.3 L273,537.6 L273.5,535.2 L274,532.8 L274.5,529 L275,527.4 L275.5,526.1 L276,525.9 L276.5,528.3 L277,534.8 L277.5,542.8 L278,544.9 L278.5,546.3 L279,550.5 L279.5,553.5 L280,552.9 L280.5,559.5 L281,560.1 L281.5,563.6 L282,567.6 L282.5,564.5 L283,568.6 L283.5,572.5 L284,576 L284.5,578.1 L285,580.8 L285.5,574.2 L286,571.6 L286.5,572.3 L287,566.3 L287.5,565.7 L288,565.9 L288.5,566.3 L289,566.8 L289.5,565.1 L290,561.9 L290.5,559.8 L291,561 L291.5,561 L292,559.6 L292.5,557.9 L293,556.3 L293.5,552.1 L294,552.3 L294.5,553 L295,548.8 L295.5,552.3 L296,554.9 L296.5,559.9 L297,558.1 L297.5,558.1 L298,556.3 L298.5,556.2 L299,555.5 L299.5,555.3 L300,560.2 L300.5,561.1 L301,562.4 L301.5,559.7 L302,558.4 L302.5,558.9 L303,565.8 L303.5,567.8 L304,564.4 L304.5,566.7 L305,568.2 L305.5,567.3 L306,568.2 L306.5,570.8 L307,569.7 L307.5,568.5 L308,565.9 L308.5,563.4 L309,564.6 L309.5,566.8 L310,573.2 L310.5,574.8 L311,578 L311.5,579.5 L312,580 L312.5,582.6 L313,584.3 L313.5,585.3 L314,588 L314.5,589.2 L315,585.1 L315.5,581.6 L316,577.9 L316.5,575.4 L317,579.6 L317.5,581.7 L318,580.5 L318.5,582.4 L319,580.7 L319.5,582.9 L320,580.3 L320.5,579 L321,580 L321.5,569.2 L322,564.9 L322.5,558.5 L323,558.2 L323.5,559 L324,561.9 L324.5,559.7 L325,559.3 L325.5,564.1 L326,564.9 L326.5,564.6 L327,565.5 L327.5,564.9 L328,564.4 L328.5,565 L329,566.6 L329.5,566.5 L330,565 L330.5,567.8 L331,570.2 L331.5,571.2 L332,574.1 L332.5,575.4 L333,578.1 L333.5,578.4 L334,580.5 L334.5,586 L335,591.5 L335.5,588.1 L336,585.3 L336.5,587.6 L337,584.2 L337.5,583.8 L338,581.5 L338.5,581.4 L339,582.9 L339.5,583.3 L340,577.2 L340.5,578.3 L341,577.1 L341.5,586.1 L342,593.1 L342.5,586.4 L343,579.4 L343.5,575.3 L344,567 L344.5,563.4 L345,559.8 L345.5,561.5 L346,561.9 L346.5,560.6 L347,561.3 L347.5,561.3 L348,568.5 L348.5,571.5 L349,571.7 L349.5,573.4 L350,576.2 L350.5,574 L351,575 L351.5,574.8 L352,574.2 L352.5,572.9 L353,567.2 L353.5,569.1 L354,567.2 L354.5,565.9 L355,572.5 L355.5,569.5 L356,568.8 L356.5,568.1 L357,566.7 L357.5,570.5 L358,565.2 L358.5,567.5 L359,566.1 L359.5,568.8 L360,568.8 L360.5,567.1 L361,563.3 L361.5,561.7 L362,554.2 L362.5,545.1 L363,541.3 L363.5,540.4 L364,536.1 L364.5,535.2 L365,533.9 L365.5,532.3 L366,530 L366.5,530.2 L367,528.6 L367.5,527.1 L368,530.3 L368.5,532.2 L369,534 L369.5,536.5 L370,541 L370.5,541.1 L371,541.1 L371.5,543.6 L372,544.9 L372.5,544 L373,552 L373.5,565.1 L374,567.4 L374.5,568.1 L375,566.3 L375.5,563.4 L376,561.1 L376.5,563.9 L377,561.4 L377.5,561.5 L378,561.1 L378.5,562.7 L379,562.2 L379.5,564.4 L380,563.1 L380.5,562.7 L381,560.3 L381.5,557.2 L382,552.7 L382.5,552.7 L383,556.4 L383.5,554.6 L384,553.6 L384.5,556.8 L385,557.2 L385.5,558.8 L386,561.2 L386.5,558.2 L387,560.5 L387.5,557.6 L388,555.9 L388.5,556.6 L389,560 L389.5,556.9 L390,557.5 L390.5,556.5 L391,559.8 L391.5,561.2 L392,563.9 L392.5,563.9 L393,564.3 L393.5,561.6 L394,566 L394.5,569.9 L395,571.4 L395.5,573.2 L396,575.8 L396.5,579.4 L397,579.9 L397.5,583.9 L398,581.7 L398.5,578.5 L399,573 L399.5,567.1 L400,567.2 L400.5,569.6 L401,572.6 L401.5,571.6 L402,569.1 L402.5,571.1 L403,576.2 L403.5,580.5 L404,584.3 L404.5,588.6 L405,589.2 L405.5,589.3 L406,589.6 L406.5,588.9 L407,588.4 L407.5,587.5 L408,580.7 L408.5,578.2 L409,572.9 L409.5,572.3 L410,572.8 L410.5,570.9 L411,577 L411.5,577.4 L412,579.5 L412.5,583.1 L413,583 L413.5,586.1 L414,579.2 L414.5,582.1 L415,580.3 L415.5,577.1 L416,578.1 L416.5,576.4 L417,575 L417.5,572.4 L418,578.7 L418.5,572.8 L419,576 L419.5,580.2 L420,580.2 L420.5,581.4 L421,584.9 L421.5,587.9 L422,593 L422.5,596.6 L423,587.8 L423.5,580 L424,578 L424.5,568.4 L425,570.6 L425.5,579.7 L426,578.9 L426.5,579.6 L427,582.4 L427.5,588.5 L428,584.8 L428.5,583.3 L429,577.4 L429.5,577.2 L430,577.1 L430.5,582.8 L431,590.7 L431.5,590.1 L432,578.9 L432.5,574.5 L433,571.4 L433.5,568.5 L434,566.5 L434.5,566 L435,560.1 L435.5,555.7 L436,558.6 L436.5,556.7 L437,555 L437.5,558.1 L438,561.1 L438.5,561.6 L439,563.4 L439.5,569.9 L440,569.8 L440.5,574.1 L441,577.1 L441.5,577.1 L442,581.5 L442.5,575.6 L443,580.7 L443.5,575.4 L444,574.1 L444.5,573.5 L445,573.9 L445.5,572.3 L446,568.7 L446.5,566 L447,566.2 L447.5,565.3 L448,559.4 L448.5,559.1 L449,554.1 L449.5,546.8 L450,537.5 L450.5,542.7 L451,552 L451.5,551.1 L452,555.6 L452.5,560.3 L453,559.2 L453.5,566.4 L454,569 L454.5,563.8 L455,563.3 L455.5,562.7 L456,561.3 L456.5,560.5 L457,561.6 L457.5,563.8 L458,562 L458.5,561.5 L459,561.5 L459.5,560 L460,562.1 L460.5,560.8 L461,559.5 L461.5,562.9 L462,560.2 L462.5,562.7 L463,564.6 L463.5,566.6 L464,565.8 L464.5,568.1 L465,571.7 L465.5,575.7 L466,577 L466.5,576.8 L467,574 L467.5,573.7 L468,567.3 L468.5,570.5 L469,572.3 L469.5,571.8 L470,570.1 L470.5,574.2 L471,572.1 L471.5,575.8 L472,574.8 L472.5,574.2 L473,575.6 L473.5,575.9 L474,576.9 L474.5,577.9 L475,576.5 L475.5,575.3 L476,575.4 L476.5,578 L477,581.3 L477.5,586 L478,590.1 L478.5,593.4 L479,594.3 L479.5,590 L480,588.5 L480.5,584.5 L481,581.8 L481.5,577 L482,571.5 L482.5,569.6 L483,568.1 L483.5,566.5 L484,563.4 L484.5,563.5 L485,556.5 L485.5,556.7 L486,561.3 L486.5,563.6 L487,567.4 L487.5,571.5 L488,575.6 L488.5,569.3 L489,567.3 L489.5,568.3 L490,565.8 L490.5,566 L491,569.7 L491.5,568.9 L492,569.6 L492.5,572.6 L493,569 L493.5,571.9 L494,570.9 L494.5,568.1 L495,562.5 L495.5,559.3 L496,556.6 L496.5,557.2 L497,556.3 L497.5,559.2 L498,555.9 L498.5,560.3 L499,563.2 L499.5,561.8 L500,563.3 L500.5,561.2 L501,559.2 L501.5,558.4 L502,554.4 L502.5,550.5 L503,548.6 L503.5,547.9 L504,547.6 L504.5,545.5 L505,542.3 L505.5,541.9 L506,540.8 L506.5,540.1 L507,540.5 L507.5,540.3 L508,542.6 L508.5,542.6 L509,546.8 L509.5,547.8 L510,553.6 L510.5,557.3 L511,562.6 L511.5,565.4 L512,565.8 L512.5,570.1 L513,569.5 L513.5,569.8 L514,569.1 L514.5,570.4 L515,571.8 L515.5,572.8 L516,577.5 L516.5,573.7 L517,571.6 L517.5,569.7 L518,567.9 L518.5,566.3 L519,565.5 L519.5,563.9 L520,564.2 L520.5,566.7 L521,566.8 L521.5,570.1 L522,573.4 L522.5,575.1 L523,577.2 L523.5,579.6 L524,583.2 L524.5,585.2 L525,586 L525.5,584.2 L526,584.4 L526.5,579 L527,578.6 L527.5,575.4 L528,580.7 L528.5,576 L529,572.3 L529.5,569.8 L530,565.3 L530.5,565.3 L531,569.4 L531.5,567.2 L532,564.7 L532.5,563.9 L533,563.1 L533.5,560.5 L534,561 L534.5,561.5 L535,557.7 L535.5,558.1 L536,553.3 L536.5,553.1 L537,557.2 L537.5,558.9 L538,562.1 L538.5,558.2 L539,559.8 L539.5,560.7 L540,564.3 L540.5,564.9 L541,565.5 L541.5,566.5 L542,564.1 L542.5,565.5 L543,563.1 L543.5,564.5 L544,562.9 L544.5,562 L545,558.7 L545.5,558.6 L546,559.5 L546.5,564.5 L547,562.4 L547.5,569.1 L548,570.3 L548.5,570.5 L549,575.3 L549.5,575.7 L550,579.8 L550.5,577.3 L551,577.4 L551.5,575.3 L552,573 L552.5,568.1 L553,567.8 L553.5,563.7 L554,561 L554.5,559 L555,556.3 L555.5,549.3 L556,547.8 L556.5,540.6 L557,539.2 L557.5,543 L558,547.2 L558.5,549.1 L559,553.4 L559.5,550.9 L560,550.8 L560.5,547 L561,544.7 L561.5,544.6 L562,545.8 L562.5,541.3 L563,540.5 L563.5,539.7 L564,539.2 L564.5,538.1 L565,544 L565.5,547.5 L566,549.6 L566.5,550.6 L567,548.1 L567.5,542.1 L568,537.7 L568.5,536.6 L569,536.6 L569.5,526.4 L570,537.8 L570.5,551.2 L571,551.2 L571.5,555.4 L572,556.9 L572.5,556 L573,555.5 L573.5,556.2 L574,553.4 L574.5,554.5 L575,553.8 L575.5,551.7 L576,551.6 L576.5,549.6 L577,549.3 L577.5,546.3 L578,552.5 L578.5,553.2 L579,557.7 L579.5,562.6 L580,565 L580.5,563.4 L581,564 L581.5,564.7 L582,566.5 L582.5,565.9 L583,564.8 L583.5,569.1 L584,571.6 L584.5,577 L585,581 L585.5,578.3 L586,579.7 L586.5,585.1 L587,589.7 L587.5,591.2 L588,593.5 L588.5,588 L589,592.3 L589.5,587.2 L590,586.5 L590.5,584.5 L591,580.2 L591.5,580.6 L592,580.5 L592.5,576.5 L593,575.8 L593.5,576.3 L594,576.8 L594.5,576.5 L595,573.1 L595.5,571.5 L596,571.5 L596.5,566.3 L597,564.9 L597.5,564.9 L598,562.4 L598.5,559.6 L599,562.1 L599.5,563.7 L600,566.1 L600.5,566.1 L601,566.6 L601.5,566.7 L602,569.3 L602.5,567.2 L603,568.8 L603.5,572.6 L604,573.8 L604.5,571.2 L605,567.3 L605.5,568.1 L606,565.1 L606.5,564.4 L607,562 L607.5,565.6 L608,565.6 L608.5,560.7 L609,557.8 L609.5,558.1 L610,558.8 L610.5,559.2 L611,556.1 L611.5,552 L612,552.5 L612.5,551.8 L613,547.3 L613.5,547.2 L614,546.6 L614.5,544.9 L615,546 L615.5,547.5 L616,547.5 L616.5,543.6 L617,542.3 L617.5,543.8 L618,538.7 L618.5,534.3 L619,537.5 L619.5,531.9 L620,534.4 L620.5,535.9 L621,538.8 L621.5,541.7 L622,536.3 L622.5,532.1 L623,529.3 L623.5,525.4 L624,524.1 L624.5,527.1 L625,521.4 L625.5,523.2 L626,525.5 L626.5,524.2 L627,530.2 L627.5,536.5 L628,539.4 L628.5,541.9 L629,543.9 L629.5,543.1 L630,546.9 L630.5,553.9 L631,560.6 L631.5,567.9 L632,566.4 L632.5,565.7 L633,561.7 L633.5,560 L634,560.1 L634.5,562.1 L635,563.1 L635.5,566.4 L636,568.1 L636.5,566.3 L637,565.5 L637.5,569.1 L638,563.9 L638.5,561.8 L639,556.4 L639.5,553.3 L640,549.9 L640.5,548 L641,548.7 L641.5,546.1 L642,545.8 L642.5,546 L643,547.6 L643.5,539.6 L644,539.1 L644.5,538.8 L645,535.6 L645.5,535.4 L646,535.6 L646.5,537.6 L647,538.1 L647.5,540 L648,540.4 L648.5,539.5 L649,541.6 L649.5,540.5 L650,540.6 L650.5,542.1 L651,548.8 L651.5,549.8 L652,551.1 L652.5,556.3 L653,559 L653.5,563.9 L654,564.8 L654.5,564.6 L655,563.5 L655.5,558.3 L656,562.4 L656.5,561.8 L657,555.7 L657.5,556.5 L658,553.4 L658.5,551.7 L659,554.6 L659.5,558.4 L660,561.9 L660.5,567.3 L661,569.8 L661.5,571 L662,574.3 L662.5,583 L663,585.2 L663.5,581.4 L664,576.8 L664.5,571.3 L665,569.9 L665.5,569.4 L666,568.4 L666.5,570.1 L667,568.5 L667.5,570.9 L668,573.4 L668.5,570.5 L669,569.8 L669.5,572.6 L670,568.5 L670.5,568.9 L671,570 L671.5,569.9 L672,573.3 L672.5,575.5 L673,574 L673.5,572.4 L674,572.6 L674.5,572 L675,571.1 L675.5,566.3 L676,563.3 L676.5,563.3 L677,559.7 L677.5,558.5 L678,554.2 L678.5,552.5 L679,549.8 L679.5,549 L680,548.6 L680.5,546.1 L681,548.8 L681.5,542.7 L682,544 L682.5,544.2 L683,548.7 L683.5,550.2 L684,553.1 L684.5,554.5 L685,554 L685.5,553.8 L686,555.3 L686.5,559.4 L687,565.6 L687.5,572 L688,571 L688.5,570.6 L689,567.2 L689.5,565.2 L690,563.5 L690.5,564.8 L691,564.6 L691.5,563.9 L692,566.6 L692.5,565.4 L693,564.5 L693.5,566.4 L694,562.7 L694.5,561.3 L695,564.9 L695.5,562.8 L696,558.9 L696.5,561.8 L697,563.3 L697.5,559.9 L698,558.7 L698.5,561 L699,563 L699.5,562.5 L700,562.2 L700.5,564 L701,564.3 L701.5,560.2 L702,559.3 L702.5,560.1 L703,559.5 L703.5,560.5 L704,560.5 L704.5,561.6 L705,558.2 L705.5,557 L706,551 L706.5,549.3 L707,550.8 L707.5,545.8 L708,547.1 L708.5,544.5 L709,541.2 L709.5,538 L710,533.4 L710.5,531.8 L711,531.6 L711.5,531 L712,533.2 L712.5,529.2 L713,537.9 L713.5,544.8 L714,552 L714.5,552.8 L715,555.2 L715.5,557.6 L716,556.1 L716.5,553.2 L717,554.2 L717.5,554.8 L718,554.8 L718.5,553.3 L719,555.6 L719.5,554 L720,555.8 L720.5,556.3 L721,552.7 L721.5,558.9 L722,566.4 L722.5,566.7 L723,568.4 L723.5,573.9 L724,571.2 L724.5,570.2 L725,568.8 L725.5,565.4 L726,563.6 L726.5,557.3 L727,549.5 L727.5,543.9 L728,534.1 L728.5,532.2 L729,530.2 L729.5,530.5 L730,527.9 L730.5,525.1 L731,525 L731.5,520.9 L732,520.6 L732.5,524.9 L733,529.8 L733.5,527.7 L734,528 L734.5,523.8 L735,524.2 L735.5,523.7 L736,523.4 L736.5,520.1 L737,524.8 L737.5,523.6 L738,529.2 L738.5,528.1 L739,538.7 L739.5,555 L740,571.6 L740.5,566.9 L741,561.8 L741.5,563.6 L742,560.7 L742.5,558.1 L743,557.9 L743.5,556.8 L744,559 L744.5,558.3 L745,558.5 L745.5,558.5 L746,555.8 L746.5,557.6 L747,560.7 L747.5,564.1 L748,563.4 L748.5,563.5 L749,562.2 L749.5,561.7 L750,561.7 L750.5,561.6 L751,558.2 L751.5,558.1 L752,557.9 L752.5,556.6 L753,557.1 L753.5,559.4 L754,558.2 L754.5,560.9 L755,559.5 L755.5,561.7 L756,560.5 L756.5,564.6 L757,565.4 L757.5,567 L758,563.9 L758.5,562.2 L759,561.8 L759.5,563.9 L760,574.3 L760.5,582.2 L761,589.8 L761.5,588.5 L762,588.2 L762.5,585.4 L763,580 L763.5,572.4 L764,572.2 L764.5,573.7 L765,577 L765.5,575.5 L766,574.3 L766.5,576.6 L767,577.1 L767.5,575 L768,575.1 L768.5,576.5 L769,573.7 L769.5,574.9 L770,574.1 L770.5,573 L771,575.5 L771.5,577.1 L772,578.3 L772.5,576.2 L773,575.6 L773.5,572.5 L774,568.4 L774.5,568.1 L775,569.3 L775.5,564.9 L776,565.8 L776.5,562.8 L777,557 L777.5,556.4 L778,553.4 L778.5,552.8 L779,548 L779.5,546.8 L780,543.2 L780.5,545.6 L781,550.1 L781.5,554.7 L782,554.7 L782.5,556.6 L783,556 L783.5,558 L784,561.1 L784.5,560.1 L785,562.3 L785.5,563 L786,566.6 L786.5,568.7 L787,566.9 L787.5,564.1 L788,560.9 L788.5,557.7 L789,558.8 L789.5,561.3 L790,558.3 L790.5,557 L791,555.2 L791.5,552.7 L792,555.1 L792.5,554.7 L793,549.3 L793.5,546.7 L794,549.4 L794.5,545.2 L795,544.2 L795.5,541 L796,541.2 L796.5,539.4 L797,540 L797.5,539.8 L798,545.7 L798.5,549.5 L799,547.8 L799.5,549.7 L800,551.6 L800.5,552.8 L801,554.5 L801.5,552.9 L802,550.7 L802.5,543.7 L803,539.4 L803.5,538.1 L804,532.6 L804.5,535.9 L805,532.9 L805.5,531.9 L806,532.9 L806.5,530 L807,528.5 L807.5,540.9 L808,556.2 L808.5,556.2 L809,552.9 L809.5,554 L810,554.5 L810.5,553.3 L811,550.1 L811.5,552.7 L812,555.8 L812.5,554.4 L813,552.5 L813.5,554.8 L814,556.1 L814.5,556.7 L815,555.3 L815.5,552.4 L816,547.5 L816.5,548.8 L817,549.5 L817.5,548.8 L818,548.2 L818.5,554 L819,552.2 L819.5,557.8 L820,562.6 L820.5,557.7 L821,553.1 L821.5,550.5 L822,548.3 L822.5,548.1 L823,550.9 L823.5,549.3 L824,550.2 L824.5,550.5 L825,554.6 L825.5,554.4 L826,550.3 L826.5,549.2 L827,549 L827.5,544.8 L828,544.9 L828.5,545.5 L829,542.3 L829.5,543.5 L830,542.9 L830.5,541 L831,542.5 L831.5,537 L832,533.9 L832.5,528.5 L833,526 L833.5,522.3 L834,526.3 L834.5,529.4 L835,533.1 L835.5,536.9 L836,529.5 L836.5,528.3 L837,524.7 L837.5,525.9 L838,525.6 L838.5,530.5 L839,547.1 L839.5,565.6 L840,566.8 L840.5,568.2 L841,567.6 L841.5,570.7 L842,576.5 L842.5,575.7 L843,574.2 L843.5,571.3 L844,567.6 L844.5,565.5 L845,559.7 L845.5,562.4 L846,559.8 L846.5,561.4 L847,558.8 L847.5,559.2 L848,558 L848.5,561.1 L849,557.5 L849.5,557.7 L850,562.1 L850.5,562.9 L851,562.1 L851.5,559.9 L852,554.5 L852.5,552.3 L853,550.6 L853.5,549.4 L854,547.8 L854.5,548.3 L855,546.2 L855.5,543.1 L856,542.4 L856.5,546.9 L857,548.2 L857.5,552.9 L858,550.8 L858.5,553.8 L859,553.8 L859.5,553.8 L860,550.7 L860.5,547.4 L861,547.3 L861.5,542.1 L862,542.2 L862.5,542.9 L863,538.9 L863.5,538.2 L864,535.1 L864.5,533.7 L865,533 L865.5,534.1 L866,534.5 L866.5,532.6 L867,536.3 L867.5,535.5 L868,533.6 L868.5,538.7 L869,538.7 L869.5,544.5 L870,545.9 L870.5,550.8 L871,556.4 L871.5,558.2 L872,556.6 L872.5,556.2 L873,558.2 L873.5,556 L874,558.3 L874.5,566.4 L875,572.8 L875.5,578.1 L876,574.5 L876.5,576.9 L877,573 L877.5,573.5 L878,572.6 L878.5,572.1 L879,574 L879.5,573.8 L880,575.4 L880.5,573.3 L881,570.9 L881.5,571.4 L882,567 L882.5,565.9 L883,562.5 L883.5,560.7 L884,561.5 L884.5,555.1 L885,557.2 L885.5,554 L886,553.8 L886.5,552 L887,550.5 L887.5,547.7 L888,544.9 L888.5,553.1 L889,553.9 L889.5,552.3 L890,548.9 L890.5,552.7 L891,555.9 L891.5,554.3 L892,548.5 L892.5,547.9 L893,548.3 L893.5,546.9 L894,547.8 L894.5,543.3 L895,541.5 L895.5,535.5 L896,538.7 L896.5,537.4 L897,533.4 L897.5,527.9 L898,529.5 L898.5,524.2 L899,521.9 L899.5,519.6 L900,519.3 L900.5,519.5 L901,518.9 L901.5,522.3 L902,522.2 L902.5,527 L903,531.1 L903.5,537.3 L904,539.4 L904.5,544.9 L905,546.2 L905.5,541.9 L906,539.1 L906.5,532.9 L907,526.8 L907.5,526.3 L908,526.5 L908.5,530 L909,534.1 L909.5,538.9 L910,544.3 L910.5,540.8 L911,546 L911.5,552.7 L912,555.8 L912.5,552.3 L913,547.1 L913.5,543.7 L914,538.8 L914.5,532.9 L915,532.5 L915.5,537.9 L916,540.2 L916.5,542.4 L917,546.8 L917.5,549.2 L918,553.6 L918.5,554.1 L919,553.6 L919.5,559.7 L920,564.6 L920.5,561.1 L921,561.1 L921.5,561.4 L922,554.3 L922.5,561 L923,559.6 L923.5,556.5 L924,554.7 L924.5,555.5 L925,566.8 L925.5,565.4 L926,568.5 L926.5,566.8 L927,565.6 L927.5,566.5 L928,563 L928.5,562.8 L929,561.9 L929.5,562.2 L930,562.4 L930.5,562.5 L931,566.6 L931.5,565.6 L932,566.4 L932.5,568.7 L933,570 L933.5,573.5 L934,569.9 L934.5,573.7 L935,576.8 L935.5,587.4 L936,579.5 L936.5,567.9 L937,560.1 L937.5,547.3 L938,551.3 L938.5,557.8 L939,560 L939.5,565.3 L940,563.7 L940.5,564.2 L941,561.4 L941.5,560 L942,558.5 L942.5,558.1 L943,558.2 L943.5,554.9 L944,553.4 L944.5,551 L945,549.9 L945.5,546.4 L946,547.7 L946.5,546.5 L947,544.1 L947.5,541.4 L948,538 L948.5,535.1 L949,532.5 L949.5,531.1 L950,532.7 L950.5,535.2 L951,533.9 L951.5,535.8 L952,542.4 L952.5,546.9 L953,547 L953.5,550.2 L954,546.5 L954.5,548.1 L955,547.2 L955.5,550.2 L956,546.7 L956.5,544.2 L957,542.1 L957.5,538.1 L958,536.7 L958.5,530.7 L959,533.8 L959.5,537.2 L960,544.3 L960.5,550.3 L961,552.8 L961.5,552.7 L962,553.5 L962.5,558.7 L963,559.8 L963.5,561.6 L964,564.1 L964.5,572.5 L965,579.5 L965.5,587.3 L966,579.2 L966.5,574.6 L967,566.9 L967.5,563.9 L968,565.5 L968.5,566.2 L969,569.7 L969.5,567.5 L970,573 L970.5,570.3 L971,568.4 L971.5,565.8 L972,561.8 L972.5,559.3 L973,561.1 L973.5,559.2 L974,558.5 L974.5,556.3 L975,557.2 L975.5,556.5 L976,551.9 L976.5,555 L977,552.4 L977.5,549.3 L978,545.5 L978.5,541.7 L979,540.4 L979.5,541.5 L980,535 L980.5,533.3 L981,535.7 L981.5,537.7 L982,541.1 L982.5,539 L983,541.8 L983.5,544.6 L984,549.7 L984.5,553.4 L985,554.6 L985.5,553.8 L986,550.3 L986.5,547.8 L987,541 L987.5,540 L988,537.8 L988.5,538.8 L989,537 L989.5,532.8 L990,532.1 L990.5,530.2 L991,536.3 L991.5,539.8 L992,544 L992.5,552.4 L993,554.8 L993.5,560.6 L994,561.6 L994.5,565.9 L995,569.7 L995.5,563 L996,560.2 L996.5,551.8 L997,548.2 L997.5,538.9 L998,543.5 L998.5,544.1 L999,546.8 L999.5,549.7 L1000,545.9 L1000.5,544.1 L1001,539.9 L1001.5,538.9 L1002,538.4 L1002.5,537.2 L1003,537.1 L1003.5,535.4 L1004,534.5 L1004.5,529.8 L1005,528.4 L1005.5,524.5 L1006,523.5 L1006.5,517 L1007,518.5 L1007.5,518.1 L1008,515.7 L1008.5,520.3 L1009,522.5 L1009.5,528.4 L1010,533.5 L1010.5,534.3 L1011,534.3 L1011.5,532 L1012,531.1 L1012.5,531.1 L1013,535.3 L1013.5,544.5 L1014,553.7 L1014.5,557.8 L1015,557.1 L1015.5,559.3 L1016,562.9 L1016.5,565.5 L1017,562.5 L1017.5,565.7 L1018,563.2 L1018.5,562.2 L1019,562.6 L1019.5,562.6 L1020,560.4 L1020.5,557 L1021,555.8 L1021.5,552.6 L1022,555.6 L1022.5,549.7 L1023,557.7 L1023.5,563.1 L1024,566.5 L1024.5,566.1 L1025,568.1 L1025.5,570.2 L1026,571.6 L1026.5,573.7 L1027,576.2 L1027.5,577.1 L1028,577.6 L1028.5,577.6 L1029,574.6 L1029.5,575.2 L1030,573.6 L1030.5,571.1 L1031,571.6 L1031.5,573.1 L1032,571.5 L1032.5,568.4 L1033,572.5 L1033.5,574.7 L1034,572.9 L1034.5,576.3 L1035,580.3 L1035.5,578.2 L1036,585.1 L1036.5,589.2 L1037,592.5 L1037.5,591.1 L1038,583.9 L1038.5,583.3 L1039,583.7 L1039.5,573.3 L1040,571.4 L1040.5,571.4 L1041,567.2 L1041.5,562.1 L1042,562.9 L1042.5,561.3 L1043,557.6 L1043.5,556.6 L1044,558 L1044.5,560.6 L1045,561.5 L1045.5,559.7 L1046,562 L1046.5,560.2 L1047,563 L1047.5,563.9 L1048,563.8 L1048.5,561.5 L1049,559.6 L1049.5,554 L1050,552.2 L1050.5,550.7 L1051,554.6 L1051.5,557.7 L1052,565.9 L1052.5,568.3 L1053,567 L1053.5,567.9 L1054,569.4 L1054.5,570.8 L1055,572.5 L1055.5,571.1 L1056,577.8 L1056.5,578.6 L1057,577.3 L1057.5,574.8 L1058,573.7 L1058.5,570.7 L1059,565.6 L1059.5,566.8 L1060,569.6 L1060.5,569.4 L1061,568.9 L1061.5,576.4 L1062,576.3 L1062.5,579.2 L1063,580.6 L1063.5,586.9 L1064,582.8 L1064.5,584.7 L1065,577.7 L1065.5,580.9 L1066,578.5 L1066.5,573.4 L1067,575.2 L1067.5,574.7 L1068,569.4 L1068.5,569.5 L1069,567.1 L1069.5,565.5 L1070,559.6 L1070.5,557.1 L1071,554 L1071.5,554.3 L1072,552.9 L1072.5,551.1 L1073,554.4 L1073.5,551.5 L1074,553.1 L1074.5,552.6 L1075,547.6 L1075.5,542.3 L1076,543 L1076.5,545.2 L1077,549.5 L1077.5,551.4 L1078,553.9 L1078.5,554.5 L1079,554.2 L1079.5,560 L1080,557.1 L1080.5,550.4 L1081,550.2 L1081.5,549.5 L1082,546.6 L1082.5,551.7 L1083,557.4 L1083.5,563.9 L1084,568.5 L1084.5,568.7 L1085,567.9 L1085.5,567.7 L1086,569.2 L1086.5,571.2 L1087,568.5 L1087.5,569.5 L1088,568 L1088.5,566.5 L1089,565.9 L1089.5,569.5 L1090,573.9 L1090.5,576.8 L1091,573.7 L1091.5,578.3 L1092,585.8 L1092.5,586.5 L1093,581.6 L1093.5,581.1 L1094,578 L1094.5,575.3 L1095,574.3 L1095.5,573.1 L1096,570.1 L1096.5,569.2 L1097,567.5 L1097.5,569 L1098,571.1 L1098.5,570.8 L1099,572.1 L1099.5,573.2 L1100,580.9 L1100.5,581.7 L1101,587.9 L1101.5,587.3 L1102,586.5 L1102.5,584.9 L1103,580 L1103.5,571.3 L1104,568.4 L1104.5,567.7 L1105,571.3 L1105.5,576.8 L1106,583.8 L1106.5,583.8 L1107,581.1 L1107.5,582.6 L1108,579.6 L1108.5,580.1" stroke="#0000ff" stroke-width="1" fill="none" stroke-linejoin="round"/>
<path d="M207,477.5C201,475 195.5,479 196,484C196.5,489.5 204,491.5 209,488C213.5,484.5 212,478 206,476.5 M243,447C236,446.5 230.5,451 231,457C231.5,463 240,466 246,462C251,458 249,449.5 241.5,447 M236,446.5L240,448 M247,447L244.5,451 M314.5,389.5C309,392 304.5,399 306,406.5C308,414.5 318.5,417 325.5,412C331.5,407.5 331,398.5 325,395.5C321,394 316,395.5 313,397 M238,301.5C243,300.5 251,301 255,304C259.5,310 258.5,324 253,330C249.5,333.5 245.5,330.5 243,326C239,318.5 239,308 243.5,303.5 M377.5,209.8C372,208.5 360,209 358.5,212C357.5,215.5 363,217.5 368,217.5C373,217 376.5,214 377.5,209.8 M1083,63.5C1078,61.6 1071,62.6 1069.9,65.6C1069.6,68.6 1075,69.8 1080,69.3C1083.3,68.8 1084.3,67.3 1082.8,66 M1081.5,67.8L1083,67.4 M967.5,449.8C962,448.5 958.5,452 958.5,456C959,460.5 965,462.5 969,460C972.5,457 972,451 966.5,449.8 M1023,438.3C1028,437.5 1032,435.5 1033.8,433C1029,437 1028,444 1033,449.5C1038.5,454.5 1049,454.5 1052,449.5C1054.5,444.5 1049,438.5 1041,437.3C1036.5,436.8 1031.5,437.5 1029.5,439" stroke="#000" stroke-width="1.5" fill="none" stroke-linecap="round" stroke-linejoin="round"/>
<path d="M809.5,490.5L887,459.3 M874.5,457.5L887,459.3L881.3,468.3" stroke="#f22" stroke-width="1.1" fill="none" stroke-linecap="round" stroke-linejoin="round"/>
<path d="M1175,489.3L1221,419.5 M1201,429.3L1221,419.5L1221,442" stroke="#ff0000" stroke-width="1.6" fill="none" stroke-linecap="round" stroke-linejoin="round"/>
<rect x="277.6" y="295.5" width="201.8" height="37.3" rx="4" fill="#1b1b1b"/>
<text x="378.5" y="310" font-family="Liberation Mono, DejaVu Sans Mono, monospace" font-size="12" fill="#ffffff" stroke="#1b1b1b" stroke-width="0.3" paint-order="fill" text-anchor="middle">-1010.60 (-86.90%) -101060</text>
<text x="378.5" y="326.9" font-family="Liberation Mono, DejaVu Sans Mono, monospace" font-size="12" fill="#ffffff" stroke="#1b1b1b" stroke-width="0.3" paint-order="fill" text-anchor="middle">407 bars, 410d</text>
<rect x="1008.2" y="140.3" width="216" height="37.3" rx="4" fill="#1b1b1b"/>
<text x="1115.5" y="155.1" font-family="Liberation Mono, DejaVu Sans Mono, monospace" font-size="12" fill="#ffffff" stroke="#1b1b1b" stroke-width="0.3" paint-order="fill" text-anchor="middle">-17089.13 (-86.90%) -1708913</text>
<text x="1115.5" y="172.1" font-family="Liberation Mono, DejaVu Sans Mono, monospace" font-size="12" fill="#ffffff" stroke="#1b1b1b" stroke-width="0.3" paint-order="fill" text-anchor="middle">410 bars, 410d</text>
<ellipse cx="480.1" cy="291.3" rx="10" ry="9.3" fill="#00ff00" fill-opacity="0.3" stroke="#e00000" stroke-width="1.7"/>
<path d="M1030.8,159.5L1037,113.8 M1022.5,131.8L1037,113.8L1045.8,134.3" stroke="#ff0000" stroke-width="1.6" fill="none" stroke-linecap="round" stroke-linejoin="round"/>
<text x="1228.9" y="133.4" font-family="DejaVu Sans, Verdana, sans-serif" font-weight="bold" font-size="16.15" fill="#9b0cf8">2013 'Floor'</text>
<text x="1106.5" y="371" font-family="DejaVu Sans, Verdana, sans-serif" font-weight="bold" font-style="italic" font-size="13.85" fill="#111">Must see Volume spike</text>
<text x="1106.5" y="385" font-family="DejaVu Sans, Verdana, sans-serif" font-weight="bold" font-style="italic" font-size="13.85" fill="#111">before trying to catch</text>
<text x="1106.5" y="399" font-family="DejaVu Sans, Verdana, sans-serif" font-weight="bold" font-style="italic" font-size="13.85" fill="#111">the knife!</text>
<path d="M1108,91.8L1117.5,83" stroke="#1873df" stroke-width="1.5" fill="none"/>
<path d="M1119.8,80.3 L1112.6,85 L1119.6,87Z" fill="#1873df"/>
<path d="M1121.6,76.4Q1195,74 1216.2,130" stroke="#1873df" stroke-width="1.2" fill="none"/>
<path d="M1216.4,133.4 L1212.6,127.3 L1219.4,127Z" fill="#1873df"/>
<path d="M1222,138Q1268.8,135.5 1280.8,107" stroke="#1873df" stroke-width="1.2" fill="none"/>
<path d="M1281.5,103.5 L1277,107.6 L1284.2,108.3Z" fill="#1873df"/>
<path d="M1102.8,32.3H1265a4,4 0 0 1 4,4V65a4,4 0 0 1 -4,4H1127L1120,75L1113,69H1102.8a4,4 0 0 1 -4,-4V36.3a4,4 0 0 1 4,-4Z" fill="#1873df"/>
<path d="M1104.2,33.3H1154.2a3,3 0 0 1 3,3V62.9a3,3 0 0 1 -3,3H1125.3L1120,72.3L1115,65.9H1104.2a3,3 0 0 1 -3,-3V36.3a3,3 0 0 1 3,-3Z" fill="#f0f0f0"/>
<text x="1104.3" y="46.9" font-family="Liberation Sans, Arial, sans-serif" font-size="12" fill="#6e6e6e">7848.09</text>
<text x="1104.3" y="58.8" font-family="Liberation Sans, Arial, sans-serif" font-size="10" fill="#6e6e6e">2018-07-22</text>
<text x="1160" y="48.8" font-family="Liberation Sans, Arial, sans-serif" font-size="14" fill="#fff">(24.94%) in 22d</text>
<text x="1163" y="63.2" font-family="Liberation Sans, Arial, sans-serif" font-size="11" fill="#fff">2018-07-17</text>
<path d="M1091,103.8H1103.5L1108,98.5L1112.5,103.8H1141.5a3,3 0 0 1 3,3V132.8a3,3 0 0 1 -3,3H1091a3,3 0 0 1 -3,-3V106.8a3,3 0 0 1 3,-3Z" fill="#f0f0f0" stroke="#a4a4a4" stroke-width="1"/>
<text x="1091.3" y="117.3" font-family="Liberation Sans, Arial, sans-serif" font-size="12" fill="#6e6e6e">5930.32</text>
<text x="1091.3" y="129.4" font-family="Liberation Sans, Arial, sans-serif" font-size="10" fill="#6e6e6e">2018-06-25</text>
<path d="M1266.5,54.5H1373V89.5H1288L1282.5,95L1277,89.5H1266.5a4,4 0 0 1 -4,-4V58.5a4,4 0 0 1 4,-4Z" fill="#1873df"/>
<text x="1268" y="69.5" font-family="Liberation Sans, Arial, sans-serif" font-size="14" fill="#fff">2514.11 (97.95%) in 142d</text>
<text x="1268.5" y="84.4" font-family="Liberation Sans, Arial, sans-serif" font-size="11" fill="#fff">5080.72</text>
<text x="1312.5" y="84.4" font-family="Liberation Sans, Arial, sans-serif" font-size="11" fill="#fff">°</text>
<text x="1326" y="84.4" font-family="Liberation Sans, Arial, sans-serif" font-size="11" fill="#fff">2019-06-04</text>
<path d="M1200.5,146.6H1214.5L1220.5,140.5L1226.5,146.6H1373V182.7H1200.5a4,4 0 0 1 -4,-4V150.6a4,4 0 0 1 4,-4Z" fill="#1873df"/>
<path d="M1204,149.2H1216.6L1220.8,143.4L1226.5,149.2H1254.2a3,3 0 0 1 3,3V178.8a3,3 0 0 1 -3,3H1204a3,3 0 0 1 -3,-3V152.2a3,3 0 0 1 3,-3Z" fill="#f0f0f0"/>
<text x="1204.3" y="162.6" font-family="Liberation Sans, Arial, sans-serif" font-size="12" fill="#6e6e6e">2566.60</text>
<text x="1204.3" y="175" font-family="Liberation Sans, Arial, sans-serif" font-size="10" fill="#6e6e6e">2019-02-07</text>
<text x="1262.5" y="163" font-family="Liberation Sans, Arial, sans-serif" font-size="14" fill="#fff">(-65.98%) in 191d</text>
<text x="1261" y="178.2" font-family="Liberation Sans, Arial, sans-serif" font-size="11" fill="#fff">2019-01-29</text>
<circle cx="1108" cy="91.8" r="2.8" fill="#000"/>
<path d="M1119.3,80.3L1121.3,77" stroke="#000" stroke-width="5.4" stroke-linecap="round"/>
<path d="M1216.6,135.6L1221.1,137.8" stroke="#000" stroke-width="5.4" stroke-linecap="round"/>
<path d="M1221.8,139.5L1223.2,145" stroke="#000" stroke-width="1" fill="none"/>
<circle cx="1282" cy="100.8" r="2.8" fill="#000"/>
<rect x="1372" y="0" width="58" height="623" fill="#fff"/>
<rect x="0" y="605" width="1430" height="18" fill="#fff"/>
<path d="M1373.5,0V604.5 M0,604.5H1374 M0,508.5H1430" stroke="#555" stroke-width="1" fill="none"/>
<text x="1380.3" y="7.1" font-family="Liberation Sans, Arial, sans-serif" font-size="11" fill="#555">30000.00</text>
<text x="1380.3" y="35.1" font-family="Liberation Sans, Arial, sans-serif" font-size="11" fill="#555">18000.00</text>
<text x="1380.3" y="67.1" font-family="Liberation Sans, Arial, sans-serif" font-size="11" fill="#555">10000.00</text>
<text x="1380.3" y="213.1" font-family="Liberation Sans, Arial, sans-serif" font-size="11" fill="#555">700.00</text>
<text x="1380.3" y="241.1" font-family="Liberation Sans, Arial, sans-serif" font-size="11" fill="#555">420.00</text>
<text x="1380.3" y="271.1" font-family="Liberation Sans, Arial, sans-serif" font-size="11" fill="#555">245.00</text>
<text x="1380.3" y="329.1" font-family="Liberation Sans, Arial, sans-serif" font-size="11" fill="#555">85.00</text>
<text x="1380.3" y="358.1" font-family="Liberation Sans, Arial, sans-serif" font-size="11" fill="#555">50.00</text>
<text x="1380.3" y="386.1" font-family="Liberation Sans, Arial, sans-serif" font-size="11" fill="#555">30.00</text>
<text x="1380.3" y="414.1" font-family="Liberation Sans, Arial, sans-serif" font-size="11" fill="#555">18.00</text>
<text x="1380.3" y="446.1" font-family="Liberation Sans, Arial, sans-serif" font-size="11" fill="#555">10.00</text>
<text x="1380.3" y="474.1" font-family="Liberation Sans, Arial, sans-serif" font-size="11" fill="#555">6.00</text>
<text x="1380.3" y="502.1" font-family="Liberation Sans, Arial, sans-serif" font-size="11" fill="#555">3.60</text>
<text x="1380.3" y="537.1" font-family="Liberation Sans, Arial, sans-serif" font-size="11" fill="#555">80.0000</text>
<text x="1380.3" y="579.1" font-family="Liberation Sans, Arial, sans-serif" font-size="11" fill="#555">40.0000</text>
<text x="3.5" y="619.3" font-family="Liberation Sans, Arial, sans-serif" font-size="11" fill="#555" text-anchor="middle">Jun</text>
<text x="110.5" y="619.3" font-family="Liberation Sans, Arial, sans-serif" font-size="11" fill="#555" text-anchor="middle" font-weight="bold">2013</text>
<text x="186.5" y="619.3" font-family="Liberation Sans, Arial, sans-serif" font-size="11" fill="#555" text-anchor="middle">Jun</text>
<text x="293.5" y="619.3" font-family="Liberation Sans, Arial, sans-serif" font-size="11" fill="#555" text-anchor="middle" font-weight="bold">2014</text>
<text x="368.5" y="619.3" font-family="Liberation Sans, Arial, sans-serif" font-size="11" fill="#555" text-anchor="middle">Jun</text>
<text x="475.5" y="619.3" font-family="Liberation Sans, Arial, sans-serif" font-size="11" fill="#555" text-anchor="middle" font-weight="bold">2015</text>
<text x="564.5" y="619.3" font-family="Liberation Sans, Arial, sans-serif" font-size="11" fill="#555" text-anchor="middle">Jul</text>
<text x="656.5" y="619.3" font-family="Liberation Sans, Arial, sans-serif" font-size="11" fill="#555" text-anchor="middle" font-weight="bold">2016</text>
<text x="746.5" y="619.3" font-family="Liberation Sans, Arial, sans-serif" font-size="11" fill="#555" text-anchor="middle">Jul</text>
<text x="838.5" y="619.3" font-family="Liberation Sans, Arial, sans-serif" font-size="11" fill="#555" text-anchor="middle" font-weight="bold">2017</text>
<text x="913.5" y="619.3" font-family="Liberation Sans, Arial, sans-serif" font-size="11" fill="#555" text-anchor="middle">Jun</text>
<text x="1020.5" y="619.3" font-family="Liberation Sans, Arial, sans-serif" font-size="11" fill="#555" text-anchor="middle" font-weight="bold">2018</text>
<text x="1096.5" y="619.3" font-family="Liberation Sans, Arial, sans-serif" font-size="11" fill="#555" text-anchor="middle">Jun</text>
<text x="1203.5" y="619.3" font-family="Liberation Sans, Arial, sans-serif" font-size="11" fill="#555" text-anchor="middle" font-weight="bold">2019</text>
<text x="1278.5" y="619.3" font-family="Liberation Sans, Arial, sans-serif" font-size="11" fill="#555" text-anchor="middle">Jun</text>
<text x="1355.5" y="619.3" font-family="Liberation Sans, Arial, sans-serif" font-size="11" fill="#555" text-anchor="middle">Nov</text>
<path d="M1373.5,2.5h3.5M1373.5,30.5h3.5M1373.5,62.5h3.5M1373.5,208.5h3.5M1373.5,236.5h3.5M1373.5,266.5h3.5M1373.5,324.5h3.5M1373.5,353.5h3.5M1373.5,381.5h3.5M1373.5,409.5h3.5M1373.5,441.5h3.5M1373.5,469.5h3.5M1373.5,497.5h3.5M1373.5,532.5h3.5M1373.5,574.5h3.5M3.5,604.5v3.5M110.5,604.5v3.5M186.5,604.5v3.5M293.5,604.5v3.5M368.5,604.5v3.5M475.5,604.5v3.5M564.5,604.5v3.5M656.5,604.5v3.5M746.5,604.5v3.5M838.5,604.5v3.5M913.5,604.5v3.5M1020.5,604.5v3.5M1096.5,604.5v3.5M1203.5,604.5v3.5M1278.5,604.5v3.5M1355.5,604.5v3.5" stroke="#555" stroke-width="1" fill="none"/>
<rect x="1373.5" y="83" width="50.5" height="15.8" fill="#d75442"/>
<path d="M1374,90.9h3" stroke="#fff" stroke-opacity="0.45" stroke-width="1"/>
<text x="1380.3" y="95" font-family="Liberation Sans, Arial, sans-serif" font-size="11" fill="#fff">6094.84</text>
<rect x="1373.5" y="98.8" width="50.5" height="16" fill="#0000fb"/>
<path d="M1374,106.8h3" stroke="#fff" stroke-opacity="0.45" stroke-width="1"/>
<text x="1380.3" y="110.9" font-family="Liberation Sans, Arial, sans-serif" font-size="11" fill="#fff">5920.72</text>
<rect x="1373.5" y="114.8" width="50.5" height="16" fill="#0000fb"/>
<path d="M1374,122.8h3" stroke="#fff" stroke-opacity="0.45" stroke-width="1"/>
<text x="1380.3" y="126.9" font-family="Liberation Sans, Arial, sans-serif" font-size="11" fill="#fff">4979.90</text>
<rect x="1373.5" y="130.8" width="50.5" height="16" fill="#0000fb"/>
<path d="M1374,138.8h3" stroke="#fff" stroke-opacity="0.45" stroke-width="1"/>
<text x="1380.3" y="142.9" font-family="Liberation Sans, Arial, sans-serif" font-size="11" fill="#fff">2980.00</text>
<rect x="1373.5" y="146.8" width="50.5" height="15.8" fill="#9b0cf8"/>
<path d="M1374,154.7h3" stroke="#fff" stroke-opacity="0.45" stroke-width="1"/>
<text x="1380.3" y="158.8" font-family="Liberation Sans, Arial, sans-serif" font-size="11" fill="#fff">2580.64</text>
<rect x="1373.5" y="174" width="49.5" height="15.8" fill="#ff9200"/>
<path d="M1374,181.9h3" stroke="#fff" stroke-opacity="0.45" stroke-width="1"/>
<text x="1380.3" y="186" font-family="Liberation Sans, Arial, sans-serif" font-size="11" fill="#fff">1153.27</text>
<rect x="1373.5" y="285" width="44.5" height="16" fill="#0000fb"/>
<path d="M1374,293h3" stroke="#fff" stroke-opacity="0.45" stroke-width="1"/>
<text x="1380.3" y="297.1" font-family="Liberation Sans, Arial, sans-serif" font-size="11" fill="#fff">152.40</text>
</svg>
</body></html>
